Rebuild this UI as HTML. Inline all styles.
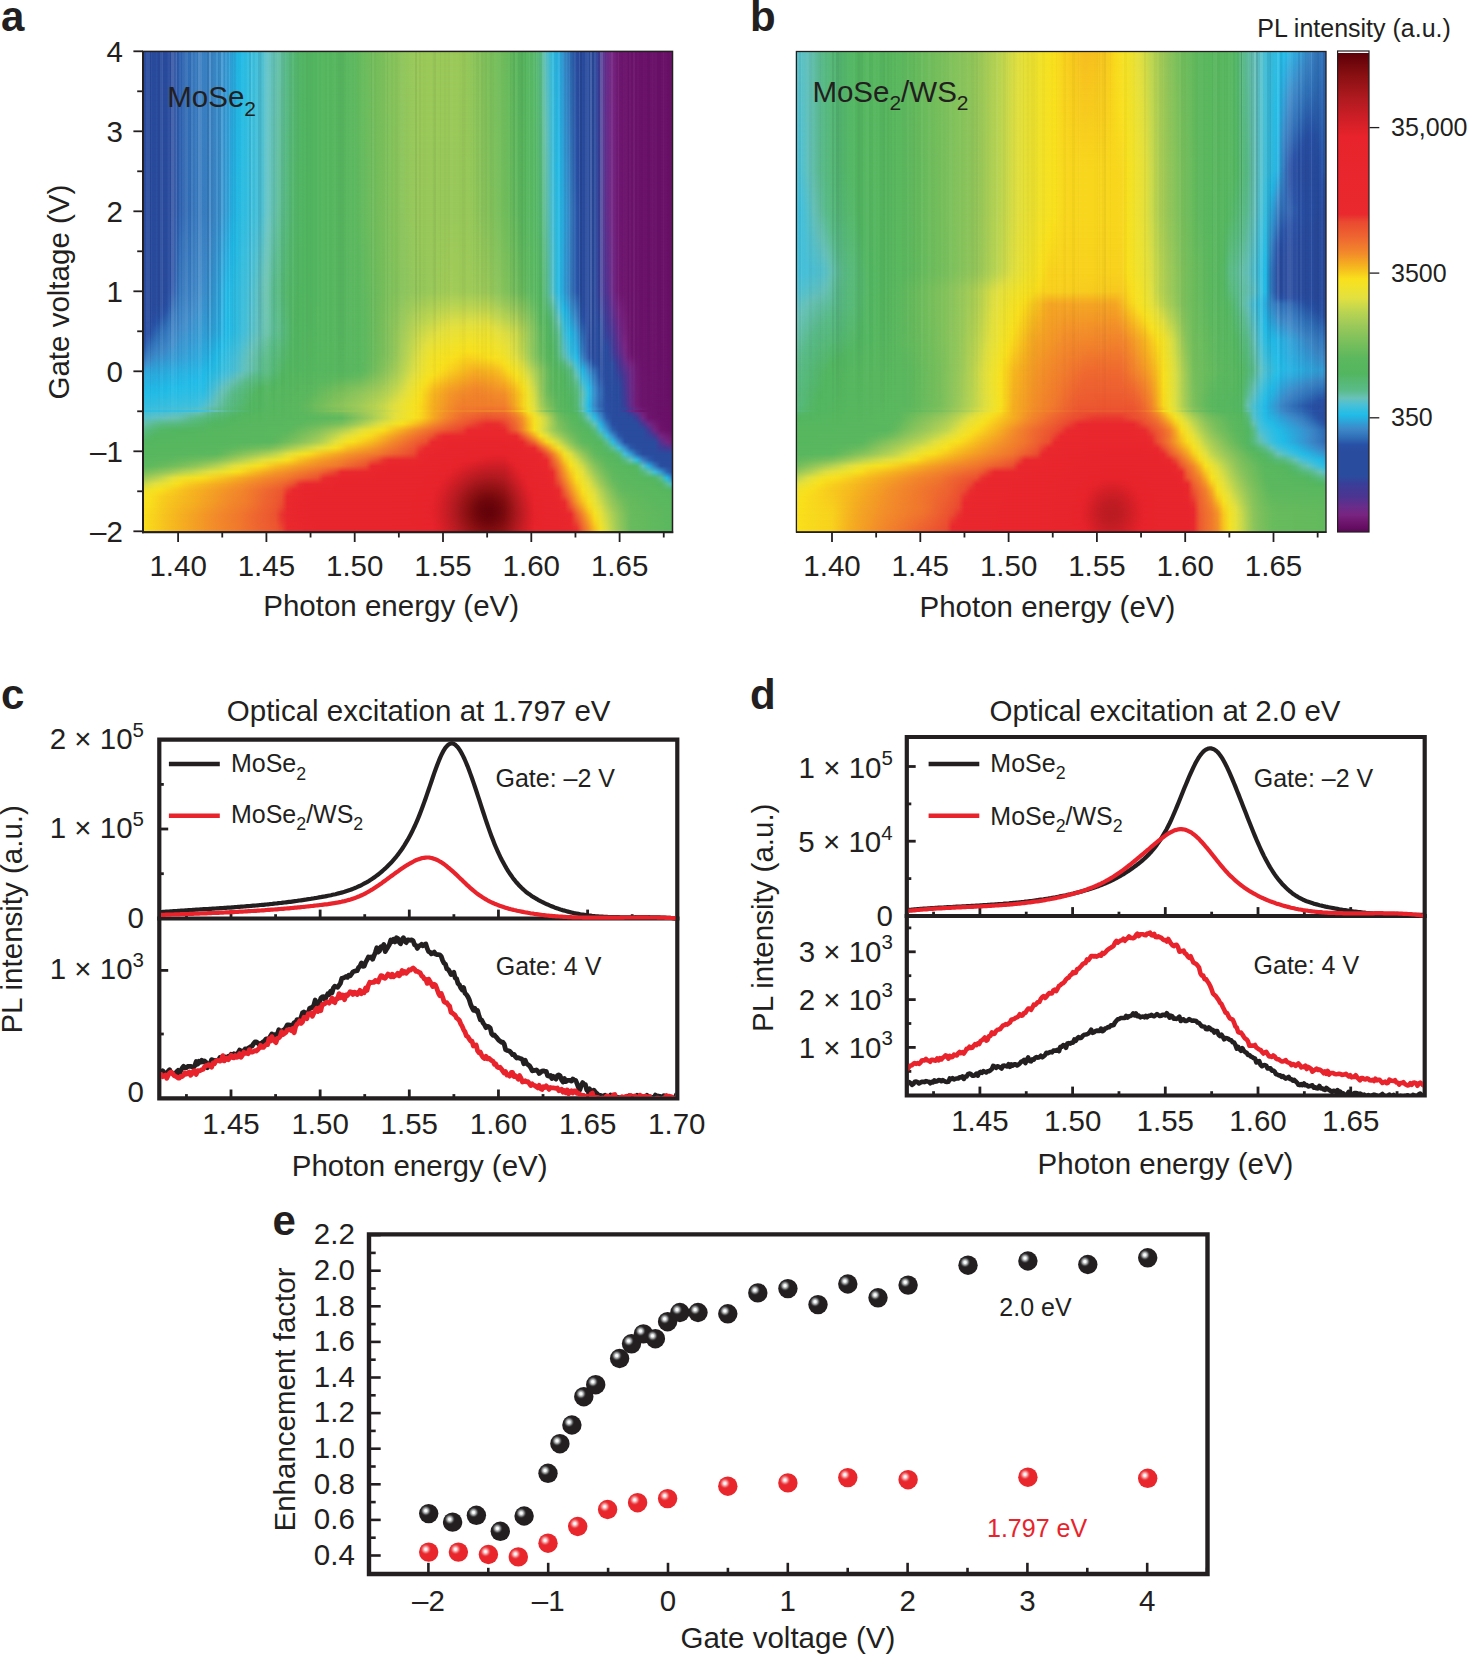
<!DOCTYPE html>
<html><head><meta charset="utf-8"><title>Figure</title>
<style>
html,body{margin:0;padding:0;background:#fff;width:1467px;height:1658px;overflow:hidden}
body{position:relative;font-family:"Liberation Sans",sans-serif}
.hm{position:absolute;overflow:hidden}
.hm>div{position:absolute;left:0;width:100%}
.hm i{position:absolute;left:0;top:0;right:0;bottom:0;-webkit-mask-image:linear-gradient(180deg,rgba(0,0,0,0),#000);mask-image:linear-gradient(180deg,rgba(0,0,0,0),#000)}
svg{position:absolute;left:0;top:0}
</style></head><body>
<div class="hm" style="left:143px;top:51.5px;width:529.5px;height:480px;--g0:linear-gradient(90deg,#2a4c9e,#2a4c9e,#2a4c9e,#2a4c9e,#2a4c9e,#2a4c9e,#2c5ead,#2e68b3,#3171b9,#3578be,#3880c2,#3b85c6,#3b8bca,#3891ce,#3498d2,#2ba8db,#21bce8,#2dbde3,#39bede,#44c0da,#51c1cf,#60c1c0,#66c1b0,#60be9c,#59ba84,#56b975,#54b768,#53b663,#53b660,#54b660,#55b75f,#56b75f,#57b75f,#58b75f,#5ab85e,#5db85e,#64ba5d,#6cbc5d,#72bd5c,#78bf5c,#7ec15c,#84c25b,#8ac45b,#8ec55b,#93c75a,#98c85a,#9bc959,#9bc959,#9bc959,#9bc959,#9bc959,#9bc959,#9bc959,#9ac959,#93c75a,#8dc55b,#86c35b,#80c15c,#7abf5c,#73be5c,#6dbc5d,#64ba5d,#5cb85e,#59b75f,#54b660,#54b769,#59bb85,#59c1c7,#33bee0,#28aedf,#398fcd,#2f6db6,#2a4c9e,#2a4c9e,#2a4c9e,#2a4c9e,#473793,#6a2c8a,#772581,#6f1871,#6d146d,#6c136c,#6c126b,#6b126a,#6b1169,#6a1069,#6a1068,#691067,#680f66);--g1:linear-gradient(90deg,#2a4c9e,#2a4c9e,#2a4c9e,#2a4c9e,#2a4c9e,#2a4c9e,#2c5ead,#2e68b3,#3171b9,#3578be,#3880c2,#3b85c6,#3b8bca,#3891ce,#3498d2,#2ba8dc,#21bce8,#2ebde3,#39bede,#44c0da,#51c1cf,#60c1c0,#66c1af,#60be9c,#59ba84,#56b975,#54b768,#53b663,#53b660,#54b660,#55b75f,#56b75f,#57b75f,#58b75f,#5ab85e,#5db85e,#64ba5d,#6cbc5d,#72bd5c,#77bf5c,#7dc15c,#83c25b,#89c45b,#8ec55b,#93c75a,#98c85a,#9bc959,#9bc959,#9bc959,#9bc959,#9bc959,#9bc959,#9bc959,#9ac959,#93c75a,#8dc55b,#87c35b,#80c15b,#7ac05c,#74be5c,#6dbc5d,#65ba5d,#5cb85e,#59b75f,#54b660,#54b769,#59bb85,#5ac1c6,#34bee0,#27afe0,#3990cd,#2f6eb7,#2a4c9f,#2a4c9e,#2a4c9e,#2a4c9e,#463793,#6a2c8a,#762581,#6f1871,#6d146d,#6c136c,#6c126b,#6b126a,#6b1169,#6a1069,#6a1068,#691067,#680f66);--g2:linear-gradient(90deg,#2a4c9e,#2a4c9e,#2a4c9e,#2a4c9e,#2a4c9e,#2a4c9e,#2c5ead,#2e68b3,#3171b9,#3478bd,#387fc2,#3b85c6,#3b8bca,#3891ce,#3498d2,#2ba9dc,#21bce8,#2ebde2,#39bede,#44c0da,#51c1cf,#60c1c0,#65c1af,#60be9b,#59ba83,#56b974,#54b768,#53b663,#53b660,#54b660,#55b75f,#56b75f,#57b75f,#58b75f,#5ab85e,#5db85e,#64ba5d,#6cbc5d,#72bd5c,#77bf5c,#7dc15c,#83c25b,#89c45b,#8ec55b,#93c75a,#98c85a,#9bc959,#9bc959,#9bc959,#9bc959,#9bc959,#9bc959,#9bc959,#9ac95a,#94c75a,#8dc55b,#87c35b,#80c15b,#7ac05c,#74be5c,#6ebc5d,#65ba5d,#5cb85e,#59b75f,#54b660,#54b768,#59ba84,#5bc1c5,#35bee0,#27b0e0,#3891cd,#306fb7,#2a4d9f,#2a4c9e,#2a4c9e,#2a4c9e,#463794,#6a2c8a,#762581,#6f1871,#6d146d,#6c136c,#6c126b,#6b126a,#6b1169,#6a1069,#6a1068,#691067,#680f66);--g3:linear-gradient(90deg,#2a4c9e,#2a4c9e,#2a4c9e,#2a4c9e,#2a4c9e,#2a4c9e,#2c5ead,#2e68b3,#3171b9,#3478bd,#387fc2,#3b85c6,#3b8bca,#3891ce,#3499d2,#2ba9dc,#21bce7,#2ebde2,#39bfde,#44c0da,#51c1cf,#60c1c0,#65c1af,#5fbe9b,#59ba83,#56b874,#54b768,#53b663,#53b660,#54b660,#55b75f,#56b75f,#57b75f,#58b75f,#5ab85e,#5cb85e,#64ba5d,#6cbc5d,#72bd5c,#77bf5c,#7dc05c,#83c25b,#89c45b,#8ec55b,#93c75a,#98c85a,#9bc959,#9bc959,#9bc959,#9bc959,#9bc959,#9bc959,#9bc959,#9ac95a,#94c75a,#8dc55b,#87c35b,#81c15b,#7ac05c,#74be5c,#6ebc5d,#65ba5d,#5cb85e,#59b75f,#55b75f,#54b768,#59ba83,#5cc1c4,#36bedf,#27b0e1,#3891ce,#3070b8,#2a4d9f,#2a4c9e,#2a4c9e,#2a4c9e,#463794,#6a2c8a,#762581,#6f1871,#6d146d,#6c136c,#6c126b,#6b126a,#6b1169,#6a1069,#6a1068,#691067,#680f66);--g4:linear-gradient(90deg,#2a4c9e,#2a4c9e,#2a4c9e,#2a4c9e,#2a4c9e,#2a4c9e,#2c5ead,#2e68b3,#3071b9,#3478bd,#387fc2,#3b85c6,#3b8bca,#3892ce,#3499d2,#2aaadd,#22bce7,#2ebde2,#39bfde,#44c0da,#51c1cf,#60c2c0,#65c1af,#5fbe9a,#59ba83,#56b873,#54b768,#53b663,#53b660,#54b660,#55b75f,#56b75f,#57b75f,#58b75f,#5ab85e,#5cb85e,#64ba5d,#6bbc5d,#72bd5c,#77bf5c,#7dc05c,#83c25b,#89c45b,#8ec55b,#93c75a,#98c85a,#9bc959,#9bc959,#9bc959,#9bc959,#9bc959,#9bc959,#9bc959,#9ac95a,#94c75a,#8ec55b,#87c35b,#81c25b,#7bc05c,#74be5c,#6ebc5d,#65ba5d,#5cb85e,#59b75f,#55b75f,#53b767,#59ba82,#5dc1c3,#36bedf,#26b1e1,#3792ce,#3071b9,#2a4da0,#2a4c9e,#2a4c9e,#2a4c9e,#453894,#6a2c8a,#762581,#6f1871,#6d146d,#6c136c,#6c126b,#6b126a,#6b1169,#6a1069,#6a1068,#691067,#680f66);--g5:linear-gradient(90deg,#2a4c9e,#2a4c9e,#2a4c9e,#2a4c9e,#2a4c9e,#2a4c9e,#2c5ead,#2e68b3,#3071b9,#3478bd,#387fc2,#3b85c6,#3b8bca,#3892ce,#3399d3,#2aaadd,#22bce7,#2ebde2,#39bfde,#44c0da,#51c1cf,#60c2c0,#65c1ae,#5fbe9a,#59ba82,#56b873,#54b768,#53b663,#53b660,#54b660,#55b75f,#56b75f,#57b75f,#58b75f,#5ab85e,#5cb85e,#64ba5d,#6bbc5d,#72bd5c,#77bf5c,#7dc05c,#83c25b,#89c45b,#8ec55b,#93c75a,#98c85a,#9bc959,#9bc959,#9bc959,#9bc959,#9bc959,#9bc959,#9bc959,#9ac95a,#94c75a,#8ec55b,#88c35b,#81c25b,#7bc05c,#74be5c,#6ebd5d,#65ba5d,#5cb85e,#59b75f,#55b75f,#53b767,#59ba81,#5ec1c2,#37bedf,#26b2e2,#3793cf,#3172b9,#294da0,#2a4c9e,#2a4c9e,#2a4c9e,#453894,#692c8a,#762581,#6f1871,#6d146d,#6c136c,#6c126b,#6b126a,#6b1169,#6a1069,#6a1068,#691067,#680f66);--g6:linear-gradient(90deg,#2a4c9e,#2a4c9e,#2a4c9e,#2a4c9e,#2a4c9e,#2a4c9e,#2c5ead,#2e68b3,#3071b9,#3478bd,#387fc2,#3b85c6,#3b8bca,#3892ce,#3399d3,#2aaadd,#22bce7,#2ebde2,#39bfde,#44c0d9,#51c1cf,#60c2c0,#65c1ae,#5fbd99,#59ba82,#56b873,#54b768,#53b663,#53b660,#54b660,#55b75f,#56b75f,#57b75f,#58b75f,#5ab85e,#5cb85e,#64ba5d,#6bbc5d,#71bd5c,#77bf5c,#7dc05c,#83c25b,#89c45b,#8ec55b,#93c65a,#97c85a,#9bc959,#9bc959,#9bc959,#9bc959,#9bc959,#9bc959,#9bc959,#99c95a,#94c75a,#8ec55b,#88c35b,#82c25b,#7bc05c,#75be5c,#6ebd5d,#66ba5d,#5db85e,#59b75f,#55b75f,#53b766,#59ba81,#5fc1c1,#38bede,#25b2e2,#3794cf,#3173ba,#294da0,#2a4c9e,#2a4c9e,#2a4c9e,#453894,#692c8a,#762581,#6f1871,#6d146d,#6c136c,#6c126b,#6b126a,#6b1169,#6a1069,#6a1068,#691067,#680f66);--g7:linear-gradient(90deg,#2a4c9e,#2a4c9e,#2a4c9e,#2a4c9e,#2a4c9e,#2a4c9e,#2c5ead,#2e68b3,#3071b8,#3478bd,#387fc2,#3b84c6,#3c8bca,#3892ce,#339ad3,#29abde,#23bce7,#2fbde2,#39bfde,#44c0d9,#51c1cf,#60c2c0,#65c0ae,#5fbd98,#59ba82,#56b872,#53b767,#52b662,#53b660,#54b660,#55b75f,#56b75f,#57b75f,#58b75f,#5ab85e,#5cb85e,#63ba5d,#6bbc5d,#71bd5c,#77bf5c,#7dc05c,#83c25b,#89c45b,#8ec55b,#92c65a,#97c85a,#9ac959,#9ac959,#9ac959,#9ac959,#9ac959,#9ac959,#9ac959,#99c95a,#94c75a,#8ec55b,#88c45b,#82c25b,#7bc05c,#75be5c,#6ebd5d,#66ba5d,#5db85e,#59b75f,#55b75f,#53b766,#58ba80,#61c2bf,#39bede,#25b3e2,#3694d0,#3273ba,#294da1,#2a4c9e,#2a4c9e,#2a4c9e,#443894,#692c8a,#762581,#6f1871,#6d146d,#6c136c,#6c126b,#6b126a,#6b1169,#6a1069,#6a1068,#691067,#680f66);--g8:linear-gradient(90deg,#2a4c9e,#2a4c9e,#2a4c9e,#2a4c9e,#2a4c9e,#2a4c9e,#2c5ead,#2e68b3,#3071b8,#3478bd,#387fc2,#3b84c6,#3c8bca,#3892ce,#339ad3,#29abde,#23bce7,#2fbde2,#3abfde,#44c0d9,#51c1cf,#61c2bf,#65c0ad,#5fbd98,#59ba81,#56b872,#53b767,#52b662,#53b660,#54b660,#55b75f,#56b75f,#57b75f,#58b75f,#5ab85e,#5cb85e,#63ba5d,#6bbc5d,#71bd5c,#77bf5c,#7dc05c,#83c25b,#89c45b,#8ec55b,#92c65a,#97c85a,#9ac959,#9ac959,#9ac959,#9ac959,#9ac959,#9ac959,#9ac959,#99c85a,#95c75a,#8fc55b,#88c45b,#82c25b,#7cc05c,#75be5c,#6fbd5d,#66bb5d,#5db85e,#59b75f,#55b75f,#53b766,#58ba7f,#62c2be,#3abfde,#25b4e3,#3695d0,#3274bb,#294ea1,#2a4c9e,#2a4c9e,#2a4c9e,#443894,#692c8a,#762581,#701871,#6d146d,#6c136c,#6c126b,#6b126a,#6b1169,#6a1069,#6a1068,#691067,#680f66);--g9:linear-gradient(90deg,#2a4c9e,#2a4c9e,#2a4c9e,#2a4c9e,#2a4c9e,#2a4c9e,#2c5ead,#2e67b3,#3071b8,#3477bd,#387ec2,#3b84c5,#3c8bca,#3792ce,#339ad3,#29acde,#23bce7,#2fbde2,#3abfde,#44c0d9,#51c1cf,#61c2bf,#65c0ad,#5ebd97,#59ba81,#56b872,#53b767,#52b662,#53b660,#54b660,#55b75f,#56b75f,#57b75f,#58b75f,#5ab85e,#5cb85e,#63ba5d,#6bbc5d,#71bd5c,#77bf5c,#7dc05c,#83c25b,#88c45b,#8dc55b,#92c65a,#97c85a,#9ac959,#9ac959,#9ac959,#9ac959,#9ac959,#9ac959,#9ac959,#99c85a,#95c75a,#8fc55b,#89c45b,#82c25b,#7cc05c,#75be5c,#6fbd5d,#66bb5d,#5db85e,#59b75f,#55b75f,#53b765,#58ba7e,#63c2bd,#3abfdd,#24b4e3,#3596d0,#3375bb,#294ea1,#2a4c9e,#2a4c9e,#2a4c9e,#443994,#692c8a,#762582,#701871,#6d146d,#6c136c,#6c126b,#6b126a,#6b1169,#6a1069,#6a1068,#691067,#680f66);--g10:linear-gradient(90deg,#2a4c9e,#2a4c9e,#2a4c9e,#2a4c9e,#2a4c9e,#2a4c9e,#2c5ead,#2e67b3,#3070b8,#3477bd,#387ec2,#3b84c5,#3c8bca,#3792ce,#339bd3,#29acde,#23bce7,#2fbee2,#3abfde,#44c0d9,#51c1cf,#61c2bf,#65c0ad,#5ebd97,#59ba81,#55b871,#53b767,#52b662,#53b660,#54b660,#55b75f,#56b75f,#57b75f,#58b75f,#5ab85e,#5cb85e,#63ba5d,#6bbc5d,#71bd5c,#77bf5c,#7dc05c,#83c25b,#88c45b,#8dc55b,#92c65a,#97c85a,#9ac959,#9ac959,#9ac959,#9ac959,#9ac959,#9ac959,#9ac959,#99c85a,#95c75a,#8fc55b,#89c45b,#83c25b,#7cc05c,#75be5c,#6fbd5d,#66bb5d,#5db85e,#59b75f,#55b75f,#53b765,#58ba7e,#64c2bc,#3bbfdd,#24b5e4,#3596d1,#3376bc,#294ea1,#2a4c9e,#2a4c9e,#2a4c9e,#433995,#682c8a,#762582,#701871,#6d146d,#6c136c,#6c126b,#6b126a,#6b1169,#6a1069,#6a1068,#691067,#680f66);--g11:linear-gradient(90deg,#2a4c9e,#2a4c9e,#2a4c9e,#2a4c9e,#2a4c9e,#2a4c9e,#2c5ead,#2e67b3,#3070b8,#3477bd,#387ec1,#3b84c5,#3c8bca,#3792ce,#339bd4,#28addf,#24bce6,#2fbee2,#3abfde,#45c0d9,#51c1cf,#61c2bf,#65c0ac,#5ebd96,#58ba80,#55b871,#53b767,#52b662,#53b660,#54b660,#55b75f,#56b75f,#57b75f,#58b75f,#5ab85e,#5cb85e,#63ba5e,#6abc5d,#71bd5c,#77bf5c,#7dc05c,#82c25b,#88c45b,#8dc55b,#92c65a,#97c85a,#9ac959,#9ac959,#9ac959,#9ac959,#9ac959,#9ac959,#9ac959,#99c85a,#95c75a,#8fc65b,#89c45b,#83c25b,#7cc05c,#76be5c,#6fbd5d,#67bb5d,#5eb85e,#5ab85e,#55b75f,#53b764,#58ba7d,#65c2bb,#3cbfdd,#23b6e4,#3597d1,#3477bd,#294ea2,#2a4c9e,#2a4c9e,#2a4c9e,#433995,#682d8a,#762582,#701871,#6d146d,#6c136c,#6c126b,#6b126a,#6b1169,#6a1069,#6a1068,#691067,#680f66);--g12:linear-gradient(90deg,#2a4c9e,#2a4c9e,#2a4c9e,#2a4c9e,#2a4c9e,#2a4c9e,#2c5ead,#2e67b3,#3070b8,#3477bd,#387ec1,#3b84c5,#3c8bca,#3792ce,#329bd4,#28addf,#24bce6,#2fbee2,#3abfde,#45c0d9,#51c1cf,#61c2bf,#64c0ac,#5ebd95,#58ba80,#55b871,#53b767,#52b662,#53b660,#54b660,#55b75f,#56b75f,#57b75f,#58b75f,#5ab85e,#5cb85e,#63ba5e,#6abc5d,#71bd5d,#77bf5c,#7cc05c,#82c25b,#88c45b,#8dc55b,#92c65a,#97c85a,#9ac959,#9ac959,#9ac959,#9ac959,#9ac959,#9ac959,#9ac959,#99c85a,#95c75a,#8fc65b,#89c45b,#83c25b,#7dc05c,#76be5c,#6fbd5d,#67bb5d,#5eb85e,#5ab85e,#56b75f,#53b764,#58b97c,#66c2ba,#3dbfdd,#23b6e5,#3498d2,#3478bd,#294ea2,#2a4c9e,#2a4c9e,#2a4c9e,#433995,#682d8b,#762582,#701872,#6d146d,#6c136c,#6c126b,#6b126a,#6b1169,#6a1069,#6a1068,#691067,#680f66);--g13:linear-gradient(90deg,#2a4c9e,#2a4c9e,#2a4c9e,#2a4c9e,#2a4c9e,#2a4c9e,#2c5ead,#2e67b3,#3070b8,#3477bd,#387ec1,#3b84c5,#3c8bca,#3792ce,#329bd4,#28aedf,#24bce6,#30bee2,#3abfde,#45c0d9,#51c1cf,#61c2bf,#64c0ac,#5ebd95,#58ba80,#55b870,#53b767,#52b662,#53b660,#54b660,#55b75f,#56b75f,#57b75f,#58b75f,#5ab85e,#5cb85e,#63ba5e,#6abc5d,#71bd5d,#77bf5c,#7cc05c,#82c25b,#88c35b,#8dc55b,#92c65a,#97c85a,#9ac95a,#9ac95a,#9ac95a,#9ac95a,#9ac95a,#9ac95a,#9ac95a,#99c85a,#95c75a,#90c65b,#8ac45b,#83c25b,#7dc05c,#76bf5c,#6fbd5d,#67bb5d,#5eb95e,#5ab85e,#56b75f,#53b664,#57b97b,#67c2b9,#3ebfdc,#23b7e5,#3498d2,#3578be,#294fa2,#2a4c9e,#2a4c9e,#2a4c9e,#423995,#682d8b,#762582,#701872,#6d146d,#6c136c,#6c126b,#6b126a,#6b1169,#6a1069,#6a1068,#691067,#680f66);--g14:linear-gradient(90deg,#2a4c9e,#2a4c9e,#2a4c9e,#2a4c9e,#2a4c9e,#2a4c9e,#2c5ead,#2e67b3,#3070b8,#3477bd,#377ec1,#3b84c5,#3c8bca,#3792ce,#329cd4,#28aee0,#25bce6,#30bee2,#3abfde,#45c0d9,#51c1cf,#61c2bf,#64c0ab,#5ebd94,#58ba7f,#55b870,#53b767,#52b662,#53b660,#54b660,#55b75f,#56b75f,#57b75f,#58b75f,#5ab85e,#5cb85e,#63ba5e,#6abc5d,#71bd5d,#77bf5c,#7cc05c,#82c25b,#88c35b,#8dc55b,#92c65a,#97c85a,#9ac95a,#9ac95a,#9ac95a,#9ac95a,#9ac95a,#9ac95a,#9ac95a,#99c85a,#96c75a,#90c65b,#8ac45b,#84c25b,#7dc05c,#76bf5c,#70bd5d,#67bb5d,#5eb95e,#5ab85e,#56b75f,#53b663,#57b97a,#68c2b7,#3ebfdc,#22b8e5,#3399d3,#3579be,#294fa3,#2a4c9e,#2a4c9e,#2a4c9e,#423a95,#682d8b,#762582,#701872,#6d146d,#6c136c,#6c126b,#6b126a,#6b1169,#6a1069,#6a1068,#691067,#680f66);--g15:linear-gradient(90deg,#2a4c9e,#2a4c9e,#2a4c9e,#2a4c9e,#2a4c9e,#2a4c9e,#2c5ead,#2e67b3,#3070b8,#3477bd,#377ec1,#3b84c5,#3c8aca,#3792ce,#329cd4,#27afe0,#25bce6,#30bee2,#3abfdd,#45c0d9,#51c1cf,#62c2be,#64c0ab,#5dbd94,#58ba7f,#55b870,#53b767,#52b662,#53b660,#54b660,#55b75f,#56b75f,#57b75f,#58b75f,#5ab85e,#5cb85e,#62ba5e,#6abb5d,#71bd5d,#77bf5c,#7cc05c,#82c25b,#88c35b,#8dc55b,#92c65a,#96c85a,#99c95a,#99c95a,#99c95a,#99c95a,#99c95a,#99c95a,#99c95a,#99c85a,#96c75a,#90c65b,#8ac45b,#84c25b,#7ec15c,#77bf5c,#70bd5d,#67bb5d,#5eb95e,#5ab85e,#56b75f,#53b663,#57b97a,#67c2b6,#3fbfdc,#22b9e6,#339ad3,#367abf,#294fa3,#2a4c9e,#2a4c9e,#2a4c9e,#423a95,#672d8b,#752582,#701872,#6d146d,#6c136c,#6c126b,#6b126a,#6b1169,#6a1069,#6a1068,#691067,#680f66);--g16:linear-gradient(90deg,#2a4c9e,#2a4c9e,#2a4c9e,#2a4c9e,#2a4c9e,#2a4c9e,#2c5ead,#2e67b3,#3070b8,#3477bc,#377dc1,#3b84c5,#3c8aca,#3792ce,#329cd4,#27afe0,#25bde6,#30bee2,#3abfdd,#45c0d9,#51c1cf,#62c2be,#64c0ab,#5dbd93,#58ba7f,#55b86f,#53b767,#52b662,#53b660,#54b660,#55b75f,#56b75f,#57b75f,#58b75f,#5ab85e,#5cb85e,#62ba5e,#6abb5d,#71bd5d,#77bf5c,#7cc05c,#82c25b,#88c35b,#8dc55b,#91c65a,#96c85a,#99c85a,#99c85a,#99c85a,#99c85a,#99c85a,#99c85a,#99c85a,#99c85a,#96c75a,#90c65a,#8ac45b,#84c25b,#7ec15c,#77bf5c,#70bd5d,#68bb5d,#5fb95e,#5ab85e,#56b75f,#52b662,#57b979,#67c1b4,#40bfdb,#22b9e6,#339ad3,#367bbf,#284fa3,#2a4c9e,#2a4c9e,#2a4c9e,#413a95,#672d8b,#752582,#701872,#6d146d,#6c136c,#6c126b,#6b126a,#6b1169,#6a1069,#6a1068,#691067,#680f66);--g17:linear-gradient(90deg,#2a4c9e,#2a4c9e,#2a4c9e,#2a4c9e,#2a4c9e,#2a4c9e,#2c5ead,#2e67b3,#3070b8,#3477bc,#377dc1,#3b83c5,#3c8aca,#3792ce,#329dd5,#27b0e0,#25bde6,#30bee1,#3bbfdd,#45c0d9,#51c1cf,#62c2be,#64c0aa,#5dbd92,#58ba7e,#55b86f,#53b767,#52b662,#53b660,#54b660,#55b75f,#56b75f,#57b75f,#58b75f,#5ab85e,#5cb85e,#62ba5e,#6abb5d,#71bd5d,#76bf5c,#7cc05c,#82c25b,#87c35b,#8dc55b,#91c65a,#96c75a,#99c85a,#99c85a,#99c85a,#99c85a,#99c85a,#99c85a,#99c85a,#99c85a,#96c75a,#90c65a,#8ac45b,#85c35b,#7ec15c,#77bf5c,#70bd5d,#68bb5d,#5fb95e,#5ab85e,#56b75f,#52b662,#57b978,#67c1b3,#41bfdb,#21bae7,#329bd4,#367cc0,#284fa4,#2a4c9e,#2a4c9e,#2a4c9e,#413a95,#672d8b,#752682,#701872,#6d146d,#6c136c,#6c126b,#6b126a,#6b1169,#6a1069,#6a1068,#691067,#680f66);--g18:linear-gradient(90deg,#2a4c9e,#2a4c9e,#2a4c9e,#2a4c9e,#2a4c9e,#2a4c9e,#2c5ead,#2e67b3,#3070b8,#3477bc,#377dc1,#3a83c5,#3c8ac9,#3793cf,#319dd5,#27b0e1,#26bde6,#30bee1,#3bbfdd,#45c0d9,#51c1cf,#62c2be,#64c0aa,#5dbc92,#58ba7e,#55b86f,#53b766,#52b662,#53b660,#54b660,#55b75f,#56b75f,#57b75f,#58b75f,#5ab85e,#5bb85e,#62b95e,#69bb5d,#70bd5d,#76bf5c,#7cc05c,#82c25b,#87c35b,#8cc55b,#91c65a,#96c75a,#99c85a,#99c85a,#99c85a,#99c85a,#99c85a,#99c85a,#99c85a,#99c85a,#96c85a,#91c65a,#8bc45b,#85c35b,#7ec15c,#77bf5c,#70bd5d,#68bb5d,#5fb95e,#5ab85e,#56b75f,#52b662,#57b977,#66c1b1,#42bfdb,#21bbe7,#329cd4,#377dc0,#284fa4,#2a4c9e,#2a4c9e,#2a4c9e,#403a96,#672d8b,#752682,#701872,#6d146d,#6c136c,#6c126b,#6b126a,#6b1169,#6a1069,#6a1068,#691067,#680f66);--g19:linear-gradient(90deg,#2a4c9e,#2a4c9e,#2a4c9e,#2a4c9e,#2a4c9e,#2a4c9e,#2c5ead,#2e67b3,#3070b8,#3376bc,#377dc1,#3a83c5,#3c8ac9,#3793cf,#319dd5,#26b1e1,#26bde6,#31bee1,#3bbfdd,#45c0d9,#51c1cf,#62c2be,#64c0aa,#5dbc91,#58ba7d,#55b86e,#53b766,#52b662,#53b660,#54b660,#55b75f,#56b75f,#57b75f,#58b75f,#5ab85e,#5bb85e,#62b95e,#69bb5d,#70bd5d,#76bf5c,#7cc05c,#82c25b,#87c35b,#8cc55b,#91c65a,#96c75a,#99c85a,#99c85a,#99c85a,#99c85a,#99c85a,#99c85a,#99c85a,#99c85a,#97c85a,#91c65a,#8bc45b,#85c35b,#7fc15c,#77bf5c,#70bd5d,#68bb5d,#5fb95e,#5ab85e,#56b75f,#52b661,#56b976,#66c1b0,#42bfda,#20bbe8,#329dd5,#377ec1,#2850a4,#2a4c9e,#2a4c9e,#2a4c9e,#403b96,#662d8b,#752682,#701872,#6d146d,#6c136c,#6c126b,#6b126a,#6b1169,#6a1069,#6a1068,#691067,#680f66);--g20:linear-gradient(90deg,#2a4c9e,#2a4c9e,#2a4c9e,#2a4c9e,#2a4c9e,#2a4c9e,#2c5ead,#2e67b3,#3070b8,#3376bc,#377dc1,#3a83c5,#3c8ac9,#3793cf,#319dd5,#26b1e1,#26bde5,#31bee1,#3bbfdd,#45c0d9,#51c1cf,#62c2be,#64c0a9,#5dbc91,#58ba7d,#55b86e,#53b766,#52b662,#53b660,#54b660,#55b75f,#56b75f,#57b75f,#58b75f,#5ab85e,#5bb85e,#62b95e,#69bb5d,#70bd5d,#76bf5c,#7cc05c,#81c25b,#87c35b,#8cc55b,#91c65a,#96c75a,#99c85a,#99c85a,#99c85a,#99c85a,#99c85a,#99c85a,#99c85a,#98c85a,#97c85a,#91c65a,#8bc45b,#85c35b,#7fc15c,#78bf5c,#71bd5d,#68bb5d,#5fb95e,#5ab85e,#56b75f,#52b661,#56b976,#65c1ae,#43c0da,#20bce8,#319dd5,#387ec2,#2850a5,#2a4c9e,#2a4c9e,#2a4c9e,#403b96,#662d8b,#752682,#701872,#6d146d,#6c136c,#6c126b,#6b126a,#6b1169,#6a1069,#6a1068,#691067,#680f66);--g21:linear-gradient(90deg,#2a4c9e,#2a4c9e,#2a4c9e,#2a4c9e,#2a4c9e,#2a4c9e,#2c5ead,#2e67b3,#3070b8,#3376bc,#377dc1,#3a83c5,#3c8ac9,#3793cf,#319ed5,#26b2e2,#27bde5,#31bee1,#3bbfdd,#45c0d9,#51c1cf,#62c2be,#64c0a9,#5cbc90,#58ba7d,#55b86e,#53b766,#52b661,#53b660,#54b660,#55b75f,#56b75f,#57b75f,#58b75f,#5ab85e,#5bb85e,#62b95e,#69bb5d,#70bd5d,#76bf5c,#7cc05c,#81c25b,#87c35b,#8cc55b,#91c65a,#96c75a,#99c85a,#99c85a,#99c85a,#99c85a,#99c85a,#99c85a,#99c85a,#98c85a,#97c85a,#91c65a,#8bc45b,#86c35b,#7fc15c,#78bf5c,#71bd5d,#69bb5d,#60b95e,#5ab85e,#56b75f,#52b660,#56b975,#65c0ad,#44c0da,#21bce8,#319ed5,#387fc2,#2850a5,#2a4c9e,#2a4c9e,#2a4c9e,#3f3b96,#662d8b,#752682,#701872,#6d146d,#6c136c,#6c126b,#6b126a,#6b1169,#6a1069,#6a1068,#691067,#680f66);--g22:linear-gradient(90deg,#2a4c9e,#2a4c9e,#2a4c9e,#2a4c9e,#2a4c9e,#2a4c9e,#2c5ead,#2e67b3,#3070b8,#3376bc,#377dc0,#3a83c5,#3c8ac9,#3793cf,#319ed6,#26b2e2,#27bde5,#31bee1,#3bbfdd,#45c0d9,#51c1cf,#63c2bd,#64c0a9,#5cbc8f,#58ba7c,#55b86d,#53b766,#52b661,#53b660,#54b660,#55b75f,#56b75f,#57b75f,#58b75f,#5ab85e,#5bb85e,#61b95e,#69bb5d,#70bd5d,#76bf5c,#7cc05c,#81c25b,#87c35b,#8cc55b,#91c65a,#96c75a,#99c85a,#99c85a,#99c85a,#99c85a,#99c85a,#99c85a,#99c85a,#98c85a,#97c85a,#91c65a,#8cc55b,#86c35b,#7fc15c,#78bf5c,#71bd5d,#69bb5d,#60b95e,#5ab85e,#57b75f,#52b660,#56b974,#64c0ab,#45c0d9,#22bce7,#309fd6,#3980c3,#2851a5,#2a4c9e,#2a4c9e,#2a4c9e,#3f3b96,#662d8b,#752682,#701872,#6d146d,#6c136c,#6c126b,#6b126a,#6b1169,#6a1069,#6a1068,#691067,#680f66);--g23:linear-gradient(90deg,#2a4c9e,#2a4c9e,#2a4c9e,#2a4c9e,#2a4c9e,#2a4c9e,#2c5ead,#2e67b3,#306fb8,#3376bc,#377cc0,#3a83c5,#3c8ac9,#3793cf,#319ed6,#25b3e2,#27bde5,#31bee1,#3bbfdd,#45c0d9,#51c1cf,#63c2bd,#63c0a8,#5cbc8f,#58ba7c,#55b86d,#53b766,#52b661,#53b660,#54b660,#55b75f,#56b75f,#57b75f,#58b75f,#5ab85e,#5bb85e,#61b95e,#69bb5d,#70bd5d,#76bf5c,#7cc05c,#81c25b,#87c35b,#8cc55b,#91c65a,#96c75a,#98c85a,#98c85a,#98c85a,#98c85a,#98c85a,#98c85a,#98c85a,#98c85a,#97c85a,#92c65a,#8cc55b,#86c35b,#80c15c,#78bf5c,#71bd5c,#69bb5d,#60b95e,#5ab85e,#57b75f,#52b660,#56b873,#64c0aa,#45c0d9,#22bce7,#309fd6,#3981c3,#2852a6,#2a4c9e,#2a4c9e,#2a4c9e,#3f3b96,#662d8b,#752682,#701872,#6d146d,#6c136c,#6c126b,#6b126a,#6b1169,#6a1069,#6a1068,#691067,#680f66);--g24:linear-gradient(90deg,#2a4c9e,#2a4c9e,#2a4c9e,#2a4c9e,#2a4c9e,#2a4c9e,#2c5ead,#2e67b3,#306fb8,#3376bc,#377cc0,#3a83c5,#3c8ac9,#3793cf,#309fd6,#25b3e2,#28bde5,#31bee1,#3bbfdd,#45c0d9,#51c1cf,#63c2bd,#63c0a8,#5cbc8e,#58b97c,#55b86d,#53b766,#52b661,#53b660,#54b660,#55b75f,#56b75f,#57b75f,#58b75f,#5ab85e,#5bb85e,#61b95e,#69bb5d,#70bd5d,#76bf5c,#7bc05c,#81c25b,#87c35b,#8cc55b,#91c65a,#95c75a,#98c85a,#98c85a,#98c85a,#98c85a,#98c85a,#98c85a,#98c85a,#98c85a,#97c85a,#92c65a,#8cc55b,#86c35b,#80c15b,#78bf5c,#71bd5c,#69bb5d,#60b95e,#5ab85e,#57b75f,#52b660,#56b872,#63c0a8,#46c0d9,#23bce7,#30a0d7,#3a82c4,#2953a7,#2a4c9e,#2a4c9e,#2a4c9e,#3e3b96,#652d8b,#752682,#701872,#6d146d,#6c136c,#6c126b,#6b126a,#6b1169,#6a1069,#6a1068,#691067,#680f66);--g25:linear-gradient(90deg,#2a4c9e,#2a4c9e,#2a4c9e,#2a4c9e,#2a4c9e,#2a4c9e,#2c5ead,#2e67b2,#306fb8,#3376bc,#377cc0,#3a83c4,#3c8ac9,#3793cf,#309fd6,#25b3e3,#28bde5,#32bee1,#3bbfdd,#45c0d9,#51c1cf,#63c2bd,#63c0a8,#5cbc8e,#57b97b,#54b86c,#53b766,#52b661,#53b660,#54b660,#55b75f,#56b75f,#57b75f,#58b75f,#5ab85e,#5bb85e,#61b95e,#69bb5d,#70bd5d,#76be5c,#7bc05c,#81c25b,#86c35b,#8cc55b,#91c65a,#95c75a,#98c85a,#98c85a,#98c85a,#98c85a,#98c85a,#98c85a,#98c85a,#98c85a,#98c85a,#92c65a,#8cc55b,#87c35b,#80c15b,#79bf5c,#71bd5c,#6abb5d,#60b95e,#5ab85e,#57b75f,#52b660,#56b872,#63c0a7,#47c0d8,#24bce6,#2fa1d7,#3a83c4,#2954a8,#2a4c9e,#2a4c9e,#2a4c9e,#3e3c96,#652d8b,#752682,#701872,#6d146d,#6c136c,#6c126b,#6b126a,#6b1169,#6a1069,#6a1068,#691067,#680f66);--g26:linear-gradient(90deg,#2a4c9e,#2a4c9e,#2a4c9e,#2a4c9e,#2a4c9e,#2a4c9f,#2c5ead,#2e67b2,#306fb7,#3376bc,#377cc0,#3a83c4,#3c8ac9,#3793cf,#309fd6,#25b4e3,#28bde5,#32bee1,#3cbfdd,#45c0d9,#52c1ce,#63c2bd,#63c0a7,#5bbc8d,#57b97b,#54b86c,#53b766,#52b661,#53b660,#54b660,#55b75f,#56b75f,#57b75f,#59b75f,#5ab85e,#5bb85e,#61b95e,#68bb5d,#70bd5d,#76be5c,#7bc05c,#81c15b,#86c35b,#8cc55b,#90c65a,#95c75a,#98c85a,#98c85a,#98c85a,#98c85a,#98c85a,#98c85a,#98c85a,#98c85a,#98c85a,#92c65a,#8dc55b,#87c35b,#81c15b,#79bf5c,#72bd5c,#6abb5d,#61b95e,#5bb85e,#57b75f,#52b660,#55b871,#63bfa5,#48c0d8,#25bce6,#2fa1d8,#3b83c5,#2956a8,#2a4c9e,#2a4c9e,#2a4c9e,#3e3c97,#652d8b,#752682,#701872,#6d146d,#6c136c,#6c126b,#6b126a,#6b1169,#6a1069,#6a1068,#691067,#680f66);--g27:linear-gradient(90deg,#2a4c9e,#2a4c9e,#2a4c9e,#2a4c9e,#2a4c9e,#2a4d9f,#2c5fae,#2e67b3,#3070b8,#3376bc,#377cc0,#3a83c5,#3b8bca,#3694cf,#30a0d7,#24b5e4,#29bde5,#32bee1,#3cbfdd,#46c0d9,#52c1ce,#64c2bc,#63bfa6,#5bbb8b,#57b97a,#54b76c,#53b765,#52b661,#53b660,#54b660,#55b75f,#56b75f,#57b75f,#59b75f,#5ab85e,#5bb85e,#61b95e,#68bb5d,#70bd5d,#76be5c,#7bc05c,#81c15b,#86c35b,#8bc45b,#90c65a,#95c75a,#98c85a,#98c85a,#98c85a,#98c85a,#98c85a,#98c85a,#98c85a,#98c85a,#98c85a,#93c75a,#8dc55b,#88c35b,#81c25b,#7abf5c,#72be5c,#6abc5d,#61b95e,#5bb85e,#57b75f,#53b660,#55b870,#62bfa4,#49c0d7,#25bce6,#2fa2d8,#3b84c5,#2a56a9,#2a4c9e,#2a4c9e,#2a4c9e,#3e3c97,#642e8b,#742683,#701872,#6d146d,#6c136c,#6c126b,#6b126a,#6b1169,#6a1069,#6a1068,#691067,#680f66);--g28:linear-gradient(90deg,#2a4c9e,#2a4c9e,#2a4c9e,#2a4c9e,#2a4c9e,#2a4da0,#2c61af,#2e69b4,#3171b9,#3477bd,#377ec1,#3b84c5,#3b8cca,#3596d0,#2ea2d8,#23b6e4,#2abde4,#34bee0,#3dbfdc,#47c0d8,#54c1cc,#66c2ba,#62bfa4,#5abb88,#57b979,#54b76b,#53b765,#52b661,#53b660,#54b660,#55b75f,#56b75f,#57b75f,#58b75f,#5ab85e,#5bb85e,#60b95e,#68bb5d,#6fbd5d,#75be5c,#7bc05c,#81c15b,#86c35b,#8bc45b,#90c65a,#95c75a,#98c85a,#98c85a,#98c85a,#99c85a,#99c85a,#99c85a,#99c85a,#99c85a,#99c85a,#94c75a,#8ec55b,#89c45b,#83c25b,#7bc05c,#74be5c,#6cbc5d,#63ba5e,#5bb85e,#58b75f,#53b660,#55b86f,#61bfa1,#4ac0d6,#25bde6,#2fa1d8,#3b84c5,#2a56a9,#2a4c9e,#2a4c9e,#2a4c9e,#3e3c97,#632e8c,#742683,#701872,#6d146d,#6c136c,#6c126b,#6b126a,#6b1169,#6a1069,#6a1068,#691067,#680f66);--g29:linear-gradient(90deg,#2a4c9e,#2a4c9e,#2a4c9e,#2a4c9e,#2a4c9e,#294da0,#2d62b0,#2f6bb5,#3172ba,#3578be,#387fc2,#3b85c6,#3a8dcb,#3497d1,#2da4d9,#23b8e5,#2bbde4,#35bee0,#3fbfdc,#49c0d7,#56c1ca,#67c2b9,#61bfa1,#5abb87,#57b978,#54b76b,#53b765,#52b661,#53b660,#54b660,#55b75f,#56b75f,#57b75f,#58b75f,#5ab85e,#5bb85e,#60b95e,#67bb5d,#6fbd5d,#75be5c,#7bc05c,#80c15b,#86c35b,#8bc45b,#90c65b,#95c75a,#97c85a,#98c85a,#98c85a,#99c85a,#99c85a,#9ac95a,#9ac95a,#99c95a,#99c85a,#94c75a,#90c65b,#8bc45b,#84c25b,#7cc05c,#75be5c,#6dbc5d,#64ba5d,#5cb85e,#58b75f,#54b660,#55b86e,#61be9e,#4bc0d5,#25bde6,#2fa1d8,#3a83c5,#2a56a9,#2a4c9e,#2a4c9e,#2a4c9e,#3e3c97,#612e8c,#742783,#701872,#6d146d,#6c136c,#6c126b,#6b126a,#6b1169,#6a1069,#6a1068,#691067,#680f66);--g30:linear-gradient(90deg,#2a4c9e,#2a4c9e,#2a4c9e,#2a4c9e,#2a4c9e,#294ea1,#2d64b1,#2f6cb6,#3273ba,#357abe,#3980c3,#3c86c7,#398ecc,#3399d3,#2ca6db,#22b9e6,#2cbde3,#36bedf,#40bfdb,#4bc0d5,#58c1c8,#68c2b7,#61be9f,#59bb85,#56b976,#54b76a,#53b765,#52b660,#53b660,#54b660,#55b75f,#56b75f,#57b75f,#58b75f,#5ab85e,#5bb85e,#5fb95e,#67bb5d,#6ebd5d,#74be5c,#7ac05c,#80c15b,#86c35b,#8bc45b,#90c65b,#94c75a,#97c85a,#98c85a,#98c85a,#99c85a,#9ac959,#9bc959,#9ac959,#9ac959,#9ac95a,#95c75a,#91c65a,#8cc55b,#85c35b,#7ec15c,#76bf5c,#6ebc5d,#65ba5d,#5cb85e,#58b75f,#54b660,#55b86d,#60be9c,#4cc0d4,#25bde6,#2fa1d7,#3a83c5,#2a56a9,#2a4c9e,#2a4c9e,#2a4c9e,#3e3c97,#602f8d,#732783,#701872,#6d146d,#6c136c,#6c126b,#6b126a,#6b1169,#6a1069,#6a1068,#691067,#680f66);--g31:linear-gradient(90deg,#2a4c9e,#2a4c9e,#2a4c9e,#2a4c9e,#2a4c9e,#294ea1,#2d66b2,#306eb7,#3375bb,#367bbf,#3981c3,#3d87c8,#3990cd,#329bd4,#2ba8dc,#21bae7,#2dbde3,#37bedf,#41bfdb,#4dc0d3,#5ac1c6,#67c1b4,#60be9c,#59ba84,#56b975,#54b76a,#53b764,#52b660,#53b660,#54b660,#55b75f,#56b75f,#57b75f,#58b75f,#5ab85e,#5bb85e,#5fb95e,#66bb5d,#6ebc5d,#74be5c,#7ac05c,#80c15b,#85c35b,#8bc45b,#8fc65b,#94c75a,#97c85a,#98c85a,#99c85a,#99c95a,#9ac959,#9bc959,#9bc959,#9bc959,#9ac959,#96c75a,#92c65a,#8ec55b,#87c35b,#7fc15c,#77bf5c,#6fbd5d,#66bb5d,#5db85e,#59b75f,#54b660,#54b76b,#5fbd99,#4dc0d3,#25bde6,#2fa1d7,#3a82c4,#2a56a9,#2a4c9e,#2a4c9e,#2a4c9e,#3e3c97,#5e2f8d,#732784,#701972,#6d146d,#6c136c,#6c126b,#6b126a,#6b1169,#6a1069,#6a1068,#691067,#680f66);--g32:linear-gradient(90deg,#2a4c9e,#2a4c9e,#2a4c9e,#2a4c9e,#2a4c9e,#294ea2,#2e68b3,#3070b8,#3376bc,#377cc0,#3a82c4,#3d89c8,#3891ce,#319dd5,#2aaadd,#20bce8,#2ebde2,#38bede,#43bfda,#4ec0d2,#5cc1c4,#66c1b2,#5fbe99,#59ba83,#56b874,#54b769,#53b764,#52b660,#53b660,#54b660,#55b75f,#56b75f,#57b75f,#58b75f,#5ab85e,#5bb85e,#5eb95e,#66ba5d,#6dbc5d,#74be5c,#7ac05c,#80c15b,#85c35b,#8ac45b,#8fc65b,#94c75a,#97c85a,#98c85a,#99c85a,#9ac959,#9bc959,#9cc959,#9cc959,#9bc959,#9bc959,#97c85a,#93c75a,#8fc65b,#88c45b,#81c15b,#79bf5c,#70bd5d,#67bb5d,#5eb95e,#59b75f,#55b75f,#54b76a,#5ebd96,#4fc0d1,#25bde6,#2fa1d7,#3a82c4,#2a56a9,#2a4c9e,#2a4c9e,#2a4c9e,#3d3c97,#5d308d,#722784,#701972,#6d146d,#6c136c,#6c126b,#6b126a,#6b1169,#6a1069,#6a1068,#691067,#680f66);--g33:linear-gradient(90deg,#2a4c9e,#2a4c9e,#2a4c9e,#2a4c9e,#2a4c9e,#294fa2,#2e69b4,#3171b9,#3477bd,#377dc1,#3a83c5,#3c8ac9,#3792ce,#309ed6,#29acde,#21bce8,#2fbee2,#3abfde,#44c0da,#50c1d0,#5ec1c2,#66c1b0,#5ebd97,#59ba81,#56b872,#54b769,#53b664,#52b660,#53b660,#54b660,#55b75f,#56b75f,#57b75f,#58b75f,#5ab85e,#5bb85e,#5eb85e,#65ba5d,#6dbc5d,#73be5c,#7abf5c,#80c15c,#85c35b,#8ac45b,#8fc55b,#94c75a,#96c85a,#98c85a,#99c85a,#9ac959,#9bc959,#9dca59,#9cca59,#9cc959,#9bc959,#97c85a,#94c75a,#91c65a,#8ac45b,#82c25b,#7ac05c,#72bd5c,#69bb5d,#60b95e,#5ab85e,#55b75f,#54b769,#5dbd94,#50c0d0,#25bde6,#2fa0d7,#3a82c4,#2a56a9,#2a4c9e,#2a4c9e,#2a4c9e,#3d3c97,#5c308e,#722884,#701973,#6d146d,#6c136c,#6c126b,#6b126a,#6b1169,#6a1069,#6a1068,#691067,#680f66);--g34:linear-gradient(90deg,#2a4c9e,#2a4c9e,#2a4c9e,#2a4c9e,#2a4c9e,#294fa3,#2f6bb5,#3172ba,#3578be,#387ec2,#3b84c6,#3b8bca,#3793cf,#30a0d7,#28aee0,#23bce7,#30bee2,#3bbfdd,#45c0d9,#52c1ce,#60c1c0,#65c0ae,#5ebd94,#58ba80,#55b871,#54b768,#53b664,#52b660,#53b660,#54b660,#55b75f,#56b75f,#57b75f,#58b75f,#59b75f,#5bb85e,#5db85e,#65ba5d,#6cbc5d,#73be5c,#79bf5c,#80c15c,#85c35b,#8ac45b,#8fc55b,#93c75a,#96c75a,#98c85a,#99c85a,#9ac959,#9cc959,#9dca58,#9dca59,#9cca59,#9cc959,#98c85a,#95c75a,#92c65a,#8bc45b,#83c25b,#7cc05c,#73be5c,#6abb5d,#61b95e,#5ab85e,#56b75f,#54b768,#5dbc91,#51c1cf,#25bde6,#2fa0d7,#3981c4,#2a56a9,#2a4c9e,#2a4c9e,#2a4c9e,#3d3c97,#5a308e,#712885,#701973,#6d146d,#6c136c,#6c126b,#6b126a,#6b1169,#6a1069,#6a1068,#691067,#680f66);--g35:linear-gradient(90deg,#2a4c9e,#2a4c9e,#2a4c9e,#2a4c9e,#2a4c9e,#284fa4,#2f6db6,#3274ba,#357abe,#3880c2,#3c86c6,#3a8dcb,#3695d0,#2fa2d8,#27b0e1,#24bce6,#31bee1,#3cbfdd,#47c0d9,#54c1cc,#62c2be,#64c0ab,#5dbc92,#58ba7f,#55b870,#54b768,#53b663,#52b660,#53b660,#54b660,#55b75f,#56b75f,#57b75f,#58b75f,#59b75f,#5bb85e,#5db85e,#64ba5d,#6cbc5d,#72be5c,#79bf5c,#80c15c,#85c35b,#8ac45b,#8fc55b,#93c75a,#96c75a,#97c85a,#99c85a,#9bc959,#9dca59,#9eca58,#9eca58,#9dca59,#9cc959,#99c85a,#96c85a,#94c75a,#8cc55b,#85c35b,#7dc05c,#74be5c,#6bbc5d,#62ba5e,#5ab85e,#56b75f,#53b767,#5cbc8f,#52c1ce,#25bde6,#30a0d7,#3981c3,#2a56a9,#2a4c9e,#2a4c9e,#2a4c9e,#3d3c97,#59318e,#712885,#701973,#6d146d,#6c136c,#6c126b,#6b126a,#6b1169,#6a1069,#6a1068,#691067,#680f66);--g36:linear-gradient(90deg,#2a4c9e,#2a4c9e,#2a4c9e,#2a4c9e,#2a4c9e,#284fa4,#306fb7,#3375bb,#367bbf,#3981c3,#3c87c7,#3a8ecc,#3596d1,#2ea4d9,#25b2e2,#25bde6,#32bee1,#3dbfdc,#48c0d8,#56c1ca,#64c2bc,#64c0a9,#5cbc8f,#58ba7d,#55b86e,#53b767,#53b663,#52b660,#53b660,#54b660,#55b75f,#56b75f,#57b75f,#58b75f,#59b75f,#5bb85e,#5cb85e,#64ba5d,#6bbc5d,#72be5c,#79bf5c,#7fc15c,#85c35b,#89c45b,#8ec55b,#93c75a,#96c75a,#97c85a,#99c85a,#9bc959,#9dca59,#9fca58,#9eca58,#9dca58,#9dca59,#9ac959,#97c85a,#95c75a,#8ec55b,#86c35b,#7ec15c,#75be5c,#6cbc5d,#63ba5d,#5bb85e,#57b75f,#53b766,#5bbc8c,#53c1cd,#25bde6,#30a0d7,#3981c3,#2a56a9,#2a4c9e,#2a4c9e,#2a4c9e,#3d3c97,#57318f,#712885,#701973,#6d146d,#6c136c,#6c126b,#6b126a,#6b1169,#6a1069,#6a1068,#691067,#680f66);--g37:linear-gradient(90deg,#2a4c9e,#2a4c9e,#2a4c9e,#2a4c9e,#2a4c9e,#2850a5,#3070b8,#3376bc,#377cc0,#3a82c4,#3d88c8,#398fcc,#3597d1,#2da5da,#24b4e3,#27bde5,#33bee0,#3ebfdc,#49c0d7,#57c1c9,#66c2ba,#63c0a7,#5bbc8d,#58b97c,#55b86d,#53b767,#53b663,#52b660,#53b660,#54b660,#55b75f,#56b75f,#57b75f,#58b75f,#59b75f,#5bb85e,#5cb85e,#63ba5d,#6bbc5d,#72bd5c,#79bf5c,#7fc15c,#84c25b,#89c45b,#8ec55b,#93c75a,#95c75a,#97c85a,#99c85a,#9bc959,#9eca58,#a0cb58,#9fca58,#9eca58,#9dca59,#9bc959,#99c85a,#96c85a,#8fc65b,#88c35b,#80c15c,#77bf5c,#6ebc5d,#64ba5d,#5bb85e,#57b75f,#53b765,#5abb89,#54c1cc,#25bde6,#30a0d7,#3980c3,#2a56a9,#2a4c9e,#2a4c9e,#2a4c9e,#3d3c97,#56328f,#702886,#701973,#6d146d,#6c136c,#6c126b,#6b126a,#6b1169,#6a1069,#6a1068,#691067,#680f66);--g38:linear-gradient(90deg,#2a4c9e,#2a4c9e,#2a4c9e,#2a4c9e,#2a4c9e,#2851a6,#3172b9,#3477bd,#377dc1,#3a83c5,#3c89c9,#3891cd,#3498d2,#2ca7db,#23b6e5,#28bde5,#34bee0,#40bfdb,#4bc0d5,#59c1c7,#68c2b8,#62bfa5,#5bbb8a,#57b97a,#54b76c,#53b767,#53b663,#52b660,#53b660,#54b660,#55b75f,#56b75f,#57b75f,#58b75f,#59b75f,#5bb85e,#5cb85e,#63ba5e,#6abc5d,#71bd5c,#78bf5c,#7fc15c,#84c25b,#89c45b,#8ec55b,#93c65a,#95c75a,#97c85a,#99c95a,#9cc959,#9eca58,#a0cb58,#9fcb58,#9fca58,#9eca58,#9cc959,#9ac959,#98c85a,#91c65a,#89c45b,#81c25b,#78bf5c,#6fbd5d,#66ba5d,#5cb85e,#58b75f,#53b663,#5abb88,#55c1cb,#25bde6,#309fd6,#3980c3,#2956a9,#2a4c9e,#2a4c9e,#2a4c9e,#3d3c97,#54328f,#702986,#701973,#6d146d,#6c136c,#6c126b,#6b126a,#6b1169,#6a1069,#6a1068,#691067,#680f66);--g39:linear-gradient(90deg,#2a4c9e,#2a4c9e,#2a4c9e,#2a4c9e,#2a4c9e,#2953a7,#3273ba,#3579be,#387ec2,#3b84c6,#3c8bca,#3792ce,#339ad3,#2ba9dc,#22b8e6,#2abde4,#36bedf,#41bfdb,#4cc0d4,#5bc1c5,#67c2b6,#62bfa2,#5abb88,#57b979,#54b76a,#53b766,#52b662,#52b660,#53b660,#54b660,#55b75f,#56b75f,#57b75f,#58b75f,#59b75f,#5ab85e,#5cb85e,#62ba5e,#6abb5d,#71bd5d,#78bf5c,#7fc15c,#84c25b,#89c45b,#8ec55b,#92c65a,#95c75a,#97c85a,#9ac95a,#9cc959,#9fca58,#a1cb57,#a0cb58,#9fcb58,#9eca58,#9dca59,#9bc959,#9ac95a,#92c65a,#8ac45b,#83c25b,#79bf5c,#70bd5d,#67bb5d,#5cb85e,#58b75f,#52b662,#5abb86,#57c1c9,#25bde6,#309fd6,#3980c2,#2956a9,#2a4c9e,#2a4c9e,#2b4c9e,#3d3c97,#533290,#6f2986,#711973,#6d146d,#6c136c,#6c126b,#6b126a,#6b1169,#6a1069,#6a1068,#691067,#680f66);--g40:linear-gradient(90deg,#2a4c9e,#2a4c9e,#2a4c9e,#2a4c9e,#2a4c9e,#2a56a9,#3274bb,#357abf,#3980c3,#3c86c6,#3b8ccb,#3793cf,#329bd4,#2aabdd,#21bae7,#2bbde3,#37bedf,#42bfda,#4ec0d2,#5dc1c3,#67c1b4,#61bfa0,#5abb87,#57b978,#54b769,#53b766,#52b662,#52b660,#53b660,#54b660,#55b75f,#56b75f,#57b75f,#58b75f,#59b75f,#5ab85e,#5cb85e,#62b95e,#69bb5d,#70bd5d,#78bf5c,#7fc15c,#84c25b,#89c45b,#8ec55b,#93c65a,#95c75a,#98c85a,#9ac959,#9dca59,#a0cb58,#a2cc57,#a2cb57,#a1cb58,#9fcb58,#9eca58,#9dca59,#9cc959,#94c75a,#8cc55b,#85c35b,#7bc05c,#72bd5c,#69bb5d,#5eb85e,#59b75f,#52b661,#59bb85,#59c1c7,#26bde5,#30a0d7,#3980c3,#2a57a9,#2a4c9e,#2a4c9e,#2b4c9e,#3d3c97,#513390,#6f2987,#711a74,#6d146d,#6c136c,#6c126b,#6b126a,#6b1169,#6a1069,#6a1068,#691067,#680f66);--g41:linear-gradient(90deg,#2a4c9e,#2a4c9e,#2a4c9e,#2a4c9e,#294ea1,#2b5ead,#3478bd,#377dc1,#3a82c4,#3d88c8,#398fcc,#3695d0,#329dd5,#29abde,#21bae7,#2bbde3,#37bedf,#42bfda,#4fc0d1,#5dc1c3,#67c1b3,#61bfa0,#5abb88,#57b97a,#54b76b,#53b765,#52b661,#53b660,#53b660,#54b660,#55b75f,#56b75f,#57b75f,#58b75f,#59b75f,#5ab85e,#5bb85e,#61b95e,#69bb5d,#71bd5d,#78bf5c,#80c15b,#86c35b,#8cc55b,#92c65a,#98c85a,#9cca59,#9fcb58,#a3cc57,#a6cd56,#a9ce55,#accf54,#accf55,#abcf55,#aacf55,#aace55,#a9ce55,#a8ce56,#a0cb58,#97c85a,#90c65b,#87c35b,#7ec15c,#73be5c,#66bb5d,#5bb85e,#54b660,#58ba7d,#68c2b8,#34bee0,#2ba9dc,#3d87c7,#2d63b0,#2a4c9e,#2a4c9e,#2a4c9e,#3b3e98,#4b3592,#6b2b89,#731e78,#6e156e,#6c136c,#6c136b,#6b126a,#6b1169,#6a1169,#6a1068,#691067,#680f66);--g42:linear-gradient(90deg,#2a4c9e,#2a4c9e,#2a4c9e,#2a4d9f,#284fa4,#2d65b1,#367bbf,#3980c3,#3b85c6,#3c8bca,#3891cd,#3497d1,#319ed6,#29acde,#21bbe7,#2cbde3,#37bedf,#43c0da,#50c0d0,#5ec1c2,#67c1b3,#61bfa0,#5abb89,#57b97b,#54b76c,#53b764,#52b660,#53b660,#54b660,#54b660,#55b75f,#56b75f,#57b75f,#58b75f,#59b75f,#5ab85e,#5bb85e,#61b95e,#69bb5d,#71bd5d,#79bf5c,#81c25b,#88c45b,#8fc65b,#97c85a,#9eca58,#a3cc57,#a7cd56,#abcf55,#afd054,#b2d253,#b6d352,#b6d352,#b5d352,#b5d252,#b5d252,#b4d252,#b4d252,#accf55,#a3cc57,#9bc959,#92c65a,#8ac45b,#7ec15c,#6fbd5d,#60b95e,#56b75f,#56b975,#62bfa5,#41bfdb,#25b2e2,#3990cd,#306eb7,#2a4c9e,#2a4c9e,#2a4c9e,#374099,#473693,#662d8b,#76217d,#6f1770,#6c136c,#6c136b,#6b126a,#6b116a,#6a1169,#6a1068,#691067,#680f66);--g43:linear-gradient(90deg,#2a4c9e,#2a4c9e,#294da0,#294fa2,#2955a8,#2f6db6,#387ec1,#3a83c5,#3d88c8,#3a8dcb,#3793cf,#3399d3,#30a0d7,#28addf,#21bbe7,#2cbde3,#38bede,#44c0da,#51c1cf,#5fc1c1,#66c1b2,#61bfa1,#5bbb8b,#58ba7d,#55b86d,#53b664,#52b660,#53b660,#54b660,#55b75f,#55b75f,#56b75f,#57b75f,#58b75f,#59b75f,#5ab85e,#5bb85e,#60b95e,#69bb5d,#71bd5c,#7abf5c,#82c25b,#8bc45b,#93c75a,#9bc959,#a4cc57,#abcf55,#afd054,#b3d252,#b8d351,#bcd550,#c1d64e,#c1d64e,#c1d64e,#c1d64e,#c1d64e,#c1d64e,#c0d64e,#b8d351,#b0d153,#a8ce56,#9eca58,#96c75a,#89c45b,#77bf5c,#66bb5d,#58b75f,#55b86d,#5dbc91,#4ec0d2,#20bbe8,#3499d2,#3478bd,#294ea1,#2a4c9e,#2a4c9e,#34449a,#453894,#602f8d,#772581,#701872,#6c136c,#6c136b,#6b126a,#6b116a,#6a1169,#6a1068,#691067,#680f66);--g44:linear-gradient(90deg,#2a4c9e,#2a4c9e,#294fa3,#2852a6,#2c60af,#3273ba,#3981c3,#3c86c6,#3c8bca,#3890cd,#3596d0,#329bd4,#2fa1d8,#28aee0,#20bbe7,#2cbde3,#38bede,#44c0d9,#52c1ce,#5fc1c1,#66c1b2,#61bfa1,#5bbc8c,#58ba7e,#55b86e,#53b663,#52b660,#53b660,#54b660,#55b75f,#55b75f,#56b75f,#57b75f,#58b75f,#59b75f,#5ab85e,#5ab85e,#60b95e,#69bb5d,#71bd5c,#7ac05c,#83c25b,#8dc55b,#96c75a,#a0cb58,#abcf55,#b2d153,#b7d351,#bcd550,#c2d74e,#c8d84b,#ceda49,#ceda48,#cfda48,#cfda48,#cfdb48,#d0db48,#d0db48,#c6d84c,#bcd550,#b4d252,#abcf55,#a3cc57,#94c75a,#80c15b,#6dbc5d,#59b75f,#53b765,#59ba84,#5dc1c3,#29bde4,#2fa2d8,#3980c3,#284fa4,#2a4c9e,#2a4c9e,#30479c,#423a95,#5a318e,#742683,#711a74,#6c146c,#6c136b,#6b126b,#6b116a,#6a1169,#6a1068,#691067,#680f66);--g45:linear-gradient(90deg,#2a4c9e,#294da0,#2851a6,#2b5ead,#2f6bb5,#3579be,#3b84c6,#3d89c8,#3a8ecc,#3793cf,#3498d2,#319dd5,#2ea3d9,#27afe0,#20bbe8,#2cbde3,#39bede,#45c0d9,#53c1cd,#60c1c0,#66c1b2,#61bfa1,#5cbc8e,#58ba80,#55b870,#52b662,#53b660,#53b660,#54b660,#55b75f,#55b75f,#56b75f,#57b75f,#58b75f,#59b75f,#59b75f,#5ab85e,#5fb95e,#68bb5d,#72bd5c,#7bc05c,#85c35b,#8fc55b,#99c95a,#a5cd56,#b1d153,#b9d451,#bfd64f,#c6d84c,#cdda49,#d4dc46,#dade43,#dbde43,#dcde42,#dddf42,#dedf42,#dedf42,#dfdf41,#d5dc45,#ccd949,#c2d74e,#b8d451,#b0d153,#9fcb58,#89c45b,#74be5c,#5bb85e,#53b660,#57b97b,#66c1b2,#33bee0,#2aabdd,#3c8ac9,#2955a8,#2a4c9e,#2a4c9e,#2c4a9d,#3f3b96,#543290,#702885,#721b76,#6d146c,#6c136c,#6c126b,#6b116a,#6b1169,#6a1068,#691067,#680f66);--g46:linear-gradient(90deg,#2a4c9e,#294ea2,#2b5bac,#2e6ab4,#3274bb,#387ec1,#3d88c8,#3b8ccb,#3891ce,#3596d0,#339bd3,#309fd6,#2da4d9,#27b0e1,#20bce8,#2cbde3,#39bede,#46c0d9,#54c1cc,#60c2c0,#66c1b1,#61bfa1,#5cbc90,#59ba81,#55b871,#52b662,#53b660,#53b660,#54b660,#55b75f,#56b75f,#56b75f,#57b75f,#58b75f,#58b75f,#59b75f,#5ab85e,#5fb95e,#68bb5d,#72bd5c,#7bc05c,#86c35b,#91c65a,#9dca59,#aace55,#b7d351,#c2d74d,#cad94a,#d1db47,#d8dd44,#e0df41,#e4e03c,#e5e03c,#e5e03b,#e6e13a,#e6e139,#e7e138,#e7e138,#e3e03e,#dbde43,#d2db47,#c8d84b,#bed64f,#accf55,#92c65a,#7ac05c,#60b95e,#55b75f,#56b873,#61be9f,#3dbfdc,#25b4e3,#3695d0,#2c5fae,#2a4c9e,#2a4c9e,#2a4c9e,#3c3d97,#4e3491,#6d2a88,#731d77,#6d146d,#6c136c,#6c126b,#6b126a,#6b1169,#6a1068,#691067,#680f66);--g47:linear-gradient(90deg,#2a4c9f,#2850a5,#2e67b2,#3274ba,#367bc0,#3b83c5,#3b8cca,#3890cd,#3695d0,#3499d2,#319dd5,#2ea2d8,#2ba8db,#25b3e2,#22bce7,#2fbde2,#3bbfdd,#48c0d8,#57c1c9,#63c2bd,#65c0ad,#60be9d,#5bbc8c,#58ba80,#55b871,#52b661,#53b660,#54b660,#54b660,#55b75f,#56b75f,#56b75f,#57b75f,#58b75f,#58b75f,#59b75f,#5ab85e,#5fb95e,#68bb5d,#72bd5c,#7cc05c,#86c35b,#93c75a,#a0cb58,#aed054,#bcd550,#cad94a,#d3dc46,#dcde43,#e3e03f,#e6e13a,#e9e135,#eae133,#ebe132,#ece131,#ece130,#ece130,#ede22f,#e9e135,#e5e03b,#dfdf41,#d5dc46,#cad94a,#b4d252,#99c85a,#7fc15c,#64ba5d,#56b75f,#54b86c,#5cbc8f,#46c0d9,#20bce8,#319ed5,#2e68b3,#2a4c9e,#2a4c9e,#2a4c9e,#384099,#493693,#6a2c8a,#751f7a,#6d146d,#6c136c,#6c126b,#6b126a,#6b1169,#6a1068,#691067,#680f66);--g48:linear-gradient(90deg,#294fa2,#2b5dad,#3172b9,#367bbf,#3981c4,#3d88c8,#3990cd,#3694cf,#3498d2,#329cd5,#2fa1d7,#2ca7db,#28addf,#22b8e5,#28bde5,#34bee0,#41bfdb,#4ec0d2,#5dc1c3,#67c2b6,#62bfa4,#5dbd93,#59bb85,#58b97c,#55b86e,#52b660,#53b660,#54b660,#55b75f,#55b75f,#56b75f,#56b75f,#57b75f,#58b75f,#58b75f,#59b75f,#5ab85e,#5fb95e,#68bb5d,#72bd5c,#7cc05c,#87c35b,#94c75a,#a3cc57,#b2d153,#c1d74e,#d1db47,#dcde43,#e4e03d,#e7e138,#eae133,#ede22f,#eee22d,#efe22b,#f1e229,#f0e229,#f0e22a,#f0e22a,#ede22f,#eae134,#e5e03c,#dbde43,#ceda48,#b8d451,#9bc959,#80c15c,#66ba5d,#57b75f,#53b767,#5abb87,#4ec0d2,#27bde5,#2da4da,#306fb8,#2a4c9e,#2a4c9e,#2a4c9e,#31469b,#443894,#642e8b,#77227e,#6d146d,#6c136c,#6c126b,#6b126a,#6b1169,#6a1068,#691067,#680f66);--g49:linear-gradient(90deg,#2954a7,#2f6bb5,#367cc0,#3a82c4,#3d87c7,#3a8dcb,#3694cf,#3498d2,#329cd4,#30a0d7,#2da4d9,#2aabdd,#25b2e2,#21bce8,#2dbde3,#3abfde,#46c0d9,#54c1cc,#63c2bd,#65c0ad,#60be9b,#5abb8a,#58ba80,#57b977,#54b76b,#52b660,#53b660,#54b660,#55b75f,#55b75f,#56b75f,#57b75f,#57b75f,#58b75f,#58b75f,#59b75f,#5ab85e,#5fb95e,#68bb5d,#72bd5c,#7cc05c,#87c35b,#95c75a,#a5cd56,#b6d352,#c7d84b,#d7dd45,#e3e03e,#e9e135,#ece131,#eee22c,#f1e229,#f2e126,#f4e124,#f5e122,#f4e123,#f4e124,#f3e125,#f1e229,#eee22d,#e9e135,#e2e040,#d2db47,#bcd550,#9dca58,#81c15b,#68bb5d,#59b75f,#52b662,#59ba83,#56c1ca,#2ebde2,#29abde,#3375bb,#294da0,#2a4c9e,#2a4c9e,#2b4b9e,#403a96,#5f2f8d,#772581,#6d156e,#6c136c,#6c136b,#6b126a,#6b1169,#6a1068,#691067,#680f66);--g50:linear-gradient(90deg,#2d63b0,#3477bd,#3b85c6,#3c89c9,#3a8ecc,#3793cf,#3498d2,#329cd4,#30a0d7,#2ea4d9,#2ba8db,#27afe0,#22b8e5,#26bde5,#33bee1,#3fbfdc,#4cc0d4,#5ac1c6,#68c2b7,#62bfa5,#5dbd93,#59bb85,#58b97c,#56b872,#54b768,#53b660,#54b660,#54b660,#55b75f,#55b75f,#56b75f,#57b75f,#57b75f,#58b75f,#58b75f,#59b75f,#5ab85e,#5fb95e,#68bb5d,#72bd5c,#7cc05c,#87c35b,#97c85a,#a8ce56,#b9d451,#ccda49,#dddf42,#e7e138,#eee22d,#f0e22a,#f2e126,#f4e123,#f6e120,#f8e01e,#f9df1c,#f8e01d,#f7e01f,#f6e121,#f4e124,#f2e126,#ede22f,#e5e03b,#d6dd45,#c1d74e,#a0cb58,#82c25b,#69bb5d,#5ab85e,#53b660,#58ba7f,#5ec1c2,#35bedf,#26b2e2,#367abf,#294ea2,#2a4c9e,#2a4c9e,#2a4c9e,#3c3d97,#59318e,#742683,#6e156e,#6c136c,#6c136b,#6b126a,#6b1169,#6a1068,#691067,#680f66);--g51:linear-gradient(90deg,#3274bb,#3a83c4,#398fcd,#3793cf,#3596d1,#339ad3,#319dd5,#2fa1d7,#2da4d9,#2ba8dc,#29acde,#25b4e3,#20bce8,#2bbde3,#38bedf,#44c0da,#51c1cf,#5fc1c1,#66c1b1,#61be9f,#5bbc8c,#59ba82,#57b978,#55b86e,#53b764,#53b660,#54b660,#54b660,#55b75f,#56b75f,#56b75f,#57b75f,#57b75f,#58b75f,#58b75f,#59b75f,#5ab85e,#5fb95e,#69bb5d,#73be5c,#7ec15c,#89c45b,#99c95a,#abcf55,#bdd54f,#d1db47,#e2e03f,#eae133,#f1e228,#f3e125,#f6e121,#f8e01e,#f9dd1c,#f8d71d,#f8d11d,#f8d41d,#f8d81d,#f9dc1c,#f9e01c,#f7e01f,#f2e227,#eae134,#e1e041,#cbd94a,#a7ce56,#88c45b,#70bd5d,#5cb85e,#55b75f,#56b976,#64c0aa,#48c0d8,#24bce7,#3c86c7,#2954a7,#2a4c9e,#2a4c9e,#2a4c9e,#35429a,#4e3491,#6f2987,#711973,#6d146d,#6c136b,#6b126a,#6b1169,#6a1068,#691067,#680f66);--g52:linear-gradient(90deg,#3d87c8,#3792ce,#339ad3,#319dd5,#30a0d7,#2ea2d8,#2da5da,#2ba8dc,#2aabdd,#28addf,#26b1e1,#22b9e6,#25bce6,#30bee2,#3bbfdd,#47c0d8,#54c1cc,#62c2be,#65c1ae,#60be9b,#5abb89,#58ba80,#56b975,#54b76b,#52b660,#53b660,#54b660,#55b75f,#55b75f,#56b75f,#56b75f,#57b75f,#57b75f,#58b75f,#59b75f,#59b75f,#5ab85e,#60b95e,#6bbc5d,#76bf5c,#82c25b,#8fc55b,#9fca58,#b0d153,#c2d74d,#d6dd45,#e5e03c,#ede22f,#f3e126,#f5e121,#f8e01d,#f9da1c,#f8d21d,#f7cb1e,#f7c41e,#f6c21f,#f7c51e,#f7c91e,#f7cd1e,#f8d31d,#f8e01e,#f1e228,#e9e134,#dbde43,#b6d352,#97c85a,#7cc05c,#65ba5d,#57b75f,#53b766,#59ba81,#66c1af,#3cbfdd,#309fd6,#3273ba,#2850a4,#2a4c9e,#2a4c9e,#2a4c9e,#443894,#632e8c,#77237f,#6f1770,#6c136c,#6c126b,#6b116a,#6a1068,#691067,#680f66);--g53:linear-gradient(90deg,#309fd6,#2ea2d8,#2da5da,#2ca7db,#2ba9dc,#29abde,#28addf,#27afe0,#26b1e1,#25b3e2,#23b7e5,#22bce7,#29bde4,#34bee0,#3fbfdc,#4ac0d6,#57c1c9,#64c2bc,#64c0ab,#5fbd98,#5abb87,#58ba7f,#56b873,#53b767,#53b660,#54b660,#54b660,#55b75f,#55b75f,#56b75f,#56b75f,#57b75f,#57b75f,#58b75f,#59b75f,#59b75f,#5ab85e,#61b95e,#6dbc5d,#7abf5c,#87c35b,#94c75a,#a4cc57,#b4d252,#c8d84b,#dbde43,#e7e138,#efe22c,#f4e124,#f7e01e,#f9da1c,#f8d01d,#f7c71e,#f6bf1f,#f6b71f,#f5b020,#f5b220,#f5b620,#f6ba1f,#f6c01f,#f8d21d,#f7e01e,#f1e228,#e6e139,#c8d84b,#a8ce55,#8ac45b,#6ebd5d,#5ab85e,#54b660,#54b86c,#59ba83,#56c1ca,#22b9e6,#3b8bca,#2e6ab4,#294ea2,#2a4c9e,#2a4c9e,#3c3d97,#55328f,#702986,#701973,#6c136c,#6c126b,#6b116a,#6a1169,#691067,#680f66);--g54:linear-gradient(90deg,#2aaadd,#29abde,#29addf,#28aee0,#27b0e0,#26b1e1,#25b3e2,#24b4e3,#23b6e4,#23b7e5,#21bbe7,#29bde5,#33bee0,#40bfdb,#4cc0d4,#59c1c7,#67c2b9,#63bfa6,#5dbc91,#59ba83,#58ba7c,#56b975,#54b76b,#52b661,#54b660,#55b75f,#56b75f,#56b75f,#57b75f,#58b75f,#59b75f,#5ab85e,#5ab85e,#5bb85e,#5cb85e,#5fb95e,#62b95e,#6cbc5d,#78bf5c,#83c25b,#90c65b,#9dca59,#accf54,#bcd550,#d1db47,#e3e03e,#ebe131,#f3e125,#f8e01d,#f8d71d,#f7cc1e,#f6c11f,#f6b81f,#f5b120,#f4a922,#f4a224,#f4a423,#f4a822,#f5ab21,#f5b120,#f6c01f,#f8d21d,#f7e01e,#ede22f,#d7dd45,#b3d252,#90c65a,#71bd5d,#5bb85e,#56b75f,#53b663,#57b979,#66c1b0,#33bee1,#309ed6,#3477bd,#2850a5,#2a4c9e,#2a4c9e,#34439a,#4c3491,#6d2a88,#711a74,#6c146c,#6c136b,#6b126a,#6a1169,#691067,#680f66);--g55:linear-gradient(90deg,#27b0e1,#26b1e1,#25b3e2,#24b4e3,#24b5e4,#23b7e5,#22b8e6,#21bae6,#21bbe7,#20bce8,#23bce7,#30bee1,#3fbfdb,#4fc0d1,#5ec1c2,#66c1b3,#61be9f,#5abb89,#58ba7e,#56b974,#55b86e,#54b769,#52b662,#53b660,#55b75f,#56b75f,#57b75f,#58b75f,#59b75f,#5ab85e,#5cb85e,#5fb95e,#63ba5d,#67bb5d,#6abc5d,#6ebc5d,#72bd5c,#7bc05c,#85c35b,#8fc65b,#9bc959,#a8ce56,#b6d352,#c6d84c,#dbde43,#e8e137,#f0e22a,#f8e01e,#f8d21d,#f7c71e,#f6bc1f,#f5b120,#f4a922,#f4a323,#f39c25,#f39627,#f39726,#f39b25,#f49f24,#f4a423,#f5ae21,#f6c11f,#f8d41d,#f3e125,#e3e03e,#bcd550,#94c75a,#71bd5d,#5cb85e,#57b75f,#52b660,#56b872,#5dbc91,#46c0d9,#28aedf,#3981c3,#2a59aa,#2a4c9e,#2a4c9e,#2d499d,#483693,#6c2b89,#711a74,#6c146c,#6c136b,#6b126a,#6a1169,#691067,#680f66);--g56:linear-gradient(90deg,#23b6e5,#22b8e5,#22b9e6,#21bae7,#20bbe7,#20bce8,#22bce7,#23bce7,#24bce6,#25bde6,#27bde5,#38bede,#4cc0d4,#5fc1c1,#65c1af,#5fbe9a,#5abb87,#58ba7c,#55b871,#53b765,#52b660,#53b660,#54b660,#55b75f,#56b75f,#57b75f,#59b75f,#5ab85e,#5bb85e,#5fb95e,#64ba5d,#69bb5d,#6fbd5d,#74be5c,#78bf5c,#7dc15c,#83c25b,#8bc45b,#93c75a,#9cc959,#a6cd56,#b3d253,#c0d64e,#d1db47,#e3e03e,#ece130,#f5e123,#f8d71d,#f7c21e,#f6b61f,#f5ab21,#f4a124,#f39b26,#f39527,#f28f29,#f2892a,#f28b2a,#f28f29,#f39328,#f39727,#f49d25,#f5af20,#f7c31e,#f9df1c,#e9e135,#c8d84b,#98c85a,#71bd5d,#5db85e,#58b75f,#54b660,#54b76b,#58ba7f,#5dc1c3,#22bce7,#3c8bca,#2c62b0,#294da0,#2a4c9e,#2a4c9e,#453894,#6a2c8a,#711b75,#6c146c,#6c136b,#6b126a,#6a1169,#691067,#680f66);--g57:linear-gradient(90deg,#22bce7,#23bce7,#24bce6,#25bde6,#26bde5,#28bde5,#29bde5,#2abde4,#2bbde4,#2cbde3,#2fbee2,#42bfdb,#58c1c8,#66c1b2,#60be9c,#5abb87,#58ba7e,#56b873,#53b767,#53b660,#54b660,#55b75f,#56b75f,#56b75f,#57b75f,#59b75f,#5ab85e,#5bb85e,#5fb95e,#65ba5d,#6cbc5d,#72be5c,#79bf5c,#7ec15c,#84c25b,#8ac45b,#90c65b,#97c85a,#9fcb58,#a8ce56,#b1d153,#bdd54f,#cdda49,#dcde43,#e8e137,#f0e22a,#f8e01e,#f7cd1e,#f6b71f,#f5ac21,#f4a124,#f39627,#f28f29,#f28a2a,#f2862b,#f1832b,#f1842b,#f2862b,#f2892a,#f28b2a,#f28f29,#f4a224,#f6b71f,#f8d41d,#ede22e,#d1db47,#9eca58,#75be5c,#61b95e,#59b75f,#55b75f,#53b765,#56b976,#68c2b7,#29bde4,#398fcd,#2d66b2,#294ea1,#2a4c9e,#2a4c9e,#423a95,#682c8a,#721b75,#6c146c,#6c136b,#6b126a,#6a1169,#691067,#680f66);--g58:linear-gradient(90deg,#2abde4,#2cbde3,#2dbde3,#2ebde2,#2fbee2,#31bee1,#32bee1,#33bee0,#34bee0,#36bedf,#3ebfdc,#4fc0d1,#63c2bd,#63c0a7,#5cbc90,#59ba82,#57b979,#55b86e,#53b663,#53b660,#54b660,#55b75f,#56b75f,#57b75f,#58b75f,#5ab85e,#5bb85e,#5eb85e,#64ba5d,#6bbc5d,#72bd5c,#79bf5c,#80c15b,#86c35b,#8cc55b,#92c65a,#97c85a,#a0cb58,#a9ce55,#b1d153,#bbd550,#cad94a,#d9de44,#e5e03b,#ece130,#f3e125,#f9df1c,#f7c91e,#f5b420,#f4a822,#f39d25,#f39228,#f2892a,#f1842b,#f1822b,#f1802c,#f1802c,#f1822b,#f1832b,#f1842b,#f2862b,#f39b26,#f5b220,#f8d21d,#efe22c,#d6dd45,#a4cc57,#7ec15c,#69bb5d,#5ab85e,#56b75f,#52b662,#56b873,#66c2ba,#23bce7,#3c8bca,#2d64b1,#294ea2,#2a4c9e,#2a4c9e,#3e3c97,#662d8b,#721b75,#6c146c,#6c136b,#6b126a,#6a1169,#691067,#680f66);--g59:linear-gradient(90deg,#33bee0,#34bee0,#36bedf,#37bedf,#38bede,#3abfde,#3bbfdd,#3cbfdd,#3dbfdc,#3fbfdb,#4dc0d3,#5dc1c3,#66c1b1,#60be9b,#5abb86,#58ba7d,#56b873,#54b769,#52b660,#53b660,#54b660,#55b75f,#56b75f,#57b75f,#59b75f,#5bb85e,#5db85e,#62b95e,#69bb5d,#71bd5d,#78bf5c,#80c15b,#88c35b,#8ec55b,#93c75a,#99c85a,#a0cb58,#a9ce55,#b2d153,#bbd550,#c8d84b,#d7dd45,#e4e03d,#eae133,#f0e229,#f6e121,#f9da1c,#f7c51e,#f5b020,#f4a423,#f39826,#f28d29,#f1842b,#f17e2c,#f17d2c,#f17d2c,#f17d2c,#f17d2c,#f17d2c,#f17e2c,#f17e2c,#f39328,#f5ad21,#f8d11d,#f0e22a,#dcde43,#aacf55,#87c35b,#70bd5d,#5bb85e,#57b75f,#52b660,#55b871,#63c2bd,#21bae6,#3c86c7,#2c61af,#294fa3,#2a4c9e,#2a4c9e,#3a3e98,#642e8c,#721c76,#6c146c,#6c136b,#6b126a,#6a1169,#691067,#680f66);--g60:linear-gradient(90deg,#42bfda,#45c0d9,#47c0d8,#49c0d7,#4cc0d4,#4fc0d1,#51c1cf,#57c1c9,#5dc1c3,#64c2bc,#64c0aa,#5ebd97,#5abb86,#58ba7f,#57b977,#55b86f,#53b767,#52b660,#54b660,#55b75f,#56b75f,#56b75f,#57b75f,#58b75f,#59b75f,#5ab85e,#5bb85e,#5eb85e,#63ba5e,#68bb5d,#6dbc5d,#72bd5c,#77bf5c,#7bc05c,#84c25b,#8dc55b,#96c75a,#a2cb57,#add054,#b9d451,#c7d84b,#d8dd44,#e5e03c,#ebe132,#f1e228,#f6e121,#f8d91d,#f7c41e,#f5af20,#f4a024,#f39228,#f2862b,#f17c2c,#f0742e,#ef712e,#ef6e2f,#ef6a2f,#ee6830,#ee692f,#ef6a2f,#ef6c2f,#f17e2c,#f39427,#f6b71f,#f8e01d,#e9e135,#c2d74d,#a0cb58,#82c25b,#65ba5d,#5ab85e,#56b75f,#52b662,#5ebd96,#3abfde,#2fa1d8,#3375bb,#2850a5,#2a4c9e,#2a4c9e,#2a4c9e,#423995,#652e8b,#741e78,#6d146c,#6b126a,#6b1169,#6a1068,#680f66);--g61:linear-gradient(90deg,#56c1ca,#5ac1c6,#5ec1c2,#62c2be,#66c2ba,#67c2b5,#65c1af,#61bea0,#5cbc90,#59bb85,#58ba7e,#56b976,#55b86f,#54b76a,#53b764,#52b660,#54b660,#55b75f,#56b75f,#57b75f,#57b75f,#58b75f,#58b75f,#58b75f,#59b75f,#59b75f,#5ab85e,#5ab85e,#5bb85e,#5bb85e,#5cb85e,#5eb85e,#5fb95e,#61b95e,#6ebc5d,#7ac05c,#88c35b,#95c75a,#a4cc57,#b4d252,#c3d74d,#d5dc45,#e4e03d,#eae133,#f0e229,#f6e121,#f8d81d,#f7c31e,#f5ae20,#f39c25,#f28b2a,#f17f2c,#f0732e,#ee682f,#ee6230,#ed5c30,#ec5730,#eb5230,#eb5430,#ec5630,#ec5930,#ee6730,#f07a2d,#f39627,#f6c21f,#f4e124,#e4e03d,#c2d74d,#99c85a,#73be5c,#65ba5d,#5ab85e,#56b75f,#57b977,#66c2ba,#2cbde3,#3b8ccb,#2a5aab,#2a4c9e,#2a4c9e,#2a4c9e,#2a4c9e,#3d3c97,#722885,#6e156e,#6c136b,#6b116a,#6a1068,#680f66);--g62:linear-gradient(90deg,#64c0ab,#60be9d,#5cbc8e,#59bb85,#59ba83,#59ba81,#58ba7e,#57b979,#56b874,#55b86f,#54b76a,#53b764,#52b660,#53b660,#54b660,#55b75f,#56b75f,#57b75f,#58b75f,#58b75f,#58b75f,#59b75f,#59b75f,#59b75f,#5ab85e,#5bb85e,#5db85e,#61b95e,#64ba5d,#68bb5d,#6dbc5d,#72bd5c,#77bf5c,#7cc05c,#8ac45b,#97c85a,#a6cd56,#b6d352,#c6d84c,#d8dd44,#e5e03b,#ece130,#f3e126,#f8e01d,#f8d21d,#f7c21e,#f5b120,#f49f24,#f28d29,#f1802c,#f0742e,#ee6830,#ed5f30,#ec5830,#eb4f30,#ea4330,#e9372f,#e92c2e,#e92d2e,#e92f2e,#ea412f,#ec5830,#ef6c2f,#f28a2a,#f6b81f,#f7e01f,#e7e138,#c8d84b,#a0cb58,#7dc05c,#6ebc5d,#5fb95e,#59b75f,#52b660,#58b97c,#62c2be,#26b1e1,#3477bd,#294da1,#2a4c9e,#2a4c9e,#2a4c9e,#2a4c9e,#473793,#6f2986,#721c76,#6c126b,#6a1069,#680f66);--g63:linear-gradient(90deg,#5abb86,#57b97b,#55b870,#53b766,#53b764,#52b662,#52b661,#52b660,#53b660,#54b660,#54b660,#55b75f,#55b75f,#56b75f,#57b75f,#57b75f,#58b75f,#58b75f,#59b75f,#59b75f,#59b75f,#5ab85e,#5ab85e,#5bb85e,#5bb85e,#61b95e,#69bb5d,#70bd5d,#78bf5c,#80c15b,#8bc45b,#96c75a,#a1cb57,#add054,#bbd550,#cdda49,#dfdf41,#e9e135,#efe22b,#f5e123,#f9dd1c,#f7cc1e,#f6bc1f,#f5ad21,#f49e25,#f28f29,#f1832b,#f0782d,#ef6d2f,#ee6230,#ec5930,#eb5130,#ea4b30,#ea4230,#e9292e,#e9282e,#e9282e,#e9282e,#e9282e,#e9282d,#e9292e,#ea4b30,#ee6230,#f2862b,#f5b520,#f7e01f,#e5e03b,#c1d74e,#9fcb58,#86c35b,#74be5c,#65ba5d,#5cb85e,#58b75f,#54b660,#58ba7e,#40bfdb,#3498d2,#2c5fae,#2a4c9e,#2a4c9e,#2a4c9e,#2a4c9e,#2a4c9e,#473793,#752582,#6d146c,#6b1169,#680f66);--g64:linear-gradient(90deg,#55b870,#54b769,#52b661,#54b660,#54b660,#54b660,#55b75f,#55b75f,#55b75f,#56b75f,#56b75f,#56b75f,#57b75f,#57b75f,#57b75f,#58b75f,#58b75f,#58b75f,#59b75f,#59b75f,#59b75f,#5ab85e,#5bb85e,#5fb95e,#65ba5d,#6ebc5d,#77bf5c,#81c15b,#8ac45b,#94c75a,#a2cc57,#b2d153,#c2d74d,#d6dd45,#e5e03b,#ece131,#f2e227,#f7e01f,#f8d71d,#f7c81e,#f6b81f,#f4a922,#f39b26,#f28d29,#f1812b,#f0762d,#ef6a2f,#ed6030,#eb5230,#e9372f,#e9292e,#e9282e,#e9282e,#e9282d,#e9272d,#e9272d,#e9272d,#e9272d,#e9272d,#e9272d,#e9272d,#e9282d,#e9292e,#ec5630,#f17e2c,#f5ab21,#f7e01f,#e6e13a,#c1d64e,#a4cc57,#8bc45b,#75be5c,#65ba5d,#5bb85e,#58b75f,#53b764,#5bbc8d,#37bedf,#3a8ecb,#2a59ab,#2a4c9e,#2a4c9e,#2a4c9e,#2a4c9e,#32459b,#493692,#752682,#721c76,#6d156d);--g65:linear-gradient(90deg,#54b660,#54b660,#55b75f,#55b75f,#55b75f,#56b75f,#56b75f,#56b75f,#56b75f,#56b75f,#57b75f,#57b75f,#57b75f,#57b75f,#57b75f,#58b75f,#58b75f,#58b75f,#58b75f,#58b75f,#59b75f,#59b75f,#5eb85e,#68bb5d,#72be5c,#7dc05c,#87c35b,#92c65a,#9dca59,#a9ce55,#b8d451,#ceda48,#e3e03e,#ede22f,#f6e121,#f9de1c,#f8d21d,#f7c61e,#f6ba1f,#f5ac21,#f49e25,#f28f29,#f1832b,#f0792d,#ef6d2f,#ee6230,#ec5830,#eb4f30,#e9292e,#e9282d,#e9272d,#e9262d,#e9262d,#e8262c,#e8262c,#e8262c,#e8252c,#e8252c,#e8252c,#e8252c,#e8252c,#e8262c,#e9262d,#e9282d,#ea4c30,#ef6c2f,#f4a124,#f8d41d,#ece130,#cfdb48,#a8ce55,#89c45b,#70bd5d,#5eb95e,#5ab85e,#57b75f,#53b660,#5dbc92,#2dbde3,#3d87c8,#2850a5,#2a4c9e,#2a4c9e,#2a4c9e,#2a4c9e,#2a4c9e,#58318f,#732784,#731c77);--g66:linear-gradient(90deg,#56b75f,#56b75f,#56b75f,#57b75f,#57b75f,#57b75f,#57b75f,#58b75f,#58b75f,#58b75f,#58b75f,#59b75f,#59b75f,#5ab85e,#5cb85e,#60b95e,#64ba5d,#68bb5d,#6cbc5d,#70bd5d,#74be5c,#78bf5c,#84c25b,#90c65b,#9eca58,#abcf55,#b8d451,#c5d84c,#d3dc46,#e2e040,#e9e135,#f0e22a,#f7e01f,#f8d21d,#f6bf1f,#f5b620,#f5ac21,#f4a323,#f39a26,#f28f29,#f1842b,#f07a2d,#ef712e,#ee6730,#ed5e30,#ec5530,#ea3c2f,#e9292e,#e9282d,#e9272d,#e8262c,#e8252c,#e8252c,#e8252c,#e8252c,#e8252c,#e8242c,#e8242c,#e8242c,#e8242c,#e8242b,#e8242c,#e8252c,#e9262d,#e9282d,#e9292e,#ed5b30,#f2862b,#f6bd1f,#f2e227,#d5dc45,#adcf54,#8dc55b,#75be5c,#66bb5d,#5bb85e,#58b75f,#54b76a,#5ebd96,#3dbfdc,#3a8ecc,#2b5aab,#2a4d9f,#2a4c9e,#2a4c9e,#2a4c9e,#3b3e98,#473793,#533390);--g67:linear-gradient(90deg,#57b75f,#57b75f,#57b75f,#58b75f,#58b75f,#58b75f,#59b75f,#59b75f,#5ab85e,#5ab85e,#5ab85e,#5bb85e,#5bb85e,#63ba5d,#6dbc5d,#77bf5c,#81c15b,#8ac45b,#93c65a,#9cc959,#a6cd56,#b0d153,#bcd550,#ccda49,#e1e040,#eae133,#f2e227,#f7e01f,#f8d81d,#f7ca1e,#f6be1f,#f5b420,#f5aa22,#f4a024,#f39727,#f29029,#f2892a,#f1832b,#f17e2c,#f0782d,#ef6f2e,#ee6630,#ed5f30,#ec5830,#eb5130,#ea4730,#e9282e,#e9272d,#e9262d,#e8252c,#e8252c,#e8252c,#e8252c,#e8242c,#e8242b,#e8242b,#e8242b,#e8232b,#e8232b,#e8232b,#e8232b,#e8242b,#e8242c,#e8252c,#e8262c,#e9262d,#e9282d,#eb5130,#f07b2c,#f5b420,#f3e125,#dfdf41,#b5d252,#93c65a,#79bf5c,#61b95e,#5bb85e,#57b75f,#53b660,#57b978,#44c0da,#319dd5,#2e66b2,#2a4c9e,#2a4c9e,#2a4c9e,#2a4c9e,#2a4c9e,#2a4c9e);--g68:linear-gradient(90deg,#59b75f,#5ab85e,#5bb85e,#5cb85e,#5db85e,#60b95e,#64ba5d,#67bb5d,#6bbc5d,#6fbd5d,#74be5c,#78bf5c,#7ec15c,#89c45b,#95c75a,#a2cb57,#add054,#b9d451,#c6d84c,#d3dc46,#e1e041,#e7e138,#ede22f,#f2e227,#f8e01e,#f8d11d,#f6c11f,#f5b520,#f5aa21,#f4a024,#f39826,#f39128,#f28a2a,#f1842b,#f17c2c,#f0752d,#ef6e2f,#ee6730,#ec5a30,#ea4d30,#e9352f,#e9292e,#e9292e,#e9282e,#e9282e,#e9282d,#e9272d,#e9262d,#e8252c,#e8252c,#e8242c,#e8242c,#e8242b,#e8232b,#e8232b,#e6232b,#e2222a,#df2129,#dd2129,#dc2129,#dd2129,#e7232b,#e8242b,#e8242c,#e8252c,#e8252c,#e9272d,#e9292e,#ed5f30,#f28e29,#f7cb1e,#efe22b,#d6dd45,#afd054,#8ec55b,#72be5c,#65ba5d,#5bb85e,#59b75f,#54b660,#58ba7f,#65c2bb,#30bee2,#3a82c4,#2c5fae,#294da1,#2a4c9e,#2a4c9e,#2a4c9e);--g69:linear-gradient(90deg,#5bb85e,#5eb95e,#63ba5d,#68bb5d,#6dbc5d,#73be5c,#7abf5c,#81c15b,#88c45b,#91c65a,#9bc959,#a6cd56,#b1d153,#bed64f,#ceda48,#dedf41,#e7e139,#ede22f,#f3e126,#f7e01f,#f8d91d,#f7cb1e,#f6bf1f,#f6b61f,#f5ad21,#f4a523,#f39c25,#f39527,#f28e29,#f2872a,#f1822b,#f17d2c,#f0792d,#ef712e,#ee6730,#ed5f30,#ec5730,#eb4f30,#e9292e,#e9282d,#e9272d,#e9262d,#e9262d,#e8262c,#e8262c,#e8262c,#e8252c,#e8252c,#e8242c,#e8242c,#e8242b,#e8232b,#e8232b,#e2222a,#dc2129,#d72028,#d21f27,#ce1e26,#cd1e26,#cd1e26,#ce1e26,#da2028,#e6232b,#e8242b,#e8242c,#e8252c,#e8262c,#e9272d,#ea4d30,#f0772d,#f5ac21,#f9df1c,#eae134,#ceda48,#a6cd56,#87c35b,#72bd5c,#60b95e,#5cb85e,#59b75f,#56b75f,#53b660,#53b767,#5cc1c4,#28aee0,#3477bc,#294da0,#2a4c9e,#2a4c9e);--g70:linear-gradient(90deg,#74be5c,#7cc05c,#85c35b,#8dc55b,#96c75a,#a0cb58,#accf54,#b6d352,#bdd54f,#c9d94b,#d5dc46,#e1e040,#e7e138,#ece130,#f1e228,#f6e120,#f9dc1c,#f8cf1d,#f6c21f,#f6b71f,#f5ac21,#f4a324,#f39926,#f39328,#f28c2a,#f1852b,#f17e2c,#f0782d,#ef712e,#ef6b2f,#ed5f30,#eb5230,#ea4430,#e9292e,#e9292e,#e9282e,#e9282e,#e9282d,#e9272d,#e9262d,#e8262c,#e8252c,#e8252c,#e8252c,#e8252c,#e8252c,#e8252c,#e8242c,#e8242c,#e8242b,#e8232b,#e6232b,#de2129,#d61f27,#ce1e26,#c71d24,#c11c23,#be1c23,#bd1c22,#be1c23,#c11c23,#cf1e26,#dd2129,#e8232b,#e8242b,#e8252c,#e8252c,#e9262d,#e92b2e,#ee6630,#f39826,#f7c91e,#f2e227,#e3e03e,#bad450,#99c85a,#7fc15c,#6bbc5d,#5fb95e,#5bb85e,#5ab85e,#58b75f,#57b75f,#56b975,#63c0a9,#3ebfdc,#339bd4,#2d65b1,#2a4c9f);--g71:linear-gradient(90deg,#99c85a,#a5cd56,#b2d153,#c0d64e,#d2db47,#e4e03e,#ece130,#f2e227,#f4e123,#f7e01f,#f9dd1c,#f8d51d,#f7cc1e,#f7c41e,#f6bc1f,#f5b320,#f5ab21,#f4a323,#f39b25,#f39427,#f28c29,#f2862b,#f1812b,#f17c2c,#f0772d,#ef6e2e,#ee6630,#ed5f30,#ec5830,#eb5130,#e92f2e,#e9282d,#e9272d,#e9262d,#e9262d,#e9262d,#e8262c,#e8262c,#e8262c,#e8252c,#e8252c,#e8252c,#e8252c,#e8252c,#e8252c,#e8242c,#e8242c,#e8242b,#e8242b,#e8232b,#e6232b,#dd2129,#d41f27,#c91e25,#bf1c23,#b71b21,#b11a20,#ad191f,#ad191f,#af1a20,#b41b21,#c41d24,#d41f27,#e3222a,#e8242b,#e8242c,#e8252c,#e8262c,#e9282e,#ec5a30,#f2882a,#f6b71f,#f8e01d,#ebe132,#d2db47,#accf54,#8ec55b,#76bf5c,#63ba5e,#5eb95e,#5bb85e,#5ab85e,#59b75f,#56b75f,#53b660,#53b765,#5cbc90,#24bce6,#357abe);--g72:linear-gradient(90deg,#c3d74d,#d3dc46,#e2e040,#e8e136,#eee22d,#f4e123,#f9dc1c,#f8d01d,#f7c91e,#f7c21e,#f6bc1f,#f5b520,#f5ae20,#f4a822,#f4a224,#f39b25,#f39527,#f28e29,#f2872b,#f1812c,#f07b2c,#f0752d,#ef6f2e,#ee692f,#ed5d30,#eb4f30,#e9322f,#e9292e,#e9282e,#e9282e,#e9272d,#e9272d,#e9262d,#e8252c,#e8252c,#e8252c,#e8252c,#e8252c,#e8252c,#e8252c,#e8252c,#e8252c,#e8252c,#e8252c,#e8242c,#e8242c,#e8242c,#e8242b,#e8232b,#e8232b,#df2129,#d51f27,#c91d25,#bc1c22,#b11a20,#a6171c,#9f161a,#9b1518,#9b1518,#9f151a,#a6171c,#b71b21,#ca1e25,#db2028,#e8232b,#e8242b,#e8252c,#e8252c,#e9272d,#ea4730,#f0742e,#f4a323,#f8cf1d,#f1e228,#e3e03e,#bfd64f,#9eca58,#84c25b,#6dbc5d,#62ba5e,#5eb85e,#5cb85e,#5bb85e,#5ab85e,#59b75f,#57b75f,#53b664,#5cbc90,#45c0d9);--g73:linear-gradient(90deg,#ece131,#f1e228,#f6e121,#f9df1c,#f8d61d,#f7ce1e,#f7c51e,#f6be1f,#f6b71f,#f5b120,#f5ab21,#f4a523,#f49f25,#f39926,#f39328,#f28d29,#f2882a,#f1822b,#f07a2d,#f0732e,#ef6c2f,#ee6530,#ed5f30,#ec5930,#ea3c2f,#e9282e,#e9272d,#e9262d,#e9262d,#e8262c,#e8262c,#e8262c,#e8252c,#e8252c,#e8252c,#e8252c,#e8252c,#e8252c,#e8252c,#e8252c,#e8252c,#e8252c,#e8252c,#e8242c,#e8242c,#e8242c,#e8242b,#e8242b,#e8232b,#e3222a,#d92028,#cc1e25,#be1c23,#b01a20,#a2161b,#971317,#8e1114,#8a1012,#8b1012,#8f1114,#981417,#ab191e,#bf1c23,#d31f27,#e3222a,#e8242b,#e8242c,#e8252c,#e8262c,#e9292e,#ed6030,#f28f29,#f6bc1f,#f7e01f,#ebe133,#d5dc45,#b1d153,#93c75a,#7bc05c,#67bb5d,#60b95e,#5fb95e,#5db85e,#5cb85e,#5bb85e,#5ab85e,#58b75f,#55b75f,#52b660);--g74:linear-gradient(90deg,#f3e125,#f7e01f,#f8d91d,#f8d01d,#f7c91e,#f7c41e,#f6be1f,#f6b81f,#f5b220,#f5ac21,#f4a623,#f4a024,#f39a26,#f39427,#f28e29,#f2882a,#f1842b,#f17e2c,#f0772d,#ef6f2e,#ee6730,#ed6130,#ed5b30,#eb5330,#e9292e,#e9282d,#e9272d,#e8262c,#e8262c,#e8252c,#e8252c,#e8252c,#e8252c,#e8252c,#e8252c,#e8252c,#e8252c,#e8252c,#e8252c,#e8252c,#e8252c,#e8252c,#e8242c,#e8242c,#e8242c,#e8242c,#e8242b,#e8232b,#e8232b,#df2129,#d41f27,#c51d24,#b61b21,#a5171c,#961316,#891012,#7e0c0f,#790a0e,#7a0a0e,#800d10,#8c1013,#a0161a,#b61b21,#cb1e25,#de2129,#e8232b,#e8242c,#e8252c,#e8252c,#e9282d,#eb4e30,#f07a2d,#f4a922,#f8d31d,#f1e229,#e3e03e,#bed64f,#a0cb58,#86c35b,#71bd5c,#67bb5d,#62ba5e,#60b95e,#5eb95e,#5cb85e,#5bb85e,#5ab85e,#59b75f,#58b75f);--g75:linear-gradient(90deg,#f5e122,#f9e01d,#f8d71d,#f7cd1e,#f7c61e,#f6c11f,#f6bb1f,#f5b620,#f5b120,#f5ab21,#f4a423,#f49e25,#f39826,#f39228,#f28b2a,#f2862b,#f1822b,#f17d2c,#f0762d,#ef6e2f,#ee6630,#ed6030,#ec5a30,#eb4f30,#e9292e,#e9272d,#e9262d,#e8262c,#e8252c,#e8252c,#e8252c,#e8252c,#e8252c,#e8252c,#e8252c,#e8252c,#e8252c,#e8252c,#e8252c,#e8252c,#e8252c,#e8252c,#e8242c,#e8242c,#e8242c,#e8242b,#e8242b,#e8232b,#e6232b,#dd2129,#d01e26,#c01c23,#b01a20,#9e1519,#8d1113,#7d0c0f,#71070d,#6c060b,#6d060c,#74080d,#810d10,#981417,#af1a20,#c51d24,#d92028,#e8232b,#e8242b,#e8252c,#e8252c,#e9262d,#e92b2e,#ee6430,#f39727,#f6c01f,#f6e121,#e8e136,#cdda49,#accf54,#91c65a,#7ec15c,#6ebc5d,#66ba5d,#63ba5d,#61b95e,#5eb95e,#5cb85e,#5bb85e,#5ab85e,#59b75f);--g76:linear-gradient(90deg,#f7e01f,#f9dd1c,#f8d41d,#f7ca1e,#f7c31e,#f6bd1f,#f6b71f,#f5b120,#f5ac21,#f4a623,#f49f24,#f39926,#f39228,#f28c29,#f2872b,#f1822b,#f17d2c,#f0782d,#ef712e,#ef6a2f,#ee6330,#ed5d30,#ec5730,#ea4730,#e9282e,#e9272d,#e9262d,#e8262c,#e8252c,#e8252c,#e8252c,#e8252c,#e8252c,#e8252c,#e8252c,#e8252c,#e8252c,#e8252c,#e8252c,#e8252c,#e8252c,#e8252c,#e8242c,#e8242c,#e8242c,#e8242b,#e8242b,#e8232b,#e5222a,#db2028,#ce1e26,#be1c23,#ac191f,#991418,#880f12,#76090e,#6a050b,#65030a,#66030a,#6e060c,#7b0b0f,#931215,#ab191e,#c11c23,#d61f27,#e7232b,#e8242b,#e8242c,#e8252c,#e8262c,#e9282d,#eb4d30,#f07b2c,#f4a523,#f8d31d,#efe22b,#dcde42,#b8d451,#9cc959,#87c35b,#74be5c,#67bb5d,#65ba5d,#62ba5e,#60b95e,#5eb85e,#5cb85e,#5bb85e,#5ab85e);--g77:linear-gradient(90deg,#f9e01c,#f8d81d,#f8d01d,#f7c81e,#f6c01f,#f6b91f,#f5b220,#f5ac21,#f4a523,#f49f24,#f39826,#f39228,#f28c2a,#f2862b,#f1822b,#f17d2c,#f0782d,#ef712e,#ef6b2f,#ee6530,#ed5f30,#ec5a30,#eb5330,#e9362f,#e9282e,#e9272d,#e9262d,#e8262c,#e8252c,#e8252c,#e8252c,#e8252c,#e8252c,#e8252c,#e8252c,#e8252c,#e8252c,#e8252c,#e8252c,#e8252c,#e8252c,#e8252c,#e8242c,#e8242c,#e8242c,#e8242b,#e8242b,#e8232b,#e5222a,#db2028,#ce1e26,#be1c23,#ac191e,#991418,#870f11,#76090e,#6a050b,#64030a,#65030a,#6d060c,#7b0b0f,#931215,#aa181e,#c01c23,#d51f27,#e5222a,#e8242b,#e8242c,#e8252c,#e8252c,#e9262d,#e9292e,#ed6030,#f2892a,#f6ba1f,#f6e120,#e6e13a,#c6d84c,#a8ce55,#8fc65b,#7bc05c,#69bb5d,#66ba5d,#64ba5d,#62b95e,#60b95e,#5eb85e,#5cb85e,#5bb85e);--g78:linear-gradient(90deg,#f9e01c,#f8d71d,#f8cf1d,#f7c71e,#f6bf1f,#f6b81f,#f5b120,#f5aa22,#f4a423,#f49d25,#f39727,#f39128,#f28a2a,#f2852b,#f1812b,#f07c2c,#f0772d,#ef712e,#ef6a2f,#ee6430,#ed5f30,#ec5a30,#eb5430,#e9392f,#e9282e,#e9272d,#e9262d,#e8262c,#e8252c,#e8252c,#e8252c,#e8252c,#e8252c,#e8252c,#e8252c,#e8252c,#e8252c,#e8252c,#e8252c,#e8252c,#e8252c,#e8252c,#e8242c,#e8242c,#e8242c,#e8242b,#e8242b,#e8232b,#e6232b,#dc2129,#d01e26,#c01c23,#af1a20,#9d1519,#8c1113,#7c0b0f,#70070c,#6a050b,#6b050b,#73080d,#800c10,#961316,#ac191f,#c21c23,#d61f27,#e5222a,#e8242b,#e8242c,#e8252c,#e8252c,#e8262c,#e9282d,#eb5030,#f0782d,#f4a623,#f8d71d,#ebe131,#ceda48,#aed054,#93c75a,#7dc15c,#69bb5d,#66bb5d,#64ba5d,#62ba5e,#60b95e,#5eb95e,#5cb85e,#5bb85e);--g79:linear-gradient(90deg,#f9e01c,#f8d71d,#f8cf1d,#f7c71e,#f6bf1f,#f6b81f,#f5b120,#f5aa22,#f4a423,#f49d25,#f39727,#f39128,#f28b2a,#f2862b,#f1812b,#f17d2c,#f0782d,#ef712e,#ef6b2f,#ee6530,#ed6030,#ed5b30,#ec5630,#ea4330,#e9292e,#e9282d,#e9272d,#e8262c,#e8262c,#e8252c,#e8252c,#e8252c,#e8252c,#e8252c,#e8252c,#e8252c,#e8252c,#e8252c,#e8252c,#e8252c,#e8252c,#e8252c,#e8242c,#e8242c,#e8242c,#e8242c,#e8242b,#e8232b,#e8232b,#df2129,#d31f27,#c41d24,#b51b21,#a4171c,#941316,#870f11,#7c0b0f,#76090e,#770a0e,#7e0c0f,#8a1012,#9d1519,#b21a20,#c61d24,#d82028,#e7232b,#e8242b,#e8242c,#e8252c,#e8252c,#e8262c,#e9272d,#ea3a2f,#ef6a2f,#f39527,#f7c71e,#f0e229,#d5dc45,#b2d253,#96c75a,#7fc15c,#69bb5d,#66bb5d,#64ba5d,#62ba5e,#60b95e,#5eb95e,#5cb85e,#5bb85e);--g80:linear-gradient(90deg,#f9e01c,#f8d71d,#f8cf1d,#f7c71e,#f6bf1f,#f6b81f,#f5b120,#f5aa22,#f4a423,#f49e25,#f39726,#f39128,#f28b2a,#f2862b,#f1822b,#f17d2c,#f0782d,#ef722e,#ef6c2f,#ee6630,#ed6130,#ed5c30,#ec5730,#ea4a30,#e9292e,#e9282d,#e9272d,#e8262c,#e8262c,#e8252c,#e8252c,#e8252c,#e8252c,#e8252c,#e8252c,#e8252c,#e8252c,#e8252c,#e8252c,#e8252c,#e8252c,#e8252c,#e8252c,#e8242c,#e8242c,#e8242c,#e8242b,#e8242b,#e8232b,#e1222a,#d72028,#ca1e25,#bb1c22,#ac191f,#9e1519,#921215,#891012,#840e11,#850e11,#8b1012,#931215,#a5171c,#b81b22,#cb1e25,#db2028,#e8232b,#e8242b,#e8242c,#e8252c,#e8252c,#e8262c,#e9262d,#e9292e,#ed5f30,#f2872a,#f6ba1f,#f4e124,#dade43,#b6d352,#99c85a,#80c15c,#69bb5d,#66bb5d,#64ba5d,#62ba5e,#60b95e,#5eb95e,#5cb85e,#5bb85e)">
<div style="top:0px;height:6px;background:var(--g0)"><i style="background:var(--g1)"></i></div>
<div style="top:6px;height:6px;background:var(--g1)"><i style="background:var(--g2)"></i></div>
<div style="top:12px;height:6px;background:var(--g2)"><i style="background:var(--g3)"></i></div>
<div style="top:18px;height:6px;background:var(--g3)"><i style="background:var(--g4)"></i></div>
<div style="top:24px;height:6px;background:var(--g4)"><i style="background:var(--g5)"></i></div>
<div style="top:30px;height:6px;background:var(--g5)"><i style="background:var(--g6)"></i></div>
<div style="top:36px;height:6px;background:var(--g6)"><i style="background:var(--g7)"></i></div>
<div style="top:42px;height:6px;background:var(--g7)"><i style="background:var(--g8)"></i></div>
<div style="top:48px;height:6px;background:var(--g8)"><i style="background:var(--g9)"></i></div>
<div style="top:54px;height:6px;background:var(--g9)"><i style="background:var(--g10)"></i></div>
<div style="top:60px;height:6px;background:var(--g10)"><i style="background:var(--g11)"></i></div>
<div style="top:66px;height:6px;background:var(--g11)"><i style="background:var(--g12)"></i></div>
<div style="top:72px;height:6px;background:var(--g12)"><i style="background:var(--g13)"></i></div>
<div style="top:78px;height:6px;background:var(--g13)"><i style="background:var(--g14)"></i></div>
<div style="top:84px;height:6px;background:var(--g14)"><i style="background:var(--g15)"></i></div>
<div style="top:90px;height:6px;background:var(--g15)"><i style="background:var(--g16)"></i></div>
<div style="top:96px;height:6px;background:var(--g16)"><i style="background:var(--g17)"></i></div>
<div style="top:102px;height:6px;background:var(--g17)"><i style="background:var(--g18)"></i></div>
<div style="top:108px;height:6px;background:var(--g18)"><i style="background:var(--g19)"></i></div>
<div style="top:114px;height:6px;background:var(--g19)"><i style="background:var(--g20)"></i></div>
<div style="top:120px;height:6px;background:var(--g20)"><i style="background:var(--g21)"></i></div>
<div style="top:126px;height:6px;background:var(--g21)"><i style="background:var(--g22)"></i></div>
<div style="top:132px;height:6px;background:var(--g22)"><i style="background:var(--g23)"></i></div>
<div style="top:138px;height:6px;background:var(--g23)"><i style="background:var(--g24)"></i></div>
<div style="top:144px;height:6px;background:var(--g24)"><i style="background:var(--g25)"></i></div>
<div style="top:150px;height:6px;background:var(--g25)"><i style="background:var(--g26)"></i></div>
<div style="top:156px;height:6px;background:var(--g26)"><i style="background:var(--g27)"></i></div>
<div style="top:162px;height:6px;background:var(--g27)"><i style="background:var(--g28)"></i></div>
<div style="top:168px;height:6px;background:var(--g28)"><i style="background:var(--g29)"></i></div>
<div style="top:174px;height:6px;background:var(--g29)"><i style="background:var(--g30)"></i></div>
<div style="top:180px;height:6px;background:var(--g30)"><i style="background:var(--g31)"></i></div>
<div style="top:186px;height:6px;background:var(--g31)"><i style="background:var(--g32)"></i></div>
<div style="top:192px;height:6px;background:var(--g32)"><i style="background:var(--g33)"></i></div>
<div style="top:198px;height:6px;background:var(--g33)"><i style="background:var(--g34)"></i></div>
<div style="top:204px;height:6px;background:var(--g34)"><i style="background:var(--g35)"></i></div>
<div style="top:210px;height:6px;background:var(--g35)"><i style="background:var(--g36)"></i></div>
<div style="top:216px;height:6px;background:var(--g36)"><i style="background:var(--g37)"></i></div>
<div style="top:222px;height:6px;background:var(--g37)"><i style="background:var(--g38)"></i></div>
<div style="top:228px;height:6px;background:var(--g38)"><i style="background:var(--g39)"></i></div>
<div style="top:234px;height:6px;background:var(--g39)"><i style="background:var(--g40)"></i></div>
<div style="top:240px;height:6px;background:var(--g40)"><i style="background:var(--g41)"></i></div>
<div style="top:246px;height:6px;background:var(--g41)"><i style="background:var(--g42)"></i></div>
<div style="top:252px;height:6px;background:var(--g42)"><i style="background:var(--g43)"></i></div>
<div style="top:258px;height:6px;background:var(--g43)"><i style="background:var(--g44)"></i></div>
<div style="top:264px;height:6px;background:var(--g44)"><i style="background:var(--g45)"></i></div>
<div style="top:270px;height:6px;background:var(--g45)"><i style="background:var(--g46)"></i></div>
<div style="top:276px;height:6px;background:var(--g46)"><i style="background:var(--g47)"></i></div>
<div style="top:282px;height:6px;background:var(--g47)"><i style="background:var(--g48)"></i></div>
<div style="top:288px;height:6px;background:var(--g48)"><i style="background:var(--g49)"></i></div>
<div style="top:294px;height:6px;background:var(--g49)"><i style="background:var(--g50)"></i></div>
<div style="top:300px;height:6px;background:var(--g50)"><i style="background:var(--g51)"></i></div>
<div style="top:306px;height:6px;background:var(--g51)"><i style="background:var(--g52)"></i></div>
<div style="top:312px;height:6px;background:var(--g52)"><i style="background:var(--g53)"></i></div>
<div style="top:318px;height:6px;background:var(--g53)"><i style="background:var(--g54)"></i></div>
<div style="top:324px;height:6px;background:var(--g54)"><i style="background:var(--g55)"></i></div>
<div style="top:330px;height:6px;background:var(--g55)"><i style="background:var(--g56)"></i></div>
<div style="top:336px;height:6px;background:var(--g56)"><i style="background:var(--g57)"></i></div>
<div style="top:342px;height:6px;background:var(--g57)"><i style="background:var(--g58)"></i></div>
<div style="top:348px;height:6px;background:var(--g58)"><i style="background:var(--g59)"></i></div>
<div style="top:354px;height:6px;background:var(--g59)"><i style="background:var(--g60)"></i></div>
<div style="top:360px;height:6px;background:var(--g60)"><i style="background:var(--g61)"></i></div>
<div style="top:366px;height:6px;background:var(--g61)"><i style="background:var(--g62)"></i></div>
<div style="top:372px;height:6px;background:var(--g62)"><i style="background:var(--g63)"></i></div>
<div style="top:378px;height:6px;background:var(--g63)"><i style="background:var(--g64)"></i></div>
<div style="top:384px;height:6px;background:var(--g64)"><i style="background:var(--g65)"></i></div>
<div style="top:390px;height:6px;background:var(--g65)"><i style="background:var(--g66)"></i></div>
<div style="top:396px;height:6px;background:var(--g66)"><i style="background:var(--g67)"></i></div>
<div style="top:402px;height:6px;background:var(--g67)"><i style="background:var(--g68)"></i></div>
<div style="top:408px;height:6px;background:var(--g68)"><i style="background:var(--g69)"></i></div>
<div style="top:414px;height:6px;background:var(--g69)"><i style="background:var(--g70)"></i></div>
<div style="top:420px;height:6px;background:var(--g70)"><i style="background:var(--g71)"></i></div>
<div style="top:426px;height:6px;background:var(--g71)"><i style="background:var(--g72)"></i></div>
<div style="top:432px;height:6px;background:var(--g72)"><i style="background:var(--g73)"></i></div>
<div style="top:438px;height:6px;background:var(--g73)"><i style="background:var(--g74)"></i></div>
<div style="top:444px;height:6px;background:var(--g74)"><i style="background:var(--g75)"></i></div>
<div style="top:450px;height:6px;background:var(--g75)"><i style="background:var(--g76)"></i></div>
<div style="top:456px;height:6px;background:var(--g76)"><i style="background:var(--g77)"></i></div>
<div style="top:462px;height:6px;background:var(--g77)"><i style="background:var(--g78)"></i></div>
<div style="top:468px;height:6px;background:var(--g78)"><i style="background:var(--g79)"></i></div>
<div style="top:474px;height:6px;background:var(--g79)"><i style="background:var(--g80)"></i></div>
<div style="top:358.8px;height:2px;background:linear-gradient(90deg,#2ebde2,#2fbee2,#30bee1,#32bee1,#33bee0,#34bee0,#35bedf,#37bedf,#38bede,#3abfde,#43c0da,#54c1cc,#67c2b9,#62bfa2,#5bbc8c,#58ba80,#56b976,#54b76c,#52b662,#53b660,#54b660,#55b75f,#56b75f,#57b75f,#58b75f,#5ab85e,#5cb85e,#5fb95e,#66bb5d,#6dbc5d,#74be5c,#7cc05c,#83c25b,#89c45b,#8fc55b,#95c75a,#9bc959,#a4cc57,#accf54,#b5d252,#c0d64e,#cfdb48,#dfdf41,#e7e138,#eee22d,#f4e124,#f9dd1c,#f7c81e,#f5b220,#f4a623,#f39b26,#f29028,#f2872a,#f1812b,#f1802c,#f17f2c,#f17f2c,#f1802c,#f1812b,#f1822b,#f1832b,#f39826,#f5b020,#f8d21d,#efe22b,#d8dd44,#a6cd56,#81c25b,#6bbc5d,#5bb85e,#56b75f,#52b661,#56b872,#65c2bb,#21bce8,#3d89c9,#2d63b0,#294fa2,#2a4c9e,#2a4c9e,#3c3d97,#652d8b,#721b76,#6c146c,#6c136b,#6b126a,#6a1169,#691067,#680f66)"></div>
</div><div style="position:absolute;left:143px;top:51.5px;width:529.5px;height:480px;background:linear-gradient(90deg,rgba(0,0,30,0.002) 0.0px 3.0px,rgba(255,255,255,0.057) 3.0px 6.0px,rgba(255,255,255,0.056) 6.0px 7.0px,rgba(0,0,30,0.088) 7.0px 8.5px,rgba(255,255,255,0.024) 8.5px 9.5px,rgba(0,0,30,0.017) 9.5px 11.5px,rgba(0,0,30,0.020) 11.5px 13.0px,rgba(255,255,255,0.019) 13.0px 14.5px,rgba(0,0,30,0.007) 14.5px 15.5px,rgba(0,0,30,0.061) 15.5px 17.0px,rgba(255,255,255,0.058) 17.0px 19.0px,rgba(255,255,255,0.090) 19.0px 20.5px,rgba(0,0,30,0.023) 20.5px 23.5px,rgba(0,0,30,0.021) 23.5px 24.5px,rgba(255,255,255,0.011) 24.5px 25.5px,rgba(255,255,255,0.040) 25.5px 27.0px,rgba(0,0,30,0.037) 27.0px 28.5px,rgba(255,255,255,0.148) 28.5px 31.5px,rgba(255,255,255,0.066) 31.5px 33.0px,rgba(255,255,255,0.144) 33.0px 34.5px,rgba(0,0,30,0.017) 34.5px 36.5px,rgba(255,255,255,0.054) 36.5px 38.0px,rgba(0,0,30,0.005) 38.0px 39.5px,rgba(255,255,255,0.054) 39.5px 42.5px,rgba(255,255,255,0.090) 42.5px 45.5px,rgba(255,255,255,0.002) 45.5px 47.5px,rgba(0,0,30,0.041) 47.5px 48.5px,rgba(255,255,255,0.103) 48.5px 50.5px,rgba(255,255,255,0.027) 50.5px 52.5px,rgba(255,255,255,0.062) 52.5px 54.0px,rgba(0,0,30,0.006) 54.0px 55.0px,rgba(255,255,255,0.142) 55.0px 57.0px,rgba(255,255,255,0.105) 57.0px 59.0px,rgba(255,255,255,0.012) 59.0px 61.0px,rgba(0,0,30,0.007) 61.0px 63.0px,rgba(0,0,30,0.004) 63.0px 64.0px,rgba(0,0,30,0.106) 64.0px 65.5px,rgba(0,0,30,0.105) 65.5px 66.5px,rgba(255,255,255,0.129) 66.5px 68.0px,rgba(0,0,30,0.061) 68.0px 70.0px,rgba(0,0,30,0.045) 70.0px 73.0px,rgba(255,255,255,0.058) 73.0px 75.0px,rgba(0,0,30,0.088) 75.0px 76.0px,rgba(0,0,30,0.056) 76.0px 78.0px,rgba(255,255,255,0.141) 78.0px 80.0px,rgba(255,255,255,0.033) 80.0px 81.0px,rgba(0,0,30,0.044) 81.0px 82.5px,rgba(255,255,255,0.069) 82.5px 84.0px,rgba(0,0,30,0.015) 84.0px 86.0px,rgba(255,255,255,0.092) 86.0px 87.0px,rgba(0,0,30,0.020) 87.0px 89.0px,rgba(0,0,30,0.047) 89.0px 90.0px,rgba(0,0,30,0.009) 90.0px 91.5px,rgba(0,0,30,0.051) 91.5px 93.5px,rgba(0,0,30,0.005) 93.5px 95.0px,rgba(0,0,30,0.024) 95.0px 98.0px,rgba(255,255,255,0.014) 98.0px 101.0px,rgba(0,0,30,0.007) 101.0px 104.0px,rgba(255,255,255,0.031) 104.0px 106.0px,rgba(0,0,30,0.059) 106.0px 108.0px,rgba(255,255,255,0.125) 108.0px 109.5px,rgba(255,255,255,0.046) 109.5px 110.5px,rgba(0,0,30,0.021) 110.5px 112.5px,rgba(255,255,255,0.035) 112.5px 115.5px,rgba(0,0,30,0.072) 115.5px 117.0px,rgba(0,0,30,0.077) 117.0px 118.0px,rgba(0,0,30,0.031) 118.0px 119.5px,rgba(255,255,255,0.013) 119.5px 121.5px,rgba(255,255,255,0.080) 121.5px 123.5px,rgba(255,255,255,0.093) 123.5px 126.5px,rgba(255,255,255,0.055) 126.5px 128.0px,rgba(0,0,30,0.008) 128.0px 130.0px,rgba(0,0,30,0.038) 130.0px 132.0px,rgba(255,255,255,0.005) 132.0px 134.0px,rgba(255,255,255,0.058) 134.0px 135.5px,rgba(255,255,255,0.047) 135.5px 138.5px,rgba(0,0,30,0.029) 138.5px 140.0px,rgba(0,0,30,0.028) 140.0px 142.0px,rgba(255,255,255,0.021) 142.0px 143.5px,rgba(255,255,255,0.012) 143.5px 146.5px,rgba(0,0,30,0.029) 146.5px 149.5px,rgba(255,255,255,0.030) 149.5px 151.5px,rgba(0,0,30,0.018) 151.5px 154.5px,rgba(0,0,30,0.030) 154.5px 156.5px,rgba(0,0,30,0.005) 156.5px 159.5px,rgba(0,0,30,0.016) 159.5px 161.5px,rgba(255,255,255,0.004) 161.5px 163.5px,rgba(0,0,30,0.032) 163.5px 165.5px,rgba(0,0,30,0.016) 165.5px 167.5px,rgba(0,0,30,0.022) 167.5px 168.5px,rgba(0,0,30,0.015) 168.5px 170.5px,rgba(0,0,30,0.005) 170.5px 172.5px,rgba(0,0,30,0.006) 172.5px 174.5px,rgba(255,255,255,0.024) 174.5px 176.5px,rgba(0,0,30,0.003) 176.5px 178.5px,rgba(255,255,255,0.019) 178.5px 180.5px,rgba(255,255,255,0.011) 180.5px 182.5px,rgba(0,0,30,0.006) 182.5px 184.5px,rgba(255,255,255,0.024) 184.5px 186.5px,rgba(0,0,30,0.007) 186.5px 189.5px,rgba(255,255,255,0.006) 189.5px 191.0px,rgba(255,255,255,0.019) 191.0px 193.0px,rgba(0,0,30,0.012) 193.0px 195.0px,rgba(0,0,30,0.031) 195.0px 197.0px,rgba(0,0,30,0.037) 197.0px 198.5px,rgba(0,0,30,0.033) 198.5px 201.5px,rgba(0,0,30,0.009) 201.5px 203.5px,rgba(255,255,255,0.025) 203.5px 205.5px,rgba(255,255,255,0.009) 205.5px 206.5px,rgba(255,255,255,0.026) 206.5px 209.5px,rgba(255,255,255,0.006) 209.5px 211.0px,rgba(255,255,255,0.031) 211.0px 212.0px,rgba(255,255,255,0.013) 212.0px 214.0px,rgba(0,0,30,0.002) 214.0px 215.5px,rgba(0,0,30,0.005) 215.5px 216.5px,rgba(255,255,255,0.012) 216.5px 218.0px,rgba(255,255,255,0.023) 218.0px 221.0px,rgba(255,255,255,0.005) 221.0px 223.0px,rgba(255,255,255,0.013) 223.0px 226.0px,rgba(255,255,255,0.006) 226.0px 228.0px,rgba(0,0,30,0.031) 228.0px 229.0px,rgba(255,255,255,0.042) 229.0px 231.0px,rgba(0,0,30,0.010) 231.0px 232.0px,rgba(0,0,30,0.025) 232.0px 233.0px,rgba(0,0,30,0.007) 233.0px 236.0px,rgba(0,0,30,0.006) 236.0px 239.0px,rgba(0,0,30,0.015) 239.0px 242.0px,rgba(255,255,255,0.023) 242.0px 244.0px,rgba(0,0,30,0.034) 244.0px 245.5px,rgba(255,255,255,0.019) 245.5px 248.5px,rgba(0,0,30,0.012) 248.5px 250.5px,rgba(255,255,255,0.002) 250.5px 252.5px,rgba(0,0,30,0.014) 252.5px 255.5px,rgba(255,255,255,0.002) 255.5px 257.0px,rgba(255,255,255,0.033) 257.0px 260.0px,rgba(255,255,255,0.021) 260.0px 261.0px,rgba(255,255,255,0.021) 261.0px 263.0px,rgba(255,255,255,0.017) 263.0px 266.0px,rgba(255,255,255,0.019) 266.0px 269.0px,rgba(255,255,255,0.023) 269.0px 272.0px,rgba(0,0,30,0.052) 272.0px 274.0px,rgba(255,255,255,0.025) 274.0px 276.0px,rgba(0,0,30,0.033) 276.0px 278.0px,rgba(255,255,255,0.004) 278.0px 280.0px,rgba(0,0,30,0.013) 280.0px 281.5px,rgba(0,0,30,0.009) 281.5px 283.5px,rgba(0,0,30,0.000) 283.5px 285.5px,rgba(255,255,255,0.004) 285.5px 287.5px,rgba(255,255,255,0.011) 287.5px 289.5px,rgba(0,0,30,0.005) 289.5px 290.5px,rgba(0,0,30,0.029) 290.5px 291.5px,rgba(0,0,30,0.045) 291.5px 293.0px,rgba(255,255,255,0.011) 293.0px 295.0px,rgba(255,255,255,0.003) 295.0px 297.0px,rgba(0,0,30,0.027) 297.0px 298.0px,rgba(255,255,255,0.003) 298.0px 299.5px,rgba(255,255,255,0.003) 299.5px 301.5px,rgba(0,0,30,0.015) 301.5px 303.5px,rgba(0,0,30,0.003) 303.5px 305.0px,rgba(0,0,30,0.017) 305.0px 307.0px,rgba(255,255,255,0.025) 307.0px 310.0px,rgba(0,0,30,0.001) 310.0px 313.0px,rgba(255,255,255,0.011) 313.0px 314.0px,rgba(255,255,255,0.001) 314.0px 316.0px,rgba(0,0,30,0.008) 316.0px 319.0px,rgba(0,0,30,0.028) 319.0px 322.0px,rgba(0,0,30,0.019) 322.0px 323.0px,rgba(255,255,255,0.004) 323.0px 326.0px,rgba(255,255,255,0.016) 326.0px 327.5px,rgba(255,255,255,0.004) 327.5px 329.5px,rgba(255,255,255,0.020) 329.5px 330.5px,rgba(0,0,30,0.017) 330.5px 331.5px,rgba(255,255,255,0.004) 331.5px 333.5px,rgba(0,0,30,0.022) 333.5px 336.5px,rgba(255,255,255,0.025) 336.5px 338.5px,rgba(0,0,30,0.031) 338.5px 340.5px,rgba(0,0,30,0.014) 340.5px 342.5px,rgba(0,0,30,0.031) 342.5px 344.5px,rgba(255,255,255,0.004) 344.5px 346.5px,rgba(0,0,30,0.007) 346.5px 347.5px,rgba(0,0,30,0.026) 347.5px 349.5px,rgba(0,0,30,0.015) 349.5px 351.5px,rgba(255,255,255,0.015) 351.5px 353.5px,rgba(255,255,255,0.019) 353.5px 356.5px,rgba(255,255,255,0.026) 356.5px 358.5px,rgba(0,0,30,0.004) 358.5px 360.5px,rgba(0,0,30,0.006) 360.5px 363.5px,rgba(0,0,30,0.002) 363.5px 365.0px,rgba(255,255,255,0.016) 365.0px 367.0px,rgba(0,0,30,0.034) 367.0px 368.0px,rgba(0,0,30,0.010) 368.0px 370.0px,rgba(0,0,30,0.057) 370.0px 372.0px,rgba(255,255,255,0.038) 372.0px 374.0px,rgba(255,255,255,0.012) 374.0px 375.5px,rgba(0,0,30,0.036) 375.5px 378.5px,rgba(0,0,30,0.055) 378.5px 380.0px,rgba(0,0,30,0.009) 380.0px 382.0px,rgba(0,0,30,0.035) 382.0px 383.5px,rgba(255,255,255,0.027) 383.5px 386.5px,rgba(255,255,255,0.069) 386.5px 387.5px,rgba(255,255,255,0.013) 387.5px 390.5px,rgba(255,255,255,0.062) 390.5px 392.5px,rgba(0,0,30,0.013) 392.5px 393.5px,rgba(255,255,255,0.070) 393.5px 394.5px,rgba(255,255,255,0.022) 394.5px 396.5px,rgba(0,0,30,0.022) 396.5px 398.5px,rgba(0,0,30,0.032) 398.5px 399.5px,rgba(255,255,255,0.075) 399.5px 401.5px,rgba(255,255,255,0.054) 401.5px 403.5px,rgba(0,0,30,0.022) 403.5px 404.5px,rgba(0,0,30,0.011) 404.5px 406.0px,rgba(0,0,30,0.032) 406.0px 409.0px,rgba(255,255,255,0.065) 409.0px 411.0px,rgba(0,0,30,0.041) 411.0px 414.0px,rgba(0,0,30,0.006) 414.0px 415.5px,rgba(255,255,255,0.076) 415.5px 417.5px,rgba(0,0,30,0.032) 417.5px 419.5px,rgba(0,0,30,0.003) 419.5px 421.0px,rgba(0,0,30,0.057) 421.0px 423.0px,rgba(255,255,255,0.017) 423.0px 424.5px,rgba(0,0,30,0.014) 424.5px 425.5px,rgba(0,0,30,0.021) 425.5px 426.5px,rgba(255,255,255,0.047) 426.5px 427.5px,rgba(0,0,30,0.054) 427.5px 429.5px,rgba(0,0,30,0.051) 429.5px 431.0px,rgba(255,255,255,0.043) 431.0px 433.0px,rgba(255,255,255,0.004) 433.0px 434.0px,rgba(0,0,30,0.014) 434.0px 436.0px,rgba(255,255,255,0.084) 436.0px 437.0px,rgba(0,0,30,0.118) 437.0px 439.0px,rgba(0,0,30,0.000) 439.0px 440.5px,rgba(0,0,30,0.025) 440.5px 442.5px,rgba(255,255,255,0.054) 442.5px 444.0px,rgba(255,255,255,0.065) 444.0px 446.0px,rgba(0,0,30,0.034) 446.0px 447.5px,rgba(255,255,255,0.134) 447.5px 449.5px,rgba(0,0,30,0.069) 449.5px 451.5px,rgba(255,255,255,0.067) 451.5px 453.5px,rgba(255,255,255,0.021) 453.5px 455.5px,rgba(0,0,30,0.060) 455.5px 457.5px,rgba(255,255,255,0.160) 457.5px 460.5px,rgba(255,255,255,0.043) 460.5px 462.0px,rgba(0,0,30,0.021) 462.0px 463.5px,rgba(255,255,255,0.017) 463.5px 464.5px,rgba(255,255,255,0.005) 464.5px 466.0px,rgba(255,255,255,0.016) 466.0px 468.0px,rgba(255,255,255,0.068) 468.0px 470.0px,rgba(255,255,255,0.000) 470.0px 473.0px,rgba(0,0,30,0.025) 473.0px 475.0px,rgba(255,255,255,0.046) 475.0px 476.5px,rgba(0,0,30,0.009) 476.5px 478.0px,rgba(0,0,30,0.013) 478.0px 480.0px,rgba(255,255,255,0.016) 480.0px 482.0px,rgba(255,255,255,0.020) 482.0px 484.0px,rgba(255,255,255,0.000) 484.0px 485.5px,rgba(0,0,30,0.045) 485.5px 486.5px,rgba(255,255,255,0.022) 486.5px 488.5px,rgba(0,0,30,0.017) 488.5px 490.5px,rgba(255,255,255,0.042) 490.5px 492.5px,rgba(0,0,30,0.017) 492.5px 494.5px,rgba(255,255,255,0.010) 494.5px 496.5px,rgba(0,0,30,0.014) 496.5px 498.5px,rgba(0,0,30,0.021) 498.5px 500.5px,rgba(255,255,255,0.006) 500.5px 502.0px,rgba(255,255,255,0.002) 502.0px 503.0px,rgba(255,255,255,0.006) 503.0px 504.5px,rgba(0,0,30,0.049) 504.5px 505.5px,rgba(0,0,30,0.045) 505.5px 507.5px,rgba(255,255,255,0.011) 507.5px 509.5px,rgba(255,255,255,0.026) 509.5px 510.5px,rgba(255,255,255,0.012) 510.5px 512.5px,rgba(255,255,255,0.019) 512.5px 514.0px,rgba(0,0,30,0.019) 514.0px 515.0px,rgba(0,0,30,0.025) 515.0px 517.0px,rgba(0,0,30,0.032) 517.0px 518.0px,rgba(255,255,255,0.008) 518.0px 520.0px,rgba(255,255,255,0.036) 520.0px 521.5px,rgba(255,255,255,0.011) 521.5px 524.5px,rgba(0,0,30,0.008) 524.5px 527.5px,rgba(255,255,255,0.011) 527.5px 528.5px,rgba(255,255,255,0.028) 528.5px 529.5px);-webkit-mask-image:linear-gradient(180deg,#000 0,#000 55%,rgba(0,0,0,0) 78%);mask-image:linear-gradient(180deg,#000 0,#000 55%,rgba(0,0,0,0) 78%)"></div>
<div class="hm" style="left:796.4px;top:51.5px;width:529.6px;height:480px;--g0:linear-gradient(90deg,#54c1cc,#5dc1c3,#65c2bb,#63c0a8,#5cbc90,#59ba81,#57b977,#55b871,#54b76b,#53b765,#52b660,#54b660,#55b75f,#56b75f,#58b75f,#59b75f,#5ab85e,#5cb85e,#5fb95e,#63ba5d,#68bb5d,#6cbc5d,#70bd5d,#74be5c,#78bf5c,#7dc05c,#82c25b,#87c35b,#8cc55b,#90c65a,#97c85a,#a0cb58,#a9ce55,#b2d153,#bcd550,#cad94a,#d7dd45,#e3e03f,#e7e138,#ebe131,#efe22b,#f3e125,#f6e120,#f9df1c,#f8d51d,#f8ce1d,#f7c91e,#f7c31e,#f6be1f,#f6c01f,#f7c31e,#f7c61e,#f7cd1e,#f9db1c,#f6e120,#f2e227,#ebe132,#e3e03e,#d2db47,#bcd550,#accf54,#9cc959,#8dc55b,#7ec15c,#73be5c,#6bbc5d,#64ba5d,#5cb85e,#5bb85e,#5ab85e,#59b75f,#58b75f,#57b75f,#53b767,#59ba82,#61bfa2,#68c2b8,#58c1c8,#47c0d8,#39bede,#2cbde3,#20bce8,#26b0e1,#2da5da,#339ad3,#3a8dcb,#3981c3,#3376bc,#2f6ab5);--g1:linear-gradient(90deg,#53c1cd,#5cc1c4,#65c2bb,#63c0a8,#5cbc90,#59ba81,#57b977,#55b871,#54b76b,#53b765,#52b660,#54b660,#55b75f,#56b75f,#58b75f,#59b75f,#5ab85e,#5cb85e,#5fb95e,#63ba5d,#67bb5d,#6cbc5d,#70bd5d,#74be5c,#78bf5c,#7dc05c,#82c25b,#87c35b,#8bc45b,#90c65a,#97c85a,#a0cb58,#a9ce55,#b2d153,#bcd550,#cad94a,#d7dd45,#e3e03f,#e7e138,#ebe131,#efe22b,#f3e125,#f6e120,#f9df1c,#f8d51d,#f8cf1d,#f7c91e,#f7c41e,#f6bf1f,#f6c11f,#f7c41e,#f7c71e,#f7cd1e,#f9db1c,#f7e120,#f2e227,#ebe132,#e4e03e,#d2dc47,#bdd550,#accf54,#9cc959,#8dc55b,#7fc15c,#73be5c,#6bbc5d,#64ba5d,#5cb85e,#5bb85e,#5ab85e,#59b75f,#58b75f,#57b75f,#53b766,#59ba81,#61bfa0,#68c2b7,#58c1c8,#47c0d8,#38bede,#2bbde4,#22b8e6,#29abde,#30a0d7,#3695d0,#3d88c8,#387ec2,#3375bb,#2e6ab4);--g2:linear-gradient(90deg,#52c1ce,#5cc1c4,#65c2bb,#63c0a8,#5cbc90,#59ba81,#57b977,#55b871,#54b76b,#53b765,#52b660,#54b660,#55b75f,#56b75f,#58b75f,#59b75f,#5ab85e,#5cb85e,#5fb95e,#63ba5d,#67bb5d,#6bbc5d,#70bd5d,#74be5c,#78bf5c,#7dc05c,#82c25b,#87c35b,#8bc45b,#90c65a,#97c85a,#a0cb58,#a9ce55,#b2d153,#bcd550,#cad94a,#d7dd45,#e3e03f,#e7e138,#ebe131,#efe22b,#f3e125,#f6e120,#f9df1c,#f8d61d,#f8cf1d,#f7ca1e,#f7c51e,#f6c01f,#f7c31e,#f7c51e,#f7c81e,#f7ce1e,#f9da1c,#f7e01f,#f2e227,#ebe131,#e4e03d,#d3dc46,#bed64f,#add054,#9cca59,#8dc55b,#7fc15c,#73be5c,#6cbc5d,#64ba5d,#5cb85e,#5bb85e,#5ab85e,#59b75f,#58b75f,#57b75f,#53b766,#58ba80,#61be9f,#68c2b7,#58c1c8,#47c0d9,#38bede,#2abde4,#24b4e3,#2ca6da,#329bd4,#3890cd,#3b84c6,#367bc0,#3273ba,#2e69b4);--g3:linear-gradient(90deg,#51c1cf,#5bc1c5,#65c2bb,#63c0a8,#5cbc90,#59ba81,#57b977,#55b871,#54b76b,#53b765,#52b660,#54b660,#55b75f,#56b75f,#57b75f,#59b75f,#5ab85e,#5cb85e,#5fb95e,#63ba5e,#67bb5d,#6bbc5d,#70bd5d,#74be5c,#78bf5c,#7dc05c,#82c25b,#86c35b,#8bc45b,#90c65a,#97c85a,#a0cb58,#a9ce55,#b2d153,#bcd550,#cad94a,#d7dd45,#e3e03f,#e7e138,#ebe131,#efe22b,#f3e125,#f6e120,#f9df1c,#f8d61d,#f8cf1d,#f7cb1e,#f7c61e,#f6c21f,#f7c41e,#f7c61e,#f7c81e,#f8ce1d,#f9da1c,#f7e01f,#f2e126,#ece131,#e4e03c,#d4dc46,#bfd64f,#add054,#9dca59,#8ec55b,#7fc15c,#74be5c,#6cbc5d,#64ba5d,#5cb85e,#5bb85e,#5ab85e,#59b75f,#58b75f,#57b75f,#53b766,#58ba80,#60be9e,#68c2b7,#58c1c8,#46c0d9,#37bedf,#28bde5,#26b1e1,#2fa0d7,#3596d1,#3b8bca,#3981c3,#3579be,#3171b9,#2e68b3);--g4:linear-gradient(90deg,#50c1d0,#5ac1c6,#64c2bc,#63c0a8,#5cbc90,#59ba81,#57b977,#55b871,#54b76b,#53b765,#52b660,#54b660,#55b75f,#56b75f,#57b75f,#59b75f,#5ab85e,#5bb85e,#5fb95e,#63ba5e,#67bb5d,#6bbc5d,#6fbd5d,#74be5c,#78bf5c,#7dc05c,#81c25b,#86c35b,#8bc45b,#90c65b,#97c85a,#a0cb58,#a9ce55,#b2d153,#bcd550,#cad94a,#d7dd45,#e3e03f,#e7e138,#ebe131,#efe22b,#f3e125,#f6e121,#f9df1c,#f8d61d,#f8d01d,#f7cb1e,#f7c71e,#f7c31e,#f7c51e,#f7c71e,#f7c91e,#f8cf1d,#f8da1d,#f7e01f,#f3e126,#ece130,#e5e03c,#d5dc45,#bfd64f,#aed054,#9dca59,#8ec55b,#80c15c,#74be5c,#6cbc5d,#64ba5d,#5cb85e,#5bb85e,#5ab85e,#59b75f,#58b75f,#57b75f,#53b765,#58ba7f,#60be9d,#68c2b6,#58c1c8,#46c0d9,#37bedf,#27bde5,#28addf,#329bd4,#3891cd,#3c87c7,#377dc1,#3376bc,#3070b8,#2e67b3);--g5:linear-gradient(90deg,#50c0d0,#5ac1c6,#64c2bc,#63c0a8,#5cbc90,#59ba81,#57b977,#55b871,#54b76b,#53b765,#52b660,#54b660,#55b75f,#56b75f,#57b75f,#59b75f,#5ab85e,#5bb85e,#5eb95e,#63ba5e,#67bb5d,#6bbc5d,#6fbd5d,#73be5c,#78bf5c,#7cc05c,#81c25b,#86c35b,#8bc45b,#90c65b,#97c85a,#a0cb58,#a9ce55,#b2d153,#bcd550,#cad94a,#d7dd45,#e3e03f,#e7e138,#ebe131,#efe22b,#f3e125,#f6e121,#f9e01c,#f8d61d,#f8d01d,#f7cc1e,#f7c81e,#f7c41e,#f7c61e,#f7c81e,#f7ca1e,#f8cf1d,#f8da1d,#f8e01e,#f3e125,#ece130,#e5e03b,#d6dd45,#c0d64e,#aed054,#9dca59,#8fc55b,#80c15b,#74be5c,#6cbc5d,#64ba5d,#5cb85e,#5bb85e,#5ab85e,#59b75f,#58b75f,#57b75f,#53b765,#58ba7e,#60be9b,#67c2b6,#58c1c8,#46c0d9,#36bedf,#26bde6,#2aa9dc,#3596d1,#3b8cca,#3a83c4,#3579be,#3273ba,#2f6db6,#2e67b3);--g6:linear-gradient(90deg,#4fc0d1,#59c1c7,#64c2bc,#63c0a8,#5cbc90,#59ba81,#57b977,#55b871,#54b76b,#53b765,#52b660,#54b660,#55b75f,#56b75f,#57b75f,#59b75f,#5ab85e,#5bb85e,#5eb95e,#63ba5e,#67bb5d,#6bbc5d,#6fbd5d,#73be5c,#77bf5c,#7cc05c,#81c25b,#86c35b,#8bc45b,#90c65b,#97c85a,#a0cb58,#a9ce55,#b2d153,#bcd550,#cad94a,#d7dd45,#e3e03f,#e7e138,#ebe131,#efe22b,#f3e125,#f6e121,#f9e01c,#f8d71d,#f8d11d,#f7cd1e,#f7c91e,#f7c51e,#f7c71e,#f7c91e,#f7cb1e,#f8d01d,#f8d91d,#f8e01e,#f3e125,#ede22f,#e6e13a,#d7dd44,#c1d64e,#aed054,#9eca58,#8fc55b,#81c15b,#75be5c,#6dbc5d,#64ba5d,#5cb85e,#5bb85e,#5ab85e,#59b75f,#58b75f,#57b75f,#53b765,#58ba7e,#5fbe9a,#67c2b6,#58c1c8,#46c0d9,#36bedf,#25bce6,#2da6da,#3890cd,#3c87c7,#387fc2,#3375bc,#3070b8,#2f6bb5,#2e66b2);--g7:linear-gradient(90deg,#4ec0d2,#59c1c7,#64c2bc,#63c0a8,#5cbc90,#59ba81,#57b977,#55b871,#54b76b,#53b765,#52b660,#54b660,#55b75f,#56b75f,#57b75f,#59b75f,#5ab85e,#5bb85e,#5eb95e,#62ba5e,#67bb5d,#6bbc5d,#6fbd5d,#73be5c,#77bf5c,#7cc05c,#81c25b,#86c35b,#8bc45b,#8fc65b,#96c85a,#9fcb58,#a9ce55,#b2d153,#bcd550,#cad94a,#d7dd45,#e3e03f,#e7e138,#ebe131,#efe22b,#f3e125,#f6e121,#f9e01c,#f8d71d,#f8d11d,#f7cd1e,#f7ca1e,#f7c71e,#f7c81e,#f7ca1e,#f7cc1e,#f8d01d,#f8d91d,#f8e01d,#f3e125,#ede22f,#e6e13a,#d8dd44,#c2d74e,#afd054,#9eca58,#8fc65b,#81c25b,#75be5c,#6dbc5d,#65ba5d,#5cb85e,#5bb85e,#5ab85e,#59b75f,#58b75f,#57b75f,#53b764,#58ba7d,#5fbd99,#67c2b5,#57c1c9,#45c0d9,#35bee0,#24bce7,#2fa2d8,#3b8bca,#3a83c4,#367bbf,#3172b9,#2f6cb6,#2e69b4,#2d65b2);--g8:linear-gradient(90deg,#4dc0d3,#58c1c8,#64c2bc,#63c0a8,#5cbc90,#59ba81,#57b977,#55b871,#54b76b,#53b765,#52b660,#54b660,#55b75f,#56b75f,#57b75f,#59b75f,#5ab85e,#5bb85e,#5eb95e,#62ba5e,#66bb5d,#6bbc5d,#6fbd5d,#73be5c,#77bf5c,#7cc05c,#81c15b,#86c35b,#8ac45b,#8fc65b,#96c85a,#9fcb58,#a9ce55,#b2d153,#bcd550,#cad94a,#d7dd45,#e3e03f,#e7e138,#ebe131,#efe22b,#f3e125,#f6e121,#f9e01c,#f8d71d,#f8d11d,#f8ce1d,#f7cb1e,#f7c81e,#f7c91e,#f7cb1e,#f7cd1e,#f8d11d,#f8d91d,#f9e01d,#f4e124,#ede22e,#e6e139,#d9dd44,#c2d74d,#afd054,#9eca58,#90c65b,#82c25b,#76be5c,#6dbc5d,#65ba5d,#5cb85e,#5bb85e,#5ab85e,#59b75f,#58b75f,#57b75f,#53b664,#58ba7c,#5ebd97,#67c2b5,#57c1c9,#45c0d9,#35bee0,#22bce7,#319ed6,#3c86c7,#387ec2,#3477bc,#2f6db6,#2e69b4,#2e67b2,#2d65b1);--g9:linear-gradient(90deg,#4cc0d4,#58c1c8,#64c2bc,#63c0a8,#5cbc90,#59ba81,#57b977,#55b871,#54b76b,#53b765,#52b660,#54b660,#55b75f,#56b75f,#57b75f,#59b75f,#5ab85e,#5bb85e,#5eb85e,#62ba5e,#66bb5d,#6bbc5d,#6fbd5d,#73be5c,#77bf5c,#7cc05c,#81c15b,#85c35b,#8ac45b,#8fc65b,#96c75a,#9fcb58,#a9ce55,#b2d153,#bcd550,#cad94a,#d7dd45,#e3e03f,#e7e138,#ebe131,#efe22b,#f3e125,#f6e121,#f9e01c,#f8d71d,#f8d21d,#f8cf1d,#f7cc1e,#f7c91e,#f7ca1e,#f7cc1e,#f7cd1e,#f8d11d,#f8d91d,#f9e01c,#f4e124,#eee22d,#e7e138,#dade43,#c3d74d,#b0d153,#9fca58,#90c65b,#82c25b,#76be5c,#6dbc5d,#65ba5d,#5cb85e,#5bb85e,#5ab85e,#59b75f,#58b75f,#57b75f,#53b663,#57b97b,#5ebd96,#67c2b5,#57c1c9,#45c0d9,#34bee0,#21bce8,#339ad3,#3a82c4,#367abf,#3173ba,#2e68b3,#2d65b1,#2d64b1,#2d64b1);--g10:linear-gradient(90deg,#4bc0d5,#57c1c9,#64c2bc,#63c0a8,#5cbc90,#59ba81,#57b977,#55b871,#54b76b,#53b765,#52b660,#54b660,#55b75f,#56b75f,#57b75f,#58b75f,#5ab85e,#5bb85e,#5eb85e,#62b95e,#66bb5d,#6abc5d,#6fbd5d,#73be5c,#77bf5c,#7cc05c,#81c15b,#85c35b,#8ac45b,#8fc55b,#96c75a,#9fcb58,#a9ce55,#b2d153,#bcd550,#cad94a,#d7dd45,#e3e03f,#e7e138,#ebe131,#efe22b,#f3e125,#f6e121,#f9e01c,#f8d71d,#f8d21d,#f8d01d,#f7cd1e,#f7ca1e,#f7cb1e,#f7cd1e,#f8ce1d,#f8d21d,#f8d91d,#f9e01c,#f4e123,#eee22d,#e7e138,#dbde43,#c4d74d,#b0d153,#9fcb58,#90c65a,#82c25b,#76bf5c,#6ebc5d,#65ba5d,#5cb85e,#5bb85e,#5ab85e,#59b75f,#58b75f,#57b75f,#53b663,#57b97b,#5ebd95,#67c1b4,#57c1c9,#45c0d9,#34bee0,#20bce8,#3597d1,#377ec1,#3376bc,#306eb7,#2d63b0,#2c61af,#2d62b0,#2d63b0);--g11:linear-gradient(90deg,#4ac0d6,#57c1c9,#64c2bc,#63c0a8,#5cbc90,#59ba81,#57b977,#55b871,#54b76b,#53b765,#52b660,#54b660,#55b75f,#56b75f,#57b75f,#58b75f,#5ab85e,#5bb85e,#5eb85e,#62b95e,#66bb5d,#6abc5d,#6ebd5d,#73be5c,#77bf5c,#7cc05c,#80c15b,#85c35b,#8ac45b,#8fc55b,#96c75a,#9fcb58,#a9ce55,#b2d153,#bcd550,#cad94a,#d7dd45,#e3e03f,#e7e138,#ebe131,#efe22b,#f3e125,#f6e121,#f9e01c,#f8d81d,#f8d31d,#f8d01d,#f7ce1e,#f7cb1e,#f7cd1e,#f7ce1e,#f8cf1d,#f8d21d,#f8d81d,#f9df1c,#f4e123,#eee22c,#e8e137,#dcde42,#c5d84c,#b1d153,#9fcb58,#91c65a,#83c25b,#77bf5c,#6ebc5d,#65ba5d,#5cb85e,#5bb85e,#5ab85e,#59b75f,#58b75f,#57b75f,#53b663,#57b97a,#5dbd94,#67c1b4,#57c1c9,#44c0da,#33bee0,#21bbe7,#3793cf,#3579be,#3172b9,#2e69b4,#2b5ead,#2b5dad,#2c60ae,#2d63b0);--g12:linear-gradient(90deg,#49c0d7,#56c1ca,#63c2bd,#63c0a8,#5cbc90,#59ba81,#57b977,#55b871,#54b76b,#53b765,#52b660,#54b660,#55b75f,#56b75f,#57b75f,#58b75f,#5ab85e,#5bb85e,#5eb85e,#62b95e,#66ba5d,#6abc5d,#6ebd5d,#72be5c,#77bf5c,#7bc05c,#80c15b,#85c35b,#8ac45b,#8fc55b,#96c75a,#9fcb58,#a9ce55,#b2d153,#bcd550,#cad94a,#d7dd45,#e3e03f,#e7e138,#ebe131,#efe22b,#f3e125,#f6e121,#f9e01c,#f8d81d,#f8d31d,#f8d11d,#f8cf1d,#f7cd1e,#f7ce1e,#f8cf1d,#f8d01d,#f8d31d,#f8d81d,#f9de1c,#f5e123,#efe22c,#e8e136,#dddf42,#c6d84c,#b1d153,#a0cb58,#91c65a,#83c25b,#77bf5c,#6ebd5d,#65ba5d,#5cb85e,#5bb85e,#5ab85e,#59b75f,#58b75f,#57b75f,#52b662,#57b979,#5dbc92,#67c1b4,#57c1c9,#44c0da,#33bee1,#21bae7,#398fcc,#3375bb,#2f6db6,#2d63b1,#2a59aa,#2a59ab,#2b5ead,#2c62b0);--g13:linear-gradient(90deg,#48c0d8,#56c1ca,#63c2bd,#63c0a8,#5cbc90,#59ba81,#57b977,#55b871,#54b76b,#53b765,#52b660,#54b660,#55b75f,#56b75f,#57b75f,#58b75f,#5ab85e,#5bb85e,#5db85e,#62b95e,#66ba5d,#6abb5d,#6ebd5d,#72be5c,#77bf5c,#7bc05c,#80c15b,#85c35b,#8ac45b,#8fc55b,#96c75a,#9fcb58,#a8ce55,#b2d153,#bcd550,#cad94a,#d7dd45,#e3e03f,#e7e138,#ebe131,#efe22b,#f3e125,#f6e121,#f9e01c,#f8d81d,#f8d41d,#f8d21d,#f8d01d,#f7ce1e,#f8cf1d,#f8d01d,#f8d11d,#f8d31d,#f8d81d,#f9dd1c,#f5e122,#efe22b,#e8e136,#dedf42,#c6d84c,#b1d153,#a0cb58,#91c65a,#84c25b,#77bf5c,#6ebd5d,#65ba5d,#5cb85e,#5bb85e,#5ab85e,#59b75f,#58b75f,#57b75f,#52b662,#57b979,#5dbc91,#67c1b4,#57c1c9,#44c0da,#32bee1,#22b9e6,#3b8cca,#3071b9,#2e68b3,#2c5ead,#2954a7,#2956a8,#2b5bac,#2c61af);--g14:linear-gradient(90deg,#47c0d8,#55c1cb,#63c2bd,#63c0a8,#5cbc90,#59ba81,#57b977,#55b871,#54b76b,#53b765,#52b660,#54b660,#55b75f,#56b75f,#57b75f,#58b75f,#5ab85e,#5bb85e,#5db85e,#61b95e,#66ba5d,#6abb5d,#6ebd5d,#72be5c,#76bf5c,#7bc05c,#80c15c,#85c35b,#8ac45b,#8ec55b,#96c75a,#9fca58,#a8ce55,#b2d153,#bcd550,#cad94a,#d7dd45,#e3e03f,#e7e138,#ebe131,#efe22b,#f3e125,#f6e121,#f9e01d,#f8d81d,#f8d41d,#f8d21d,#f8d11d,#f8cf1d,#f8d01d,#f8d11d,#f8d11d,#f8d41d,#f8d81d,#f9dc1c,#f5e122,#f0e22b,#e9e135,#dfdf41,#c7d84b,#b2d153,#a0cb58,#92c65a,#84c25b,#78bf5c,#6fbd5d,#65ba5d,#5cb85e,#5bb85e,#5ab85e,#59b75f,#58b75f,#57b75f,#52b662,#57b978,#5cbc90,#67c1b3,#57c1c9,#43c0da,#32bee1,#23b7e5,#3d88c8,#2f6bb5,#2d62b0,#2a59aa,#2850a5,#2852a6,#2a59aa,#2c60af);--g15:linear-gradient(90deg,#46c0d9,#54c1cc,#63c2bd,#63c0a8,#5cbc90,#59ba81,#57b977,#55b871,#54b76b,#53b765,#52b660,#54b660,#55b75f,#56b75f,#57b75f,#58b75f,#5ab85e,#5bb85e,#5db85e,#61b95e,#66ba5d,#6abb5d,#6ebc5d,#72be5c,#76bf5c,#7bc05c,#80c15c,#85c35b,#89c45b,#8ec55b,#95c75a,#9fca58,#a8ce55,#b2d153,#bcd550,#cad94a,#d7dd45,#e3e03f,#e7e138,#ebe131,#efe22b,#f3e125,#f6e121,#f9e01d,#f8d91d,#f8d41d,#f8d31d,#f8d21d,#f8d01d,#f8d11d,#f8d21d,#f8d21d,#f8d41d,#f8d71d,#f9db1c,#f6e121,#f0e22a,#e9e135,#e0df41,#c8d84b,#b2d253,#a1cb58,#92c65a,#84c25b,#78bf5c,#6fbd5d,#66ba5d,#5cb85e,#5bb85e,#5ab85e,#59b75f,#58b75f,#57b75f,#52b661,#57b977,#5cbc8e,#67c1b3,#57c1c9,#43c0da,#31bee1,#23b6e4,#3b85c6,#2d66b2,#2b5dac,#2953a7,#284fa3,#2850a4,#2a57a9,#2c60ae);--g16:linear-gradient(90deg,#45c0d9,#54c1cc,#63c2bd,#63c0a8,#5cbc90,#59ba81,#57b977,#55b871,#54b76b,#53b765,#52b660,#54b660,#55b75f,#56b75f,#57b75f,#58b75f,#5ab85e,#5bb85e,#5db85e,#61b95e,#65ba5d,#6abb5d,#6ebc5d,#72bd5c,#76bf5c,#7bc05c,#80c15c,#84c35b,#89c45b,#8ec55b,#95c75a,#9fca58,#a8ce55,#b2d153,#bcd550,#cad94a,#d7dd45,#e3e03f,#e7e138,#ebe131,#efe22b,#f3e125,#f6e121,#f9e01d,#f8d91d,#f8d51d,#f8d41d,#f8d31d,#f8d21d,#f8d21d,#f8d31d,#f8d31d,#f8d51d,#f8d71d,#f9da1c,#f6e121,#f0e22a,#eae134,#e1e040,#c9d94b,#b3d253,#a1cb57,#92c65a,#85c35b,#78bf5c,#6fbd5d,#66ba5d,#5cb85e,#5bb85e,#5ab85e,#59b75f,#58b75f,#57b75f,#52b661,#57b977,#5bbc8d,#66c1b3,#57c1c9,#43bfda,#30bee1,#24b5e4,#3a82c4,#2c60ae,#2a57a9,#2850a5,#294ea2,#284fa4,#2955a8,#2c5fae);--g17:linear-gradient(90deg,#45c0d9,#53c1cd,#63c2bd,#63c0a8,#5cbc90,#59ba81,#57b977,#55b871,#54b76b,#53b765,#52b660,#54b660,#55b75f,#56b75f,#57b75f,#58b75f,#59b75f,#5bb85e,#5db85e,#61b95e,#65ba5d,#69bb5d,#6ebc5d,#72bd5c,#76be5c,#7bc05c,#80c15c,#84c25b,#89c45b,#8ec55b,#95c75a,#9fca58,#a8ce55,#b2d153,#bcd550,#cad94a,#d7dd45,#e3e03f,#e7e138,#ebe131,#efe22b,#f3e125,#f6e121,#f9e01d,#f8d91d,#f8d51d,#f8d41d,#f8d41d,#f8d31d,#f8d31d,#f8d41d,#f8d41d,#f8d51d,#f8d71d,#f8da1d,#f6e121,#f0e229,#eae133,#e2e040,#c9d94a,#b3d252,#a2cb57,#93c75a,#85c35b,#79bf5c,#6fbd5d,#66ba5d,#5cb85e,#5bb85e,#5ab85e,#59b75f,#58b75f,#57b75f,#52b661,#56b976,#5bbc8c,#66c1b2,#57c1c9,#43bfda,#30bee2,#24b4e3,#387fc2,#2b5aab,#2851a6,#294fa3,#294ea1,#294fa3,#2952a6,#2c5ead);--g18:linear-gradient(90deg,#44c0da,#53c1cd,#63c2bd,#63c0a8,#5cbc90,#59ba81,#57b977,#55b871,#54b76b,#53b765,#52b660,#54b660,#55b75f,#56b75f,#57b75f,#58b75f,#59b75f,#5bb85e,#5db85e,#61b95e,#65ba5d,#69bb5d,#6dbc5d,#72bd5c,#76be5c,#7bc05c,#7fc15c,#84c25b,#89c45b,#8ec55b,#95c75a,#9fca58,#a8ce55,#b2d153,#bcd550,#cad94a,#d7dd45,#e3e03f,#e7e138,#ebe131,#efe22b,#f3e125,#f6e121,#f8e01d,#f8d91d,#f8d61d,#f8d51d,#f8d51d,#f8d41d,#f8d41d,#f8d51d,#f8d51d,#f8d51d,#f8d71d,#f8d91d,#f6e120,#f1e229,#ebe133,#e2e03f,#cad94a,#b4d252,#a2cc57,#93c75a,#86c35b,#79bf5c,#70bd5d,#66bb5d,#5cb85e,#5bb85e,#5ab85e,#59b75f,#58b75f,#57b75f,#52b660,#56b975,#5bbb8b,#66c1b2,#57c1c9,#42bfda,#2fbee2,#25b3e2,#367cc0,#2954a8,#284fa4,#294ea2,#2a4da0,#294ea2,#2850a5,#2b5ead);--g19:linear-gradient(90deg,#43bfda,#52c1ce,#62c2be,#63c0a8,#5cbc90,#59ba81,#57b977,#55b871,#54b76b,#53b765,#52b660,#54b660,#55b75f,#56b75f,#57b75f,#58b75f,#59b75f,#5bb85e,#5db85e,#61b95e,#65ba5d,#69bb5d,#6dbc5d,#72bd5c,#76be5c,#7ac05c,#7fc15c,#84c25b,#89c45b,#8ec55b,#95c75a,#9eca58,#a8ce55,#b2d153,#bcd550,#cad94a,#d7dd45,#e3e03f,#e7e138,#ebe131,#efe22b,#f3e125,#f6e121,#f8e01d,#f8d91d,#f8d61d,#f8d61d,#f8d61d,#f8d51d,#f8d51d,#f8d61d,#f8d61d,#f8d61d,#f8d71d,#f8d81d,#f7e120,#f1e228,#ebe132,#e3e03f,#cbd94a,#b4d252,#a2cc57,#94c75a,#86c35b,#7abf5c,#70bd5d,#66bb5d,#5db85e,#5bb85e,#5ab85e,#59b75f,#58b75f,#57b75f,#52b660,#56b975,#5abb89,#66c1b2,#57c1c9,#42bfda,#2fbde2,#26b2e2,#3579be,#2850a5,#294fa3,#294da1,#2a4c9e,#294ea1,#2850a4,#2b5dad);--g20:linear-gradient(90deg,#42bfda,#52c1ce,#62c2be,#63c0a8,#5cbc90,#59ba81,#57b978,#56b872,#54b76b,#53b765,#52b660,#54b660,#55b75f,#56b75f,#57b75f,#58b75f,#59b75f,#5bb85e,#5cb85e,#61b95e,#65ba5d,#69bb5d,#6dbc5d,#71bd5c,#76be5c,#7ac05c,#7fc15c,#84c25b,#89c45b,#8ec55b,#95c75a,#9eca58,#a8ce55,#b2d153,#bcd550,#cad94a,#d7dd45,#e3e03f,#e7e138,#ebe131,#efe22b,#f3e125,#f6e121,#f8e01d,#f8da1d,#f8d61d,#f8d61d,#f8d61d,#f8d61d,#f8d61d,#f8d61d,#f8d61d,#f8d61d,#f8d61d,#f8d71d,#f7e01f,#f1e228,#ebe131,#e3e03e,#ccda49,#b4d252,#a3cc57,#94c75a,#86c35b,#7ac05c,#70bd5d,#66bb5d,#5db85e,#5bb85e,#5ab85e,#59b75f,#58b75f,#57b75f,#52b660,#56b974,#5abb88,#66c1b1,#57c1c9,#42bfdb,#2ebde2,#27b0e1,#3376bc,#284fa3,#294ea1,#2a4d9f,#2a4c9e,#294da0,#284fa4,#2b5cac);--g21:linear-gradient(90deg,#40bfdb,#50c0d0,#60c2c0,#64c0ab,#5dbd93,#59ba82,#57b979,#56b872,#54b86c,#53b766,#52b660,#53b660,#55b75f,#56b75f,#57b75f,#58b75f,#59b75f,#5bb85e,#5cb85e,#61b95e,#65ba5d,#69bb5d,#6dbc5d,#71bd5c,#76be5c,#7ac05c,#7fc15c,#84c25b,#89c45b,#8ec55b,#95c75a,#9eca58,#a8ce55,#b2d153,#bcd550,#cad94a,#d7dd45,#e3e03f,#e7e138,#ebe131,#efe22b,#f3e125,#f6e121,#f8e01d,#f8da1d,#f8d61d,#f8d61d,#f8d61d,#f8d61d,#f8d61d,#f8d61d,#f8d61d,#f8d61d,#f8d61d,#f8d71d,#f7e01f,#f1e228,#ebe131,#e3e03e,#ccda49,#b4d252,#a3cc57,#94c75a,#86c35b,#7ac05c,#70bd5d,#66bb5d,#5db85e,#5bb85e,#5ab85e,#59b75f,#58b75f,#56b75f,#52b662,#56b975,#5bbb8a,#66c1b2,#56c1ca,#40bfdb,#28bde5,#2ba8db,#3274bb,#2850a4,#294ea2,#294da0,#2a4c9e,#294da0,#294fa3,#2955a8);--g22:linear-gradient(90deg,#3ebfdc,#4ec0d2,#5ec1c2,#65c0ae,#5ebd95,#59ba84,#57b97a,#56b873,#55b86d,#53b767,#52b661,#53b660,#54b660,#56b75f,#57b75f,#58b75f,#59b75f,#5bb85e,#5cb85e,#61b95e,#65ba5d,#69bb5d,#6dbc5d,#71bd5c,#76be5c,#7ac05c,#7fc15c,#84c25b,#89c45b,#8ec55b,#95c75a,#9eca58,#a8ce55,#b2d153,#bcd550,#cad94a,#d7dd45,#e3e03f,#e7e138,#ebe131,#efe22b,#f3e125,#f6e121,#f8e01d,#f8da1d,#f8d61d,#f8d61d,#f8d61d,#f8d61d,#f8d61d,#f8d61d,#f8d61d,#f8d61d,#f8d61d,#f8d71d,#f7e01f,#f1e228,#ebe131,#e3e03e,#ccda49,#b4d252,#a3cc57,#94c75a,#86c35b,#7ac05c,#70bd5d,#66bb5d,#5db85e,#5bb85e,#5ab85e,#59b75f,#57b75f,#56b75f,#53b764,#57b977,#5bbc8c,#67c1b3,#54c1cc,#3ebfdc,#22bce7,#309fd6,#3172b9,#2850a5,#294fa3,#294ea1,#2a4d9f,#294da0,#294ea2,#2850a5);--g23:linear-gradient(90deg,#3dbfdd,#4cc0d4,#5cc1c4,#66c1b0,#5fbd98,#59bb85,#57b97b,#56b974,#55b86e,#54b768,#52b661,#53b660,#54b660,#56b75f,#57b75f,#58b75f,#59b75f,#5bb85e,#5cb85e,#61b95e,#65ba5d,#69bb5d,#6dbc5d,#71bd5c,#76be5c,#7ac05c,#7fc15c,#84c25b,#89c45b,#8ec55b,#95c75a,#9eca58,#a8ce55,#b2d153,#bcd550,#cad94a,#d7dd45,#e3e03f,#e7e138,#ebe131,#efe22b,#f3e125,#f6e121,#f8e01d,#f8da1d,#f8d61d,#f8d61d,#f8d61d,#f8d61d,#f8d61d,#f8d61d,#f8d61d,#f8d61d,#f8d61d,#f8d71d,#f7e01f,#f1e228,#ebe131,#e3e03e,#ccda49,#b4d252,#a3cc57,#94c75a,#86c35b,#7ac05c,#70bd5d,#66bb5d,#5db85e,#5bb85e,#5ab85e,#58b75f,#57b75f,#55b75f,#53b766,#57b978,#5cbc8e,#67c1b4,#53c1cd,#3cbfdd,#22b9e6,#3597d1,#306fb8,#2953a7,#284fa4,#294ea2,#294da0,#294da0,#294ea2,#294fa3);--g24:linear-gradient(90deg,#3bbfdd,#4ac0d6,#5ac1c6,#66c1b3,#5fbe9b,#5abb86,#58b97c,#56b975,#55b86f,#54b768,#52b662,#53b660,#54b660,#56b75f,#57b75f,#58b75f,#59b75f,#5bb85e,#5cb85e,#61b95e,#65ba5d,#69bb5d,#6dbc5d,#71bd5c,#76be5c,#7ac05c,#7fc15c,#84c25b,#89c45b,#8ec55b,#95c75a,#9eca58,#a8ce55,#b2d153,#bcd550,#cad94a,#d7dd45,#e3e03f,#e7e138,#ebe131,#efe22b,#f3e125,#f6e121,#f8e01d,#f8da1d,#f8d61d,#f8d61d,#f8d61d,#f8d61d,#f8d61d,#f8d61d,#f8d61d,#f8d61d,#f8d61d,#f8d71d,#f7e01f,#f1e228,#ebe131,#e3e03e,#ccda49,#b4d252,#a3cc57,#94c75a,#86c35b,#7ac05c,#70bd5d,#66bb5d,#5db85e,#5bb85e,#59b75f,#58b75f,#57b75f,#54b660,#54b768,#57b97a,#5cbc8f,#67c2b5,#52c1ce,#3bbfdd,#25b3e3,#3a8ecc,#2f6cb6,#2956a8,#2850a4,#294fa3,#294da1,#294da0,#294ea1,#294ea1);--g25:linear-gradient(90deg,#39bfde,#48c0d8,#58c1c8,#67c2b5,#60be9d,#5abb87,#58ba7d,#56b976,#55b870,#54b769,#53b663,#53b660,#54b660,#55b75f,#57b75f,#58b75f,#59b75f,#5bb85e,#5cb85e,#61b95e,#65ba5d,#69bb5d,#6dbc5d,#71bd5c,#76be5c,#7ac05c,#7fc15c,#84c25b,#89c45b,#8ec55b,#95c75a,#9eca58,#a8ce55,#b2d153,#bcd550,#cad94a,#d7dd45,#e3e03f,#e7e138,#ebe131,#efe22b,#f3e125,#f6e121,#f8e01d,#f8da1d,#f8d61d,#f8d61d,#f8d61d,#f8d61d,#f8d61d,#f8d61d,#f8d61d,#f8d61d,#f8d61d,#f8d71d,#f7e01f,#f1e228,#ebe131,#e3e03e,#ccda49,#b4d252,#a3cc57,#94c75a,#86c35b,#7ac05c,#70bd5d,#66bb5d,#5db85e,#5bb85e,#59b75f,#58b75f,#57b75f,#53b660,#54b76b,#57b97b,#5dbc91,#67c2b6,#50c1d0,#39bfde,#28aedf,#3c86c7,#2e6ab4,#2a59aa,#2851a6,#284fa3,#294ea1,#294da1,#294da0,#2a4da0);--g26:linear-gradient(90deg,#37bedf,#46c0d9,#56c1ca,#68c2b8,#61bea0,#5abb88,#58ba7e,#57b977,#55b871,#54b76a,#53b663,#53b660,#54b660,#55b75f,#57b75f,#58b75f,#59b75f,#5bb85e,#5cb85e,#61b95e,#65ba5d,#69bb5d,#6dbc5d,#71bd5c,#76be5c,#7ac05c,#7fc15c,#84c25b,#89c45b,#8ec55b,#95c75a,#9eca58,#a8ce55,#b2d153,#bcd550,#cad94a,#d7dd45,#e3e03f,#e7e138,#ebe131,#efe22b,#f3e125,#f6e121,#f8e01d,#f8da1d,#f8d61d,#f8d61d,#f8d61d,#f8d61d,#f8d61d,#f8d61d,#f8d61d,#f8d61d,#f8d61d,#f8d71d,#f7e01f,#f1e228,#ebe131,#e3e03e,#ccda49,#b4d252,#a3cc57,#94c75a,#86c35b,#7ac05c,#70bd5d,#66bb5d,#5db85e,#5ab85e,#59b75f,#58b75f,#56b75f,#53b660,#55b86d,#58ba7d,#5dbd93,#68c2b6,#4fc0d1,#37bedf,#2ba8dc,#387fc2,#2e67b2,#2b5cac,#2954a7,#284fa4,#294ea2,#294ea1,#2a4d9f,#2a4c9e);--g27:linear-gradient(90deg,#37bedf,#45c0d9,#55c1cb,#66c2ba,#62bfa4,#5bbc8c,#58ba80,#57b979,#56b872,#54b76b,#53b764,#53b660,#54b660,#55b75f,#57b75f,#58b75f,#59b75f,#5bb85e,#5cb85e,#61b95e,#65ba5d,#69bb5d,#6dbc5d,#71bd5c,#75be5c,#7ac05c,#7fc15c,#84c25b,#89c45b,#8ec55b,#95c75a,#9eca58,#a8ce55,#b2d253,#bdd550,#cad94a,#d7dd45,#e3e03e,#e7e137,#ece131,#f0e22a,#f3e125,#f6e121,#f9e01d,#f8d91d,#f8d61d,#f8d61d,#f8d61d,#f8d61d,#f8d61d,#f8d61d,#f8d61d,#f8d61d,#f8d61d,#f8d71d,#f7e01f,#f1e228,#ebe131,#e3e03e,#ccda49,#b5d252,#a3cc57,#94c75a,#87c35b,#7ac05c,#70bd5d,#67bb5d,#5db85e,#5bb85e,#59b75f,#58b75f,#56b75f,#52b660,#55b86f,#58ba7e,#5ebd96,#68c2b8,#4dc0d3,#35bedf,#2ea3d8,#3579be,#2d62b0,#2b5bac,#2953a7,#284fa4,#294ea2,#294da0,#2a4c9e,#2a4c9e);--g28:linear-gradient(90deg,#38bede,#45c0d9,#53c1cd,#63c2bd,#64c0a9,#5dbd93,#59ba82,#57b97b,#56b874,#55b86d,#53b766,#52b660,#54b660,#55b75f,#56b75f,#58b75f,#59b75f,#5bb85e,#5cb85e,#60b95e,#65ba5d,#69bb5d,#6dbc5d,#71bd5c,#75be5c,#7ac05c,#7fc15c,#84c25b,#89c45b,#8ec55b,#95c75a,#9fca58,#a9ce55,#b3d253,#bdd54f,#cbd94a,#d8dd44,#e3e03e,#e8e137,#ece130,#f0e229,#f4e124,#f7e01f,#f9e01c,#f8d81d,#f8d61d,#f8d61d,#f8d61d,#f8d61d,#f8d61d,#f8d61d,#f8d61d,#f8d61d,#f8d61d,#f8d61d,#f7e01f,#f2e227,#ece131,#e4e03d,#ceda49,#b6d352,#a5cd56,#96c75a,#88c35b,#7bc05c,#71bd5d,#67bb5d,#5eb85e,#5bb85e,#59b75f,#58b75f,#56b75f,#53b663,#56b872,#59ba81,#5fbe9a,#65c2bb,#4bc0d5,#33bee0,#319dd5,#3173ba,#2b5cac,#2955a8,#2850a4,#294fa3,#294ea1,#2a4d9f,#2a4c9e,#2a4c9e);--g29:linear-gradient(90deg,#39bfde,#45c0d9,#52c1ce,#61c2bf,#65c1ae,#5fbe99,#59bb85,#58ba7d,#56b976,#55b86e,#53b767,#52b660,#53b660,#55b75f,#56b75f,#58b75f,#59b75f,#5bb85e,#5cb85e,#60b95e,#64ba5d,#68bb5d,#6dbc5d,#71bd5d,#75be5c,#7abf5c,#7fc15c,#84c25b,#89c45b,#8ec55b,#95c75a,#9fca58,#a9ce55,#b3d252,#bed64f,#cbd94a,#d9dd44,#e4e03d,#e8e136,#ede22f,#f1e229,#f5e123,#f8e01e,#f9de1c,#f8d81d,#f8d51d,#f8d51d,#f8d51d,#f8d51d,#f8d51d,#f8d51d,#f8d51d,#f8d51d,#f8d51d,#f8d61d,#f7e01f,#f2e227,#ece130,#e4e03c,#cfdb48,#b8d451,#a6cd56,#97c85a,#89c45b,#7cc05c,#71bd5c,#68bb5d,#5fb95e,#5bb85e,#59b75f,#58b75f,#55b75f,#53b767,#56b975,#59ba83,#60be9e,#63c2bd,#48c0d8,#31bee1,#3498d2,#2f6bb5,#2a56a9,#2850a5,#294fa3,#294ea1,#2a4d9f,#2a4c9e,#2a4c9e,#2a4c9e);--g30:linear-gradient(90deg,#3abfde,#45c0d9,#51c1cf,#5ec1c2,#67c1b4,#61bea0,#5abb88,#58ba80,#57b978,#55b870,#54b769,#52b662,#53b660,#55b75f,#56b75f,#58b75f,#59b75f,#5ab85e,#5cb85e,#60b95e,#64ba5d,#68bb5d,#6cbc5d,#71bd5d,#75be5c,#79bf5c,#7ec15c,#84c25b,#89c45b,#8ec55b,#95c75a,#9fcb58,#a9ce55,#b3d252,#bed64f,#ccda49,#d9dd44,#e4e03d,#e9e135,#ede22e,#f1e228,#f5e122,#f8e01d,#f9dc1c,#f8d71d,#f8d51d,#f8d51d,#f8d51d,#f8d51d,#f8d51d,#f8d51d,#f8d51d,#f8d51d,#f8d51d,#f8d51d,#f7e01e,#f2e227,#ede22f,#e5e03c,#d0db47,#b9d451,#a8ce56,#98c85a,#8ac45b,#7dc05c,#71bd5c,#68bb5d,#5fb95e,#5bb85e,#59b75f,#58b75f,#55b75f,#54b76b,#57b978,#59bb85,#62bfa2,#60c2c0,#46c0d9,#2ebde2,#3793cf,#2d63b0,#2850a5,#284fa3,#294ea2,#294da0,#2a4c9e,#2a4c9e,#2a4c9e,#2a4c9e);--g31:linear-gradient(90deg,#3bbfdd,#45c0d9,#4fc0d1,#5bc1c5,#67c2b9,#63bfa6,#5cbc8e,#59ba82,#57b979,#56b872,#54b76a,#53b663,#53b660,#54b660,#56b75f,#57b75f,#59b75f,#5ab85e,#5cb85e,#60b95e,#64ba5d,#68bb5d,#6cbc5d,#70bd5d,#75be5c,#79bf5c,#7ec15c,#84c25b,#89c45b,#8ec55b,#95c75a,#9fcb58,#a9ce55,#b4d252,#bfd64f,#ccda49,#dade43,#e4e03c,#eae134,#eee22d,#f2e227,#f6e121,#f9df1c,#f9db1c,#f8d61d,#f8d41d,#f8d41d,#f8d41d,#f8d41d,#f8d41d,#f8d41d,#f8d41d,#f8d41d,#f8d41d,#f8d51d,#f8e01e,#f2e126,#ede22f,#e5e03b,#d2db47,#bbd550,#a9ce55,#99c85a,#8bc45b,#7dc15c,#72bd5c,#69bb5d,#60b95e,#5bb85e,#5ab85e,#58b75f,#54b660,#55b86e,#57b97b,#5abb88,#63bfa6,#5ec1c2,#44c0da,#2cbde3,#3a8ecb,#2b5bac,#284fa4,#294ea2,#294da0,#2a4c9f,#2a4c9e,#2a4c9e,#2a4c9e,#2a4c9e);--g32:linear-gradient(90deg,#3cbfdd,#45c0d9,#4ec0d2,#59c1c7,#63c2bd,#65c0ad,#5ebd94,#59bb84,#57b97b,#56b874,#54b76c,#53b764,#53b660,#54b660,#56b75f,#57b75f,#59b75f,#5ab85e,#5cb85e,#5fb95e,#64ba5d,#68bb5d,#6cbc5d,#70bd5d,#74be5c,#79bf5c,#7ec15c,#84c25b,#89c45b,#8fc55b,#95c75a,#9fcb58,#aace55,#b4d252,#bfd64f,#cdda49,#dbde43,#e5e03c,#eae133,#efe22c,#f3e126,#f7e120,#f9dd1c,#f8d91d,#f8d51d,#f8d41d,#f8d41d,#f8d41d,#f8d41d,#f8d41d,#f8d41d,#f8d41d,#f8d41d,#f8d41d,#f8d41d,#f8e01e,#f3e126,#ede22e,#e6e13a,#d3dc46,#bcd550,#abcf55,#9bc959,#8cc55b,#7ec15c,#72be5c,#6abb5d,#61b95e,#5cb85e,#5ab85e,#58b75f,#53b660,#56b872,#58ba7e,#5bbc8d,#64c0aa,#5cc1c4,#41bfdb,#2abde4,#3d88c8,#2953a7,#294ea2,#294da0,#2a4c9f,#2a4c9e,#2a4c9e,#2a4c9e,#2a4c9e,#2a4c9e);--g33:linear-gradient(90deg,#3dbfdc,#45c0d9,#4dc0d3,#56c1ca,#5fc1c1,#67c1b4,#5fbe9b,#5abb86,#58ba7d,#56b975,#55b86d,#53b766,#52b660,#54b660,#56b75f,#57b75f,#59b75f,#5ab85e,#5cb85e,#5fb95e,#63ba5d,#68bb5d,#6cbc5d,#70bd5d,#74be5c,#78bf5c,#7ec15c,#83c25b,#89c45b,#8fc55b,#95c75a,#9fcb58,#aace55,#b4d252,#c0d64e,#ceda49,#dcde43,#e5e03b,#ebe133,#efe22b,#f3e125,#f7e01f,#f9db1c,#f8d71d,#f8d41d,#f8d31d,#f8d31d,#f8d31d,#f8d31d,#f8d31d,#f8d31d,#f8d31d,#f8d31d,#f8d31d,#f8d41d,#f8e01d,#f3e125,#eee22e,#e6e13a,#d5dc46,#bed64f,#accf54,#9cc959,#8dc55b,#7fc15c,#73be5c,#6abc5d,#62ba5e,#5cb85e,#5ab85e,#58b75f,#53b660,#56b975,#59ba81,#5dbd92,#65c0ae,#59c1c7,#3fbfdb,#27bde5,#3b84c5,#284fa4,#294da1,#2a4d9f,#2a4c9e,#2a4c9e,#2a4c9e,#2a4c9e,#2a4c9e,#2a4c9e);--g34:linear-gradient(90deg,#3ebfdc,#45c0d9,#4cc0d4,#53c1cd,#5bc1c5,#66c2ba,#61bfa1,#5abb89,#58ba7f,#57b977,#55b86f,#53b767,#52b660,#54b660,#55b75f,#57b75f,#59b75f,#5ab85e,#5cb85e,#5fb95e,#63ba5d,#67bb5d,#6bbc5d,#70bd5d,#74be5c,#78bf5c,#7ec15c,#83c25b,#89c45b,#8fc55b,#95c75a,#a0cb58,#aacf55,#b5d252,#c1d64e,#ceda48,#dcde42,#e6e13a,#ebe132,#f0e22b,#f4e124,#f8e01e,#f8d81d,#f8d61d,#f8d41d,#f8d31d,#f8d31d,#f8d31d,#f8d31d,#f8d31d,#f8d31d,#f8d31d,#f8d31d,#f8d31d,#f8d31d,#f8e01d,#f3e125,#eee22d,#e7e139,#d6dd45,#c0d64e,#aed054,#9dca59,#8ec55b,#80c15c,#73be5c,#6bbc5d,#63ba5e,#5cb85e,#5ab85e,#58b75f,#52b660,#57b979,#59ba84,#5fbd98,#66c1b2,#57c1c9,#3dbfdc,#25bde6,#3980c2,#294ea2,#2a4d9f,#2a4c9e,#2a4c9e,#2a4c9e,#2a4c9e,#2a4c9e,#2a4c9e,#2a4c9e);--g35:linear-gradient(90deg,#3fbfdb,#45c0d9,#4ac0d6,#51c1cf,#57c1c9,#61c2bf,#63c0a7,#5cbc8f,#59ba81,#57b979,#55b870,#54b768,#52b660,#54b660,#55b75f,#57b75f,#59b75f,#5ab85e,#5cb85e,#5fb95e,#63ba5e,#67bb5d,#6bbc5d,#6fbd5d,#74be5c,#78bf5c,#7dc15c,#83c25b,#89c45b,#8fc55b,#95c75a,#a0cb58,#aacf55,#b5d352,#c1d64e,#cfdb48,#dddf42,#e6e13a,#ece131,#f0e22a,#f4e123,#f9e01d,#f8d61d,#f8d41d,#f8d31d,#f8d21d,#f8d21d,#f8d21d,#f8d21d,#f8d21d,#f8d21d,#f8d21d,#f8d21d,#f8d21d,#f8d31d,#f9e01d,#f3e125,#eee22d,#e7e138,#d8dd44,#c2d74e,#afd054,#9fca58,#8fc55b,#80c15b,#73be5c,#6cbc5d,#64ba5d,#5db85e,#5ab85e,#58b75f,#52b660,#58ba7c,#5abb87,#60be9d,#67c2b6,#54c1cc,#3bbfdd,#23bce7,#367bc0,#294da0,#2a4c9e,#2a4c9e,#2a4c9e,#2a4c9e,#2a4c9e,#2a4c9e,#2a4c9e,#2a4c9e);--g36:linear-gradient(90deg,#41bfdb,#45c0d9,#49c0d7,#4ec0d2,#53c1cd,#5cc1c4,#65c0ae,#5ebd94,#59ba83,#57b97a,#56b872,#54b769,#52b661,#53b660,#55b75f,#57b75f,#58b75f,#5ab85e,#5bb85e,#5eb95e,#63ba5e,#67bb5d,#6bbc5d,#6fbd5d,#73be5c,#78bf5c,#7dc05c,#83c25b,#89c45b,#8fc65b,#95c75a,#a0cb58,#abcf55,#b6d352,#c2d74e,#d0db48,#dedf42,#e6e139,#ece130,#f1e229,#f5e122,#f9df1c,#f8d31d,#f8d21d,#f8d21d,#f8d21d,#f8d21d,#f8d21d,#f8d21d,#f8d21d,#f8d21d,#f8d21d,#f8d21d,#f8d21d,#f8d21d,#f9e01c,#f4e124,#efe22c,#e7e137,#d9dd44,#c4d74d,#b1d153,#a0cb58,#90c65a,#81c25b,#74be5c,#6cbc5d,#65ba5d,#5db85e,#5ab85e,#58b75f,#52b662,#58ba80,#5bbc8c,#62bfa3,#67c2b9,#52c1ce,#39bede,#21bce8,#3477bd,#2a4c9e,#2a4c9e,#2a4c9e,#2a4c9e,#2a4c9e,#2a4c9e,#2a4c9e,#2a4c9e,#2a4c9e);--g37:linear-gradient(90deg,#43bfda,#46c0d9,#4ac0d6,#4fc0d1,#53c1cd,#5cc1c4,#65c1af,#5ebd96,#59ba84,#57b97b,#56b873,#54b76a,#52b662,#53b660,#55b75f,#57b75f,#59b75f,#5ab85e,#5cb85e,#5fb95e,#64ba5d,#68bb5d,#6cbc5d,#70bd5d,#75be5c,#79bf5c,#7fc15c,#85c35b,#8cc45b,#92c65a,#99c85a,#a4cc57,#afd054,#bad451,#c7d84b,#d4dc46,#e2e040,#e8e137,#ede22e,#f2e227,#f6e121,#f9dd1c,#f8d21d,#f8d11d,#f8d11d,#f8d11d,#f8d11d,#f8d11d,#f8d11d,#f8d11d,#f8d11d,#f8d01d,#f8d01d,#f8d01d,#f8d11d,#f9df1c,#f4e123,#efe22b,#e8e136,#dbde43,#c5d84c,#b2d153,#a1cb58,#91c65a,#82c25b,#74be5c,#6dbc5d,#65ba5d,#5eb85e,#5ab85e,#57b75f,#53b663,#58ba80,#5cbc8f,#62bfa5,#66c2ba,#52c1ce,#38bede,#20bbe8,#3375bb,#2a4c9e,#2a4c9e,#2a4c9e,#2a4c9e,#2a4c9e,#2a4c9e,#2a4c9e,#2a4c9e,#2a4c9e);--g38:linear-gradient(90deg,#46c0d9,#4bc0d5,#4fc0d1,#54c1cc,#59c1c7,#61c2bf,#64c0a9,#5dbc91,#59ba82,#57b97a,#56b872,#54b76a,#52b662,#53b660,#55b75f,#57b75f,#59b75f,#5bb85e,#5db85e,#62b95e,#66bb5d,#6bbc5d,#6fbd5d,#74be5c,#78bf5c,#7dc05c,#83c25b,#8ac45b,#91c65a,#98c85a,#a1cb58,#accf54,#b8d451,#c5d84c,#d2db47,#dfdf41,#e6e139,#ebe131,#f0e22a,#f4e124,#f7e01e,#f8da1d,#f8d11d,#f8d11d,#f8d11d,#f8d01d,#f8d01d,#f8d01d,#f8cf1d,#f8cf1d,#f8cf1d,#f8ce1d,#f7ce1e,#f7ce1e,#f7ce1e,#f9dc1c,#f6e121,#f1e229,#eae134,#dcde42,#c5d84c,#b2d153,#a1cb58,#91c65a,#82c25b,#74be5c,#6dbc5d,#65ba5d,#5eb85e,#5ab85e,#57b75f,#52b661,#58ba7c,#5bbb8b,#61bfa1,#68c2b6,#56c1ca,#3bbfdd,#20bbe8,#3375bb,#2a4c9e,#2a4c9e,#2a4c9e,#2a4c9e,#2a4c9e,#2a4c9e,#2a4c9e,#2a4c9e,#2a4c9e);--g39:linear-gradient(90deg,#4ac0d6,#4fc0d1,#54c1cc,#59c1c7,#5ec1c2,#67c2b9,#62bfa3,#5cbc8d,#59ba81,#57b979,#55b871,#54b76a,#52b662,#53b660,#55b75f,#57b75f,#59b75f,#5bb85e,#5fb95e,#64ba5d,#69bb5d,#6dbc5d,#72be5c,#77bf5c,#7cc05c,#82c25b,#88c35b,#8fc55b,#97c85a,#9fca58,#a9ce55,#b5d352,#c3d74d,#d2db47,#dedf42,#e5e03b,#eae133,#efe22c,#f3e126,#f6e121,#f9e01c,#f8d71d,#f8d11d,#f8d01d,#f8d01d,#f8cf1d,#f8cf1d,#f8ce1d,#f7ce1e,#f7cd1e,#f7cc1e,#f7cc1e,#f7cb1e,#f7cb1e,#f7cb1e,#f8d81d,#f7e01f,#f2e227,#ebe132,#dedf42,#c5d84c,#b2d153,#a1cb58,#91c65a,#82c25b,#74be5c,#6dbc5d,#65ba5d,#5eb85e,#5ab85e,#57b75f,#52b660,#57b978,#5abb88,#60be9d,#66c1b2,#5bc1c5,#3dbfdc,#20bbe8,#3375bb,#2a4c9e,#2a4c9e,#2a4c9e,#2a4c9e,#2a4c9e,#2a4c9e,#2a4c9e,#2a4c9e,#2a4c9e);--g40:linear-gradient(90deg,#4ec0d2,#54c1cc,#59c1c7,#5fc1c1,#64c2bc,#66c1b2,#60be9e,#5abb89,#58ba80,#57b977,#55b871,#54b76a,#53b663,#53b660,#55b75f,#57b75f,#5ab85e,#5cb85e,#61b95e,#66bb5d,#6bbc5d,#70bd5d,#75be5c,#7ac05c,#80c15c,#85c35b,#8bc45b,#94c75a,#9cc959,#a5cd56,#b1d153,#bed64f,#cfda48,#dddf42,#e5e03c,#eae134,#eee22d,#f2e227,#f5e122,#f8e01e,#f9db1c,#f8d21d,#f8cf1d,#f8ce1d,#f7ce1e,#f7cd1e,#f7cc1e,#f7cb1e,#f7cb1e,#f7ca1e,#f7c91e,#f7c81e,#f7c81e,#f7c71e,#f7c71e,#f8d51d,#f8e01d,#f4e124,#ece130,#e0df41,#c6d84c,#b2d153,#a1cb57,#91c65a,#82c25b,#74be5c,#6dbc5d,#65ba5d,#5eb85e,#5ab85e,#58b75f,#53b660,#56b874,#5abb86,#5fbe99,#66c1b0,#5ec1c2,#3fbfdc,#21bbe7,#3376bc,#2a4c9e,#2a4c9e,#2a4c9e,#2a4c9e,#2a4c9e,#2a4c9e,#2a4c9e,#2a4c9e,#2a4c9e);--g41:linear-gradient(90deg,#55c1cb,#5bc1c5,#61c2bf,#67c2b9,#66c1b1,#63c0a7,#5fbd99,#5abb87,#58ba7f,#57b977,#55b870,#54b769,#52b662,#53b660,#56b75f,#58b75f,#5ab85e,#5cb85e,#61b95e,#66bb5d,#6bbc5d,#70bd5d,#75be5c,#7ac05c,#80c15c,#85c35b,#8bc45b,#94c75a,#9cc959,#a5cd56,#b1d153,#bfd64f,#d0db47,#e0df41,#e6e139,#ebe131,#f1e229,#f4e123,#f8e01e,#f8d91d,#f7ce1e,#f6c21f,#f6b91f,#f6b91f,#f6b81f,#f6b81f,#f6b71f,#f6b71f,#f6b71f,#f6b61f,#f6b61f,#f5b620,#f5b520,#f5b520,#f6bd1f,#f8cf1d,#f9de1c,#f5e123,#eee22e,#e3e03e,#ccda49,#b7d351,#a5cd57,#93c75a,#83c25b,#74be5c,#6dbc5d,#66ba5d,#5fb95e,#5bb85e,#58b75f,#54b660,#54b86c,#58ba80,#5fbe9a,#68c2b7,#53c1cd,#37bedf,#25b2e2,#3980c3,#2954a7,#2850a5,#284fa3,#294ea2,#294da1,#2a4d9f,#2a4c9e,#2a4c9e,#2a4c9e);--g42:linear-gradient(90deg,#5bc1c5,#62c2be,#68c2b7,#65c1ae,#63bfa6,#60be9d,#5dbd94,#5abb86,#58ba7e,#57b977,#55b870,#54b769,#52b662,#54b660,#56b75f,#58b75f,#5ab85e,#5cb85e,#61b95e,#66bb5d,#6bbc5d,#70bd5d,#75be5c,#7ac05c,#80c15c,#85c35b,#8bc45b,#93c75a,#9cc959,#a5cd56,#b1d153,#c0d64e,#d2db47,#e2e040,#e8e137,#ede22e,#f3e126,#f7e120,#f9db1c,#f8ce1d,#f6c11f,#f5b320,#f4a623,#f4a523,#f4a523,#f4a523,#f4a523,#f4a523,#f4a523,#f4a523,#f4a523,#f4a523,#f4a523,#f4a523,#f5b320,#f7c81e,#f8d91d,#f6e121,#efe22b,#e5e03b,#d3dc46,#bcd550,#a8ce55,#95c75a,#84c25b,#74be5c,#6ebc5d,#67bb5d,#60b95e,#5bb85e,#59b75f,#56b75f,#53b765,#57b97b,#5fbe9a,#64c2bc,#49c0d7,#30bee2,#2aabdd,#3b8bca,#3274ba,#2f6eb7,#2e67b2,#2c5fae,#2a58aa,#2851a6,#284fa4,#294ea2,#294da0);--g43:linear-gradient(90deg,#60c1c0,#67c2b9,#66c1b0,#63c0a7,#60be9e,#5ebd95,#5bbb8b,#59ba82,#58b97c,#56b975,#55b86e,#53b767,#52b660,#54b660,#56b75f,#58b75f,#5ab85e,#5cb85e,#61b95e,#66ba5d,#6bbc5d,#70bd5d,#74be5c,#7abf5c,#7fc15c,#85c35b,#8bc45b,#93c75a,#9dca59,#a7cd56,#b3d253,#c2d74d,#d4dc46,#e3e03e,#e9e135,#efe22c,#f4e124,#f8e01d,#f8d51d,#f7c91e,#f6bc1f,#f5af20,#f4a423,#f4a224,#f4a124,#f4a124,#f4a024,#f4a024,#f4a024,#f4a024,#f4a024,#f49f24,#f49f24,#f49f24,#f5aa22,#f6be1f,#f7ce1e,#f9de1c,#f3e125,#eae133,#e0df41,#c8d94b,#b1d153,#9dca59,#89c45b,#77bf5c,#6ebd5d,#68bb5d,#61b95e,#5bb85e,#59b75f,#57b75f,#52b661,#56b976,#5cbc8f,#67c1b4,#4fc0d1,#34bee0,#27afe0,#3793cf,#377dc1,#3477bd,#3172b9,#2f6bb5,#2d63b0,#2b5cac,#2955a8,#2850a4,#294fa2);--g44:linear-gradient(90deg,#64c2bc,#67c1b3,#64c0a9,#61be9f,#5ebd96,#5bbc8c,#59bb85,#58ba7f,#57b979,#56b872,#54b76c,#53b766,#52b660,#54b660,#56b75f,#58b75f,#5ab85e,#5cb85e,#61b95e,#66ba5d,#6abc5d,#6fbd5d,#74be5c,#79bf5c,#7fc15c,#85c35b,#8cc45b,#93c75a,#9dca59,#a8ce56,#b4d252,#c4d74d,#d6dd45,#e4e03d,#eae133,#f0e22a,#f5e122,#f9dd1c,#f8d01d,#f7c31e,#f6b71f,#f5ac21,#f4a224,#f49f24,#f49e25,#f39c25,#f39c25,#f39b25,#f39b26,#f39b26,#f39a26,#f39a26,#f39926,#f39926,#f4a224,#f5b320,#f7c31e,#f8d31d,#f7e01f,#efe22b,#e6e139,#d4dc46,#bad451,#a4cc57,#8dc55b,#79bf5c,#6fbd5d,#68bb5d,#62b95e,#5cb85e,#5ab85e,#57b75f,#53b660,#56b872,#5abb86,#64c0ab,#54c1cc,#38bede,#24b4e3,#329cd4,#3c86c7,#3980c3,#367abf,#3274bb,#306eb7,#2e67b2,#2c5fae,#2a57a9,#2850a5);--g45:linear-gradient(90deg,#68c2b7,#65c0ad,#62bfa2,#5fbd98,#5cbc8e,#5abb86,#59ba82,#58b97c,#56b976,#55b870,#54b76a,#53b764,#53b660,#54b660,#56b75f,#58b75f,#5ab85e,#5cb85e,#61b95e,#65ba5d,#6abb5d,#6fbd5d,#73be5c,#79bf5c,#7fc15c,#85c35b,#8cc45b,#93c75a,#9eca58,#a9ce55,#b6d352,#c6d84c,#d8dd44,#e5e03b,#ece131,#f1e228,#f7e120,#f8d91d,#f7cb1e,#f6bd1f,#f5b120,#f4a822,#f49f24,#f39d25,#f39a26,#f39726,#f39727,#f39627,#f39627,#f39527,#f39527,#f39427,#f39427,#f39328,#f39926,#f4a922,#f6b81f,#f7c71e,#f8d91d,#f4e124,#ebe131,#e1e041,#c4d74d,#accf54,#92c65a,#7bc05c,#70bd5d,#69bb5d,#63ba5e,#5cb85e,#5ab85e,#58b75f,#54b660,#55b86d,#59ba82,#62bfa2,#59c1c7,#3cbfdd,#22b9e6,#2da4d9,#3892ce,#3c8ac9,#3a83c5,#377dc1,#3477bd,#3071b9,#2e69b4,#2c61af,#2a59aa);--g46:linear-gradient(90deg,#66c1b1,#63bfa6,#60be9b,#5cbc90,#5abb87,#59ba83,#58ba7e,#57b979,#56b873,#55b86d,#54b768,#52b662,#53b660,#55b75f,#56b75f,#58b75f,#5ab85e,#5cb85e,#60b95e,#65ba5d,#6abb5d,#6ebd5d,#73be5c,#78bf5c,#7ec15c,#85c35b,#8cc45b,#93c75a,#9eca58,#abcf55,#b8d351,#c8d94b,#dade43,#e6e13a,#ede22f,#f3e126,#f8e01e,#f8d41d,#f7c61e,#f6b81f,#f5ad21,#f4a523,#f49d25,#f39a26,#f39627,#f39328,#f39228,#f39128,#f39128,#f29028,#f28f29,#f28f29,#f28e29,#f28d29,#f39128,#f4a024,#f5ad21,#f6bc1f,#f7cd1e,#f8e01e,#f1e229,#e7e138,#cfdb48,#b4d252,#97c85a,#7ec15c,#70bd5d,#6abc5d,#64ba5d,#5db85e,#5ab85e,#58b75f,#55b75f,#54b769,#58ba7d,#5fbe99,#5fc1c1,#40bfdb,#21bce7,#29acde,#319dd5,#3695d0,#3a8dcb,#3c85c6,#387fc2,#3579be,#3173ba,#2f6bb5,#2d63b0);--g47:linear-gradient(90deg,#64c0ab,#61bea0,#5ebd94,#5abb89,#59ba84,#58ba7f,#57b97a,#56b975,#55b870,#54b76b,#53b766,#52b661,#53b660,#55b75f,#57b75f,#58b75f,#5ab85e,#5cb85e,#60b95e,#65ba5d,#69bb5d,#6ebc5d,#72be5c,#77bf5c,#7ec15c,#85c35b,#8cc55b,#93c75a,#9fcb58,#accf54,#b9d451,#cad94a,#dcde43,#e7e138,#eee22d,#f4e124,#f9df1c,#f8cf1d,#f6c01f,#f5b220,#f4a822,#f4a124,#f39b25,#f39727,#f39228,#f28e29,#f28d29,#f28c29,#f28c2a,#f28b2a,#f28a2a,#f2892a,#f2892a,#f2882a,#f2892a,#f39627,#f4a323,#f5b120,#f6c11f,#f8d61d,#f5e122,#ece130,#dbde43,#bcd550,#9cca59,#80c15c,#71bd5c,#6bbc5d,#65ba5d,#5eb95e,#5bb85e,#59b75f,#56b75f,#53b764,#57b978,#5cbc90,#64c2bc,#44c0d9,#26bde5,#24b5e4,#2ba9dc,#30a0d7,#3498d2,#398fcc,#3d87c8,#3981c3,#367abf,#3274bb,#2f6db6);--g48:linear-gradient(90deg,#63bfa6,#5fbe99,#5cbc8d,#59bb85,#58ba80,#57b97b,#57b977,#56b872,#55b86d,#54b768,#53b664,#52b660,#53b660,#55b75f,#57b75f,#58b75f,#5ab85e,#5cb85e,#60b95e,#64ba5d,#69bb5d,#6dbc5d,#72bd5c,#77bf5c,#7ec15c,#85c35b,#8cc55b,#93c75a,#a0cb58,#add054,#bbd550,#ccda49,#dedf42,#e8e137,#f0e22b,#f5e122,#f9da1c,#f7ca1e,#f6bb1f,#f5ad21,#f4a323,#f49e25,#f39926,#f39427,#f28f29,#f28a2a,#f2892a,#f2882a,#f2872a,#f2862b,#f2862b,#f1852b,#f1842b,#f1842b,#f1832b,#f28d29,#f39a26,#f4a623,#f5b620,#f7ca1e,#f9de1c,#f1e228,#e3e03e,#c5d84c,#a2cb57,#82c25b,#72bd5c,#6cbc5d,#66ba5d,#60b95e,#5bb85e,#59b75f,#57b75f,#52b660,#56b874,#5abb88,#67c2b6,#48c0d8,#2cbde3,#21bce8,#25b4e3,#2aabdd,#2fa2d8,#3499d2,#3891cd,#3d89c8,#3a82c4,#367bc0,#3375bb);--g49:linear-gradient(90deg,#61be9f,#5dbd92,#5abb87,#59ba82,#58ba7c,#57b977,#55b871,#55b86d,#54b769,#53b764,#52b660,#53b660,#54b660,#56b75f,#57b75f,#59b75f,#5ab85e,#5cb85e,#5fb95e,#63ba5d,#68bb5d,#6cbc5d,#71bd5c,#76bf5c,#7dc05c,#84c25b,#8cc55b,#93c75a,#a0cb58,#aed054,#bdd550,#cfdb48,#e1e040,#e9e134,#f1e228,#f7e01f,#f8d41d,#f7c51e,#f6b71f,#f5aa22,#f4a024,#f39b26,#f39627,#f29028,#f28b2a,#f2872b,#f1852b,#f1832b,#f1822b,#f1812b,#f1802c,#f1802c,#f17f2c,#f17e2c,#f17e2c,#f2872a,#f39427,#f4a124,#f5b020,#f7c31e,#f8d81d,#f2e126,#e5e03b,#c9d94b,#a5cd56,#86c35b,#73be5c,#6dbc5d,#67bb5d,#60b95e,#5bb85e,#59b75f,#57b75f,#53b660,#55b86f,#59ba84,#65c1ae,#4ec0d2,#32bee1,#26bde6,#23b6e5,#28addf,#2da5da,#319dd5,#3596d1,#398ecc,#3d87c7,#3981c3,#367bbf);--g50:linear-gradient(90deg,#5fbd98,#5bbb8b,#59ba84,#58ba7e,#57b978,#56b872,#54b76c,#54b768,#53b764,#52b660,#53b660,#54b660,#55b75f,#56b75f,#58b75f,#59b75f,#5ab85e,#5bb85e,#5eb95e,#62b95e,#67bb5d,#6cbc5d,#70bd5d,#75be5c,#7cc05c,#84c25b,#8cc55b,#94c75a,#a1cb57,#b0d153,#bfd64f,#d2db47,#e3e03e,#ebe132,#f3e126,#f9e01c,#f8ce1d,#f6c01f,#f5b320,#f4a722,#f49e25,#f39826,#f39228,#f28d29,#f2882a,#f1842b,#f1812b,#f17e2c,#f07c2c,#f07b2c,#f07b2d,#f07a2d,#f07a2d,#f0792d,#f0792d,#f1832b,#f28e29,#f39c25,#f5ab21,#f6bd1f,#f8d31d,#f4e124,#e6e139,#ccda49,#a9ce55,#89c45b,#74be5c,#6dbc5d,#67bb5d,#61b95e,#5cb85e,#5ab85e,#58b75f,#54b660,#54b76b,#58ba80,#63bfa6,#53c1cd,#38bede,#2abde4,#22b9e6,#27b0e0,#2ba9dc,#2fa2d8,#329bd4,#3694cf,#3a8dcb,#3c87c7,#3a82c4);--g51:linear-gradient(90deg,#5dbc92,#5abb86,#59ba81,#57b97a,#56b874,#55b86d,#53b767,#53b663,#52b660,#53b660,#54b660,#55b75f,#56b75f,#57b75f,#58b75f,#59b75f,#5ab85e,#5bb85e,#5db85e,#61b95e,#66ba5d,#6bbc5d,#70bd5d,#75be5c,#7bc05c,#83c25b,#8cc55b,#95c75a,#a2cc57,#b1d153,#c1d64e,#d5dc46,#e4e03c,#ede22f,#f4e123,#f9db1c,#f7c81e,#f6bb1f,#f5af20,#f4a423,#f39b26,#f39527,#f28f29,#f2892a,#f1852b,#f1802c,#f17d2c,#f07a2d,#f0762d,#f0752d,#f0752d,#f0752d,#f0742e,#f0742e,#f0742e,#f17e2c,#f2882a,#f39627,#f4a523,#f6b61f,#f7ce1e,#f5e122,#e8e136,#d0db48,#add054,#8dc55b,#74be5c,#6ebd5d,#68bb5d,#62ba5e,#5db85e,#5ab85e,#58b75f,#55b75f,#53b767,#58ba7c,#60be9e,#58c1c8,#3fbfdc,#2fbee2,#20bce8,#25b2e2,#29acde,#2ca6da,#30a0d7,#339ad3,#3694cf,#3a8ecc,#3d88c8);--g52:linear-gradient(90deg,#5bbb8b,#59ba84,#58ba7e,#57b977,#55b870,#54b768,#52b661,#52b660,#53b660,#54b660,#55b75f,#56b75f,#57b75f,#57b75f,#58b75f,#59b75f,#5ab85e,#5bb85e,#5cb85e,#5fb95e,#65ba5d,#6abb5d,#6fbd5d,#74be5c,#7abf5c,#83c25b,#8cc55b,#95c75a,#a2cc57,#b2d153,#c3d74d,#d8dd44,#e6e13a,#eee22d,#f6e121,#f8d61d,#f7c21e,#f5b620,#f5ab21,#f4a124,#f39826,#f39228,#f28c2a,#f2872b,#f1822b,#f17d2c,#f0792d,#f0752d,#ef702e,#ef702e,#ef6f2e,#ef6f2e,#ef6f2e,#ef6f2e,#ef6f2e,#f0792d,#f1842b,#f39128,#f4a024,#f5b020,#f7c91e,#f6e120,#eae134,#d4dc46,#b1d153,#90c65b,#75be5c,#6fbd5d,#69bb5d,#63ba5d,#5eb85e,#5bb85e,#59b75f,#56b75f,#53b663,#57b978,#5ebd96,#5ec1c2,#45c0d9,#34bee0,#23bce7,#24b5e4,#27afe0,#2aaadd,#2da5da,#30a0d7,#339bd3,#3695d0,#3890cd);--g53:linear-gradient(90deg,#5abb87,#59ba81,#57b97b,#56b873,#54b76b,#53b664,#53b660,#54b660,#54b660,#55b75f,#56b75f,#57b75f,#57b75f,#58b75f,#59b75f,#5ab85e,#5ab85e,#5bb85e,#5cb85e,#5eb95e,#63ba5d,#69bb5d,#6ebc5d,#73be5c,#79bf5c,#82c25b,#8cc55b,#96c75a,#a3cc57,#b3d252,#c6d84c,#dade43,#e7e138,#f0e22b,#f7e01f,#f8d11d,#f6bc1f,#f5b120,#f4a722,#f49e25,#f39627,#f28f29,#f2892a,#f1842b,#f17f2c,#f07a2d,#f0752d,#ef702e,#ef6b2f,#ef6a2f,#ef6a2f,#ef6a2f,#ef6a2f,#ef6a2f,#ef6a2f,#f0752d,#f1802c,#f28b2a,#f39a26,#f5aa22,#f7c31e,#f8e01e,#ebe132,#d7dd45,#b5d252,#93c75a,#76bf5c,#70bd5d,#6abc5d,#64ba5d,#5fb95e,#5bb85e,#59b75f,#57b75f,#52b660,#56b974,#5cbc8e,#63c2bd,#4cc0d4,#39bede,#26bde6,#23b7e5,#25b3e2,#28aee0,#2aaadd,#2da5da,#2fa1d7,#329dd5,#3498d2);--g54:linear-gradient(90deg,#59bb85,#58ba7f,#57b978,#55b871,#54b769,#52b661,#53b660,#54b660,#55b75f,#55b75f,#56b75f,#57b75f,#58b75f,#58b75f,#59b75f,#5ab85e,#5ab85e,#5bb85e,#5cb85e,#5eb85e,#63ba5d,#68bb5d,#6ebc5d,#73be5c,#79bf5c,#83c25b,#8dc55b,#97c85a,#a4cc57,#b4d252,#c6d84c,#dbde43,#e7e138,#f0e22a,#f8e01e,#f8cf1d,#f6b91f,#f5ae20,#f4a523,#f39c25,#f39427,#f28d29,#f2872b,#f1822b,#f17c2c,#f0772d,#ef712e,#ef6b2f,#ee6730,#ee6630,#ee6630,#ee6630,#ee6630,#ee6630,#ee6630,#ef6f2e,#f0792d,#f1842b,#f39228,#f4a323,#f6bf1f,#f9e01d,#ece130,#d8dd44,#b6d352,#95c75a,#77bf5c,#70bd5d,#69bb5d,#63ba5e,#5db85e,#5ab85e,#59b75f,#57b75f,#52b660,#57b978,#5ebd96,#5dc1c3,#47c0d9,#33bee0,#20bce8,#27b0e1,#2aabdd,#2ca6da,#2fa1d7,#329cd4,#3597d1,#3892ce,#3a8dcb);--g55:linear-gradient(90deg,#59ba84,#58ba7d,#56b976,#55b86e,#53b767,#52b660,#54b660,#54b660,#55b75f,#56b75f,#56b75f,#57b75f,#58b75f,#58b75f,#59b75f,#5ab85e,#5ab85e,#5bb85e,#5cb85e,#5eb85e,#63ba5d,#68bb5d,#6ebc5d,#73be5c,#79bf5c,#83c25b,#8dc55b,#97c85a,#a5cd56,#b4d252,#c6d84c,#dade43,#e7e138,#f0e22a,#f8e01e,#f7ce1e,#f6b71f,#f5ad21,#f4a323,#f39a26,#f39228,#f28a2a,#f1852b,#f17f2c,#f0792d,#f0732e,#ef6d2f,#ee6730,#ee6330,#ee6330,#ee6330,#ee6330,#ee6330,#ee6330,#ee6330,#ee6a2f,#ef712e,#f17c2c,#f28a2a,#f39c25,#f6bb1f,#f9df1c,#ece130,#d9dd44,#b6d352,#96c75a,#79bf5c,#70bd5d,#68bb5d,#60b95e,#5bb85e,#59b75f,#58b75f,#56b75f,#52b660,#58ba7f,#62bfa4,#54c1cc,#3ebfdc,#2abde4,#25b3e3,#2ca6db,#309ed6,#3499d2,#3793cf,#3a8dcb,#3c87c7,#3a82c4,#377dc1);--g56:linear-gradient(90deg,#59ba82,#57b97b,#56b874,#54b76b,#53b764,#52b660,#54b660,#54b660,#55b75f,#56b75f,#56b75f,#57b75f,#58b75f,#58b75f,#59b75f,#5ab85e,#5ab85e,#5bb85e,#5cb85e,#5eb85e,#63ba5d,#68bb5d,#6ebc5d,#73be5c,#79bf5c,#83c25b,#8ec55b,#98c85a,#a6cd56,#b5d252,#c6d84c,#dade43,#e7e138,#f0e22b,#f8e01e,#f7cd1e,#f5b520,#f5ab21,#f4a224,#f39826,#f29028,#f2892a,#f1832b,#f17d2c,#f0762d,#ef702e,#ee692f,#ee6330,#ed6130,#ed6030,#ed6030,#ed6030,#ed6030,#ed6030,#ed6030,#ee6430,#ef6a2f,#f0752d,#f1832b,#f39627,#f6b61f,#f9dd1c,#ede22f,#d9dd44,#b6d352,#96c85a,#7ac05c,#70bd5d,#67bb5d,#5eb85e,#5ab85e,#59b75f,#57b75f,#55b75f,#52b662,#59bb85,#66c1b2,#4bc0d5,#35bee0,#21bce8,#2aabdd,#329cd4,#3792ce,#3b8cca,#3c85c6,#3980c2,#357abf,#3275bb,#306fb7);--g57:linear-gradient(90deg,#59ba81,#57b979,#55b871,#54b769,#52b662,#53b660,#54b660,#54b660,#55b75f,#56b75f,#56b75f,#57b75f,#58b75f,#58b75f,#59b75f,#5ab85e,#5ab85e,#5bb85e,#5cb85e,#5eb85e,#63ba5d,#68bb5d,#6ebc5d,#73be5c,#79bf5c,#83c25b,#8ec55b,#99c85a,#a7cd56,#b5d352,#c6d84c,#dade44,#e7e139,#f0e22b,#f8e01e,#f7cc1e,#f5b320,#f4a922,#f4a024,#f39727,#f28e29,#f2872a,#f1812b,#f07b2c,#f0742e,#ef6c2f,#ee6530,#ed6030,#ed5e30,#ed5d30,#ed5d30,#ed5d30,#ed5d30,#ed5d30,#ed5d30,#ed6030,#ee6330,#ef6d2f,#f17c2c,#f28f29,#f5b220,#f9db1c,#ede22f,#dade44,#b7d351,#97c85a,#7cc05c,#70bd5d,#66ba5d,#5cb85e,#59b75f,#58b75f,#56b75f,#55b75f,#53b663,#5cbc91,#62c2be,#42bfda,#2cbde3,#24b5e3,#2fa2d8,#3792ce,#3c87c7,#3980c3,#357abf,#3274ba,#2f6cb6,#2d64b1,#2b5bac);--g58:linear-gradient(90deg,#58ba80,#57b978,#55b86f,#53b766,#52b660,#53b660,#54b660,#55b75f,#55b75f,#56b75f,#56b75f,#57b75f,#58b75f,#58b75f,#59b75f,#5ab85e,#5ab85e,#5bb85e,#5cb85e,#5eb85e,#63ba5d,#68bb5d,#6ebc5d,#73be5c,#79bf5c,#84c25b,#8fc55b,#9ac959,#a8ce56,#b6d352,#c7d84c,#d9dd44,#e6e139,#efe22b,#f7e01e,#f7cb1e,#f5b120,#f4a722,#f49e25,#f39527,#f28c29,#f1852b,#f17f2c,#f0792d,#ef712e,#ee692f,#ed6130,#ed5c30,#ed5b30,#ec5b30,#ec5a30,#ec5a30,#ec5a30,#ec5a30,#ec5a30,#ed5b30,#ed5d30,#ee6530,#f0762d,#f2882a,#f5ae20,#f8d91d,#eee22e,#dade43,#b7d351,#98c85a,#7dc05c,#70bd5d,#64ba5d,#5bb85e,#58b75f,#57b75f,#55b75f,#54b660,#53b765,#61bfa0,#58c1c8,#3abfde,#23bce7,#29acde,#3399d3,#3d88c8,#377dc1,#3376bc,#306eb7,#2d65b1,#2b5bac,#2852a6,#294fa3);--g59:linear-gradient(90deg,#58ba7f,#56b976,#55b86d,#53b664,#53b660,#53b660,#54b660,#55b75f,#55b75f,#56b75f,#57b75f,#57b75f,#58b75f,#59b75f,#59b75f,#5ab85e,#5ab85e,#5bb85e,#5cb85e,#5eb85e,#63ba5d,#68bb5d,#6ebc5d,#73be5c,#79bf5c,#84c25b,#8fc65b,#9bc959,#a8ce55,#b6d352,#c7d84c,#d9dd44,#e6e13a,#efe22b,#f7e01e,#f7ca1e,#f5af20,#f4a623,#f39d25,#f39328,#f28a2a,#f1842b,#f17d2c,#f0762d,#ef6e2f,#ee6530,#ed5e30,#ec5930,#ec5830,#ec5830,#ec5830,#ec5730,#ec5730,#ec5730,#ec5730,#ec5730,#ec5730,#ed5f30,#ef6f2e,#f1832b,#f5aa22,#f8d71d,#eee22d,#dade43,#b7d351,#99c85a,#7ec15c,#70bd5d,#63ba5d,#5ab85e,#57b75f,#56b75f,#55b75f,#53b660,#53b766,#66c1b0,#4dc0d3,#32bee1,#23b7e5,#2ea4d9,#3891cd,#3980c2,#3273ba,#2e6ab4,#2c5fae,#2955a8,#284fa3,#294ea1,#2a4c9e);--g60:linear-gradient(90deg,#55b871,#54b76b,#53b764,#53b660,#54b660,#54b660,#55b75f,#55b75f,#56b75f,#57b75f,#57b75f,#58b75f,#58b75f,#59b75f,#5ab85e,#5ab85e,#5bb85e,#5cb85e,#60b95e,#65ba5d,#6cbc5d,#72be5c,#79bf5c,#7fc15c,#86c35b,#90c65a,#9dca59,#aace55,#b7d351,#c8d84b,#dade43,#e6e13a,#eee22d,#f5e122,#f8d91d,#f7c31e,#f5af20,#f4a423,#f39926,#f28e29,#f1852b,#f17d2c,#f0762d,#ef6e2f,#ee6530,#ed5e30,#ec5830,#eb5230,#eb5130,#eb4f30,#eb4e30,#eb4e30,#eb4e30,#eb4e30,#eb4e30,#eb5030,#eb5230,#ec5930,#ee6530,#f0782d,#f39328,#f6bc1f,#f7e01f,#e9e135,#ceda48,#add054,#92c65a,#81c15b,#70bd5d,#62ba5e,#5bb85e,#59b75f,#57b75f,#56b75f,#52b660,#5bbc8d,#50c1d0,#35bee0,#22b9e6,#2ba9dc,#3499d2,#3c89c9,#377dc1,#3375bb,#2f6cb5,#2c5ead,#2850a5,#294ea2,#2a4c9e);--g61:linear-gradient(90deg,#52b660,#53b660,#54b660,#54b660,#55b75f,#55b75f,#56b75f,#56b75f,#57b75f,#57b75f,#58b75f,#58b75f,#59b75f,#59b75f,#5ab85e,#5ab85e,#5bb85e,#5cb85e,#65ba5d,#6ebd5d,#77bf5c,#80c15c,#88c35b,#90c65a,#98c85a,#a2cc57,#afd053,#bed54f,#d0db48,#e2e040,#e9e134,#f1e229,#f7e01e,#f8d51d,#f7c81e,#f6bb1f,#f5ae20,#f4a224,#f39527,#f2882a,#f17f2c,#f0762d,#ef6c2f,#ee6430,#ed5c30,#ec5530,#eb5030,#ea4b30,#ea4430,#ea3b2f,#e9392f,#e9392f,#e9382f,#e9382f,#e9392f,#ea4430,#ea4d30,#eb5330,#ed5c30,#ee692f,#f07b2c,#f39a26,#f6c11f,#f6e120,#e8e137,#cbd94a,#aed054,#97c85a,#82c25b,#74be5c,#6bbc5d,#63ba5e,#5bb85e,#59b75f,#55b75f,#56b975,#58c1c8,#3cbfdd,#23bce7,#25b3e2,#2ca7db,#329bd4,#3990cd,#3c86c6,#377dc1,#3070b8,#2c5ead,#2850a4,#2a4da0);--g62:linear-gradient(90deg,#55b75f,#55b75f,#55b75f,#56b75f,#56b75f,#56b75f,#57b75f,#57b75f,#57b75f,#58b75f,#58b75f,#58b75f,#59b75f,#59b75f,#5ab85e,#5ab85e,#5cb85e,#62ba5e,#6dbc5d,#78bf5c,#82c25b,#8bc45b,#94c75a,#9dca59,#a7cd56,#b1d153,#bfd64f,#d2db47,#e3e03e,#ece131,#f2e227,#f8e01e,#f8d31d,#f7c61e,#f6ba1f,#f5ad21,#f4a124,#f39427,#f2872a,#f17d2c,#f0742e,#ef6a2f,#ee6230,#ec5a30,#eb5230,#ea4830,#e9392f,#e9292e,#e9292e,#e9282e,#e9282e,#e9282e,#e9282e,#e9282e,#e9282e,#e9292e,#e9292e,#ea3b2f,#eb4e30,#ec5a30,#ee6830,#f17f2c,#f49d25,#f7c81e,#f2e227,#e3e03f,#c2d74e,#a8ce56,#91c65a,#80c15c,#73be5c,#6abb5d,#60b95e,#5ab85e,#57b75f,#54b769,#65c0ad,#45c0d9,#2fbee2,#22bce7,#26b2e2,#2ba8dc,#319ed5,#3794cf,#3c8ac9,#387ec1,#3171b9,#2c60ae,#2850a4);--g63:linear-gradient(90deg,#56b75f,#57b75f,#57b75f,#57b75f,#57b75f,#57b75f,#57b75f,#58b75f,#58b75f,#58b75f,#58b75f,#58b75f,#58b75f,#59b75f,#59b75f,#59b75f,#5fb95e,#6abb5d,#76bf5c,#82c25b,#8cc55b,#95c75a,#9fca58,#a9ce55,#b3d252,#bed64f,#d1db47,#e3e03e,#ece130,#f4e124,#f9de1c,#f8d21d,#f7c51e,#f6b91f,#f5ac21,#f49e25,#f29028,#f1842b,#f07a2d,#ef702e,#ee6730,#ed5f30,#ec5830,#eb5130,#ea4430,#e92c2e,#e9292e,#e9282e,#e9282d,#e9272d,#e9272d,#e9272d,#e9272d,#e9272d,#e9272d,#e9272d,#e9282d,#e9292e,#e92e2e,#ea4b30,#ec5930,#ee692f,#f17f2c,#f4a922,#f9db1c,#ece131,#d6dc45,#b6d352,#9eca58,#89c45b,#79bf5c,#6ebd5d,#64ba5d,#5bb85e,#58b75f,#52b661,#5abb86,#4ec0d2,#3dbfdc,#2ebde2,#20bce8,#25b3e2,#2aa9dd,#30a0d7,#3597d1,#3a8dcb,#3981c3,#3274bb,#2d65b1);--g64:linear-gradient(90deg,#57b75f,#57b75f,#57b75f,#57b75f,#58b75f,#58b75f,#58b75f,#58b75f,#58b75f,#58b75f,#59b75f,#59b75f,#5bb85e,#5eb85e,#63ba5e,#67bb5d,#72bd5c,#7dc05c,#89c45b,#94c75a,#9eca58,#a8ce56,#b3d252,#bfd64f,#ceda49,#dcde42,#e7e138,#eee22c,#f5e123,#f9da1c,#f7cc1e,#f6c11f,#f5b620,#f5ab21,#f4a024,#f39427,#f2882a,#f17f2c,#f0762d,#ef6c2f,#ee6330,#ec5b30,#eb5330,#ea4230,#e9292e,#e9282e,#e9282d,#e9282d,#e9272d,#e9272d,#e9272d,#e9272d,#e9272d,#e9272d,#e9272d,#e9272d,#e9272d,#e9282d,#e9282e,#e9342f,#eb5230,#ee6330,#f0792d,#f49e25,#f7ca1e,#f4e124,#e6e13a,#c8d94b,#adcf54,#96c85a,#85c35b,#78bf5c,#6bbc5d,#60b95e,#59b75f,#53b660,#59ba81,#60c1c0,#49c0d7,#35bee0,#26bde6,#22b8e5,#28aedf,#2da4d9,#339ad3,#3990cd,#3a83c5,#3478bd,#2f6ab5);--g65:linear-gradient(90deg,#57b75f,#57b75f,#57b75f,#58b75f,#58b75f,#58b75f,#58b75f,#59b75f,#59b75f,#59b75f,#59b75f,#5ab85e,#63ba5e,#6ebc5d,#79bf5c,#82c25b,#8cc55b,#95c75a,#9fcb58,#aace55,#b4d252,#bed64f,#ceda48,#dfdf41,#e8e137,#efe22c,#f5e122,#f9df1c,#f8d31d,#f7c71e,#f6bc1f,#f5b120,#f4a822,#f49e25,#f39527,#f28b2a,#f1842b,#f17c2c,#f0752d,#ef6b2f,#ed6130,#ec5730,#eb4e30,#e9292e,#e9282d,#e9272d,#e9272d,#e9272d,#e9272d,#e9272d,#e9272d,#e9272d,#e9272d,#e9272d,#e9272d,#e9272d,#e9272d,#e9272d,#e9272d,#e9292e,#ea4d30,#ee6230,#f07b2c,#f39a26,#f6bc1f,#f8da1d,#efe22c,#ddde42,#bbd550,#a7cd56,#94c75a,#83c25b,#73be5c,#66ba5d,#5bb85e,#53b660,#58ba7e,#64c0a9,#56c1ca,#3bbfdd,#2bbde4,#20bbe8,#27b0e1,#2da5da,#339ad3,#3a8ecc,#3a82c4,#3477bd,#2f6ab5);--g66:linear-gradient(90deg,#58b75f,#58b75f,#58b75f,#59b75f,#59b75f,#59b75f,#5ab85e,#5bb85e,#5eb85e,#62ba5e,#66bb5d,#6cbc5d,#77bf5c,#83c25b,#8fc55b,#98c85a,#a2cc57,#adcf54,#b8d351,#c5d84c,#d3dc46,#e1e040,#e8e136,#eee22d,#f3e125,#f9e01d,#f8d21d,#f7c71e,#f6be1f,#f5b420,#f5ab21,#f4a224,#f39a26,#f39128,#f2892a,#f1832b,#f17c2c,#f0742e,#ef6b2f,#ed6130,#ec5830,#ea412f,#e9292e,#e9282e,#e9272d,#e9272d,#e9272d,#e9272d,#e9272d,#e9262d,#e9262d,#e9262d,#e9262d,#e9262d,#e9262d,#e9262d,#e9262d,#e9262d,#e9262d,#e9272d,#e9282e,#ea4d30,#ee6830,#f1832b,#f4a124,#f6bf1f,#f7e01f,#e9e135,#cfdb48,#b4d252,#a1cb57,#8fc65b,#80c15c,#71bd5d,#63ba5e,#58b75f,#53b663,#57b977,#5dbc92,#60c1c0,#44c0d9,#37bedf,#29bde4,#23b7e5,#2aabdd,#319ed6,#3792ce,#3c86c7,#377cc0);--g67:linear-gradient(90deg,#59b75f,#59b75f,#59b75f,#5ab85e,#5ab85e,#5bb85e,#5bb85e,#63ba5d,#6cbc5d,#75be5c,#7fc15c,#87c35b,#90c65a,#9ac959,#a5cd57,#afd054,#b9d451,#c6d84c,#d6dd45,#e4e03d,#ebe132,#f2e227,#f7e01f,#f9dc1c,#f8d21d,#f7c71e,#f6bd1f,#f5b320,#f5ab21,#f4a323,#f39b25,#f39427,#f28c2a,#f2862b,#f1802c,#f07a2d,#f0742e,#ee692f,#ed5f30,#ec5630,#ea4c30,#e9282e,#e9272d,#e9272d,#e9272d,#e9262d,#e9262d,#e9262d,#e8262c,#e8262c,#e8262c,#e8262c,#e8252c,#e8252c,#e8252c,#e8252c,#e8252c,#e8252c,#e8262c,#e8262c,#e9262d,#e9292e,#eb5330,#ef6d2f,#f1852b,#f4a423,#f7cc1e,#f2e227,#e3e03f,#c2d74e,#afd054,#9dca59,#8dc55b,#7ec15c,#71bd5d,#64ba5d,#5ab85e,#55b75f,#54b76c,#59bb85,#68c2b7,#57c1c9,#45c0d9,#35bee0,#25bce6,#24b5e4,#2aaadd,#309fd6,#3694cf);--g68:linear-gradient(90deg,#60b95e,#65ba5d,#6abb5d,#6fbd5d,#74be5c,#79bf5c,#7fc15c,#8ac45b,#94c75a,#a0cb58,#abcf55,#b6d352,#c1d64e,#cbd94a,#d5dc45,#e0df41,#e5e03b,#ebe133,#f0e22a,#f5e122,#f9de1c,#f8cf1d,#f7c31e,#f6bb1f,#f5b320,#f5ab21,#f4a323,#f39c25,#f39427,#f28d29,#f2872a,#f1812c,#f07a2d,#f0732e,#ef6d2f,#ee6630,#ed6030,#ea4d30,#e92a2e,#e9292e,#e9282e,#e9282d,#e9272d,#e9262d,#e9262d,#e9262d,#e8262c,#e8262c,#e8262c,#e8252c,#e8252c,#e8252c,#e8252c,#e8252c,#e8252c,#e8252c,#e8252c,#e8252c,#e8252c,#e8252c,#e8252c,#e9272d,#e9282d,#ea4830,#ef6c2f,#f2882a,#f5ab21,#f8d61d,#eee22e,#dbde43,#c2d74e,#add054,#9ac959,#89c45b,#79bf5c,#6ebc5d,#62ba5e,#5ab85e,#55b75f,#54b768,#57b979,#59ba81,#5fbe9a,#64c2bc,#4ac0d6,#3abfde,#2bbde3,#22b9e6,#29abde);--g69:linear-gradient(90deg,#72bd5c,#7cc05c,#87c35b,#92c65a,#9dca59,#a9ce55,#b5d252,#c1d74e,#d0db48,#dedf42,#e7e139,#ede22f,#f2e227,#f5e122,#f8e01e,#f9dc1c,#f8d41d,#f7cc1e,#f7c31e,#f6ba1f,#f5b220,#f5aa22,#f4a323,#f39c25,#f39627,#f28f29,#f2892a,#f1842b,#f1802c,#f07b2c,#f0762d,#ef6e2e,#ee6630,#ed6030,#ec5a30,#eb5330,#ea4c30,#e9282e,#e9272d,#e9272d,#e9272d,#e9272d,#e9262d,#e9262d,#e9262d,#e8262c,#e8262c,#e8252c,#e8252c,#e8252c,#e8252c,#e8242c,#e8242c,#e8242c,#e8242c,#e8242c,#e8242c,#e8252c,#e8252c,#e8252c,#e8252c,#e8252c,#e8262c,#e9282d,#ec5530,#ef712e,#f2892a,#f5b320,#f8e01d,#ece131,#dade43,#bed64f,#a7ce56,#92c65a,#80c15b,#75be5c,#6bbc5d,#60b95e,#59b75f,#58b75f,#56b75f,#54b660,#54b76a,#58ba7f,#62bfa2,#62c2be,#4cc0d4,#39bede,#25bde6);--g70:linear-gradient(90deg,#91c65a,#9fca58,#accf54,#bad450,#ccda49,#dbde43,#e5e03c,#e9e135,#eee22d,#f2e126,#f7e120,#f9db1c,#f8cf1d,#f7c81e,#f6c11f,#f6ba1f,#f5b320,#f5ac21,#f4a623,#f49f24,#f39926,#f39328,#f28d29,#f2882a,#f1832b,#f17e2c,#f0782d,#ef722e,#ef6c2f,#ee6730,#ee6230,#ec5730,#ea3f2f,#e9292e,#e9292e,#e9292e,#e9282e,#e9272d,#e9272d,#e9272d,#e9262d,#e9262d,#e9262d,#e9262d,#e8262c,#e8262c,#e8252c,#e8252c,#e8252c,#e8242c,#e8242c,#e8242b,#e8242b,#e8242b,#e8242b,#e8242b,#e8242c,#e8242c,#e8242c,#e8252c,#e8252c,#e8252c,#e8252c,#e9272d,#e9292e,#ed6130,#f07a2d,#f39926,#f7c71e,#f3e126,#e6e13a,#cdda49,#b2d253,#9cc959,#88c45b,#7ac05c,#6fbd5d,#64ba5d,#5bb85e,#5ab85e,#59b75f,#58b75f,#54b660,#53b766,#56b974,#59ba81,#5ebd97,#68c2b6,#52c1ce);--g71:linear-gradient(90deg,#b9d451,#cbd94a,#dedf42,#e8e136,#f0e229,#f5e122,#f8e01e,#f9dd1c,#f8d51d,#f7ce1e,#f7c61e,#f6bf1f,#f6b81f,#f5b120,#f5ab21,#f4a523,#f49f25,#f39926,#f39328,#f28c29,#f2872a,#f1832b,#f17f2c,#f07a2d,#f0762d,#ef6e2e,#ee6730,#ed6130,#ed5b30,#ec5630,#eb5030,#e9302e,#e9282d,#e9272d,#e9272d,#e9272d,#e9272d,#e9272d,#e9262d,#e9262d,#e9262d,#e9262d,#e9262d,#e8262c,#e8262c,#e8252c,#e8252c,#e8252c,#e8242c,#e8242b,#e8232b,#e8232b,#e8232b,#e8232b,#e8232b,#e8232b,#e8242b,#e8242b,#e8242c,#e8242c,#e8252c,#e8252c,#e8252c,#e8252c,#e9272d,#ec5530,#ef6e2e,#f1832b,#f5ae21,#f8e01d,#ece131,#dade43,#bdd550,#a6cd56,#91c65a,#7fc15c,#73be5c,#67bb5d,#5cb85e,#5bb85e,#5ab85e,#59b75f,#58b75f,#56b75f,#55b75f,#52b661,#55b86f,#58ba7c,#5bbb8b);--g72:linear-gradient(90deg,#dedf42,#e8e136,#eee22d,#f4e124,#f9e01c,#f8d71d,#f8d11d,#f7cb1e,#f7c51e,#f6c01f,#f6b91f,#f5b320,#f5ad21,#f4a722,#f4a124,#f39b26,#f39527,#f28f29,#f2892a,#f1852b,#f1802c,#f07c2c,#f0772d,#ef732e,#ef6e2f,#ee6730,#ed6030,#ec5930,#eb5230,#ea4830,#e9292e,#e9282e,#e9272d,#e9272d,#e9272d,#e9272d,#e9262d,#e9262d,#e9262d,#e9262d,#e9262d,#e9262d,#e8262c,#e8262c,#e8252c,#e8252c,#e8252c,#e8242c,#e8242b,#e8232b,#e6232b,#e1222a,#de2129,#de2129,#e1222a,#e5222a,#e8232b,#e8242b,#e8242b,#e8242c,#e8252c,#e8252c,#e8252c,#e8252c,#e9262d,#e9292e,#ed5f30,#f0762d,#f39527,#f7c81e,#f2e227,#e5e03c,#cad94a,#b0d153,#9ac95a,#86c35b,#78bf5c,#6bbc5d,#5fb95e,#5bb85e,#5bb85e,#5ab85e,#5ab85e,#59b75f,#59b75f,#57b75f,#55b75f,#52b660,#53b767);--g73:linear-gradient(90deg,#eee22d,#f5e122,#f8e01e,#f9dc1c,#f8d51d,#f8cf1d,#f7c91e,#f7c41e,#f6bf1f,#f6ba1f,#f5b320,#f5ad21,#f4a722,#f4a124,#f39b26,#f39427,#f28e29,#f2892a,#f1842b,#f1802c,#f07b2c,#f0762d,#ef722e,#ef6d2f,#ee682f,#ee6430,#ed5c30,#eb5430,#ea4b30,#e92f2e,#e9282d,#e9272d,#e9272d,#e9272d,#e9272d,#e9272d,#e9262d,#e9262d,#e9262d,#e9262d,#e9262d,#e9262d,#e8262c,#e8262c,#e8252c,#e8252c,#e8242c,#e8242b,#e8232b,#e5222a,#dd2129,#d72028,#d41f27,#d41f27,#d72028,#dd2129,#e4222a,#e8232b,#e8242b,#e8242c,#e8242c,#e8252c,#e8252c,#e8252c,#e8252c,#e9272d,#eb5130,#ef6b2f,#f1802c,#f5aa21,#f7e01f,#ebe133,#d7dd44,#bad450,#a4cc57,#8fc55b,#7dc15c,#70bd5d,#64ba5d,#5cb85e,#5cb85e,#5cb85e,#5cb85e,#5bb85e,#5bb85e,#5bb85e,#5ab85e,#5ab85e,#59b75f);--g74:linear-gradient(90deg,#f3e125,#f8e01d,#f9dc1c,#f8d71d,#f8d31d,#f8ce1d,#f7ca1e,#f7c31e,#f6bd1f,#f6b71f,#f5b020,#f4a922,#f4a323,#f49d25,#f39726,#f39128,#f28c2a,#f2872b,#f1822b,#f17e2c,#f0792d,#f0752d,#ef702e,#ef6a2f,#ee6530,#ed6030,#ec5830,#eb5030,#e9352f,#e9282e,#e9272d,#e9272d,#e9272d,#e9272d,#e9272d,#e9262d,#e9262d,#e9262d,#e9262d,#e9262d,#e9262d,#e8262c,#e8262c,#e8262c,#e8252c,#e8252c,#e8242c,#e8242b,#e8232b,#de2129,#d51f27,#ce1e26,#ca1e25,#ca1e25,#ce1e26,#d61f27,#de2129,#e7232b,#e8232b,#e8242b,#e8242c,#e8252c,#e8252c,#e8252c,#e8252c,#e9272d,#ea4530,#ee6430,#f0782d,#f39926,#f8d01d,#f1e228,#e3e03e,#c7d84b,#add054,#95c75a,#81c25b,#74be5c,#68bb5d,#60b95e,#5fb95e,#5fb95e,#5eb95e,#5eb85e,#5eb85e,#5db85e,#5db85e,#5db85e,#5cb85e);--g75:linear-gradient(90deg,#f5e122,#f9e01c,#f9db1c,#f8d81d,#f8d41d,#f8d01d,#f7cc1e,#f7c51e,#f6bd1f,#f5b520,#f5ad21,#f4a722,#f4a124,#f39b25,#f39527,#f29028,#f28a2a,#f2862b,#f1822b,#f17d2c,#f0792d,#f0752d,#ef6f2e,#ee682f,#ee6230,#ed5c30,#ec5530,#ea4c30,#e9292e,#e9282d,#e9272d,#e9272d,#e9272d,#e9272d,#e9272d,#e9262d,#e9262d,#e9262d,#e9262d,#e9262d,#e9262d,#e8262c,#e8262c,#e8252c,#e8252c,#e8252c,#e8242c,#e8232b,#e4222a,#d92028,#ce1e26,#c51d24,#c11c23,#c21c23,#c61d24,#cf1e26,#d92028,#e3222a,#e8232b,#e8242b,#e8242c,#e8252c,#e8252c,#e8252c,#e8252c,#e8262c,#e9352f,#ed6130,#f0732e,#f28b2a,#f6b81f,#f7e01f,#e9e135,#d5dc46,#b6d352,#9cc959,#85c35b,#77bf5c,#6cbc5d,#64ba5d,#62ba5e,#62b95e,#61b95e,#61b95e,#60b95e,#60b95e,#60b95e,#5fb95e,#5fb95e);--g76:linear-gradient(90deg,#f8e01e,#f9df1c,#f9db1c,#f8d81d,#f8d51d,#f8d21d,#f8cf1d,#f7c61e,#f6bd1f,#f5b420,#f5ab21,#f4a423,#f49f25,#f39926,#f39328,#f28e29,#f2892a,#f1852b,#f1812b,#f17d2c,#f0792d,#f0752d,#ef6f2e,#ee6630,#ed5f30,#ec5930,#eb5130,#ea4730,#e9282e,#e9272d,#e9272d,#e9272d,#e9272d,#e9272d,#e9262d,#e9262d,#e9262d,#e9262d,#e9262d,#e9262d,#e9262d,#e8262c,#e8262c,#e8252c,#e8252c,#e8252c,#e8242b,#e8232b,#e1222a,#d51f27,#c91d25,#c01c23,#bc1c22,#bc1c22,#c21c23,#cb1e25,#d61f27,#e1222a,#e8232b,#e8242b,#e8242c,#e8242c,#e8252c,#e8252c,#e8252c,#e8252c,#e9292e,#ed5d30,#ef6f2e,#f1802c,#f4a124,#f8d31d,#efe22b,#e2e040,#c1d64e,#a3cc57,#88c45b,#7ac05c,#71bd5d,#68bb5d,#66ba5d,#65ba5d,#64ba5d,#64ba5d,#63ba5d,#63ba5e,#62ba5e,#62b95e,#61b95e);--g77:linear-gradient(90deg,#f9e01c,#f9de1c,#f9db1c,#f8d91d,#f8d61d,#f8d41d,#f8d11d,#f7c71e,#f6bc1f,#f5b220,#f4a922,#f4a224,#f39c25,#f39727,#f39128,#f28b2a,#f2872b,#f1832b,#f17f2c,#f07a2d,#f0762d,#ef722e,#ef6b2f,#ee6330,#ed5c30,#ec5530,#ea4c30,#e9342f,#e9282d,#e9272d,#e9272d,#e9272d,#e9272d,#e9272d,#e9262d,#e9262d,#e9262d,#e9262d,#e9262d,#e9262d,#e9262d,#e8262c,#e8262c,#e8252c,#e8252c,#e8252c,#e8242b,#e8232b,#e02129,#d41f27,#c81d25,#bf1c23,#bb1b22,#bb1c22,#c01c23,#ca1e25,#d51f27,#e02129,#e8232b,#e8242b,#e8242c,#e8242c,#e8252c,#e8252c,#e8252c,#e8252c,#e9292e,#ec5a30,#ef6c2f,#f07a2d,#f39328,#f7c71e,#f2e126,#e6e13a,#c8d84b,#a7cd56,#8bc45b,#7dc05c,#73be5c,#6abc5d,#67bb5d,#67bb5d,#66bb5d,#66ba5d,#65ba5d,#64ba5d,#64ba5d,#63ba5d,#62ba5e);--g78:linear-gradient(90deg,#f9e01c,#f9de1c,#f9db1c,#f8d91d,#f8d61d,#f8d41d,#f8d11d,#f7c61e,#f6bb1f,#f5b120,#f4a822,#f4a124,#f39b26,#f39427,#f28e29,#f2882a,#f1842b,#f17f2c,#f07a2d,#f0752d,#ef702e,#ef6b2f,#ee6430,#ed5e30,#ec5730,#eb5130,#e9392f,#e9292e,#e9272d,#e9272d,#e9272d,#e9272d,#e9272d,#e9272d,#e9262d,#e9262d,#e9262d,#e9262d,#e9262d,#e9262d,#e9262d,#e8262c,#e8262c,#e8252c,#e8252c,#e8252c,#e8242b,#e8232b,#e1222a,#d61f27,#ca1e25,#c11c23,#bd1c23,#be1c23,#c31d24,#cc1e25,#d72028,#e1222a,#e8232b,#e8242b,#e8242c,#e8242c,#e8252c,#e8252c,#e8252c,#e8252c,#e9282e,#ec5930,#ef6b2f,#f07a2d,#f39128,#f7c51e,#f3e126,#e6e13a,#c9d94b,#a8ce56,#8cc45b,#7dc05c,#73be5c,#6abc5d,#67bb5d,#67bb5d,#66bb5d,#66ba5d,#65ba5d,#64ba5d,#64ba5d,#63ba5d,#62ba5e);--g79:linear-gradient(90deg,#f9e01c,#f9de1c,#f9db1c,#f8d91d,#f8d61d,#f8d41d,#f8d11d,#f7c51e,#f6ba1f,#f5af20,#f4a722,#f4a024,#f39926,#f39228,#f28b2a,#f2852b,#f1802c,#f07b2c,#f0762d,#ef702e,#ef6a2f,#ee6430,#ed5f30,#ec5930,#eb5330,#ea4d30,#e9292e,#e9282d,#e9272d,#e9272d,#e9272d,#e9272d,#e9272d,#e9262d,#e9262d,#e9262d,#e9262d,#e9262d,#e9262d,#e9262d,#e9262d,#e8262c,#e8262c,#e8252c,#e8252c,#e8252c,#e8242c,#e8232b,#e5222a,#da2028,#cf1e26,#c71d25,#c31d24,#c41d24,#c81d25,#d11f26,#da2028,#e4222a,#e8232b,#e8242b,#e8242c,#e8252c,#e8252c,#e8252c,#e8252c,#e8252c,#e9282e,#ec5830,#ef6b2f,#f0792d,#f28f29,#f7c31e,#f3e125,#e6e139,#cad94a,#a9ce55,#8cc55b,#7dc05c,#73be5c,#6abc5d,#67bb5d,#67bb5d,#66bb5d,#66ba5d,#65ba5d,#64ba5d,#64ba5d,#63ba5d,#62ba5e);--g80:linear-gradient(90deg,#f9e01c,#f9de1c,#f9db1c,#f8d91d,#f8d61d,#f8d41d,#f8d11d,#f7c51e,#f6b91f,#f5ae20,#f4a722,#f49f24,#f39726,#f29028,#f2892a,#f1832b,#f17e2c,#f0782d,#ef722e,#ef6c2f,#ee6530,#ed5f30,#ec5a30,#ec5430,#eb4f30,#ea4930,#e9292e,#e9272d,#e9272d,#e9272d,#e9272d,#e9272d,#e9272d,#e9262d,#e9262d,#e9262d,#e9262d,#e9262d,#e9262d,#e9262d,#e9262d,#e8262c,#e8262c,#e8262c,#e8252c,#e8252c,#e8242c,#e8242b,#e8232b,#de2129,#d61f27,#ce1e26,#ca1e25,#cb1e25,#cf1e26,#d61f27,#df2129,#e8232b,#e8232b,#e8242b,#e8242c,#e8252c,#e8252c,#e8252c,#e8252c,#e8252c,#e9282e,#ec5730,#ef6b2f,#f0792d,#f28d29,#f6c21f,#f4e124,#e6e139,#cad94a,#a9ce55,#8dc55b,#7dc05c,#74be5c,#6abc5d,#67bb5d,#67bb5d,#66bb5d,#66ba5d,#65ba5d,#64ba5d,#64ba5d,#63ba5d,#62ba5e)">
<div style="top:0px;height:6px;background:var(--g0)"><i style="background:var(--g1)"></i></div>
<div style="top:6px;height:6px;background:var(--g1)"><i style="background:var(--g2)"></i></div>
<div style="top:12px;height:6px;background:var(--g2)"><i style="background:var(--g3)"></i></div>
<div style="top:18px;height:6px;background:var(--g3)"><i style="background:var(--g4)"></i></div>
<div style="top:24px;height:6px;background:var(--g4)"><i style="background:var(--g5)"></i></div>
<div style="top:30px;height:6px;background:var(--g5)"><i style="background:var(--g6)"></i></div>
<div style="top:36px;height:6px;background:var(--g6)"><i style="background:var(--g7)"></i></div>
<div style="top:42px;height:6px;background:var(--g7)"><i style="background:var(--g8)"></i></div>
<div style="top:48px;height:6px;background:var(--g8)"><i style="background:var(--g9)"></i></div>
<div style="top:54px;height:6px;background:var(--g9)"><i style="background:var(--g10)"></i></div>
<div style="top:60px;height:6px;background:var(--g10)"><i style="background:var(--g11)"></i></div>
<div style="top:66px;height:6px;background:var(--g11)"><i style="background:var(--g12)"></i></div>
<div style="top:72px;height:6px;background:var(--g12)"><i style="background:var(--g13)"></i></div>
<div style="top:78px;height:6px;background:var(--g13)"><i style="background:var(--g14)"></i></div>
<div style="top:84px;height:6px;background:var(--g14)"><i style="background:var(--g15)"></i></div>
<div style="top:90px;height:6px;background:var(--g15)"><i style="background:var(--g16)"></i></div>
<div style="top:96px;height:6px;background:var(--g16)"><i style="background:var(--g17)"></i></div>
<div style="top:102px;height:6px;background:var(--g17)"><i style="background:var(--g18)"></i></div>
<div style="top:108px;height:6px;background:var(--g18)"><i style="background:var(--g19)"></i></div>
<div style="top:114px;height:6px;background:var(--g19)"><i style="background:var(--g20)"></i></div>
<div style="top:120px;height:6px;background:var(--g20)"><i style="background:var(--g21)"></i></div>
<div style="top:126px;height:6px;background:var(--g21)"><i style="background:var(--g22)"></i></div>
<div style="top:132px;height:6px;background:var(--g22)"><i style="background:var(--g23)"></i></div>
<div style="top:138px;height:6px;background:var(--g23)"><i style="background:var(--g24)"></i></div>
<div style="top:144px;height:6px;background:var(--g24)"><i style="background:var(--g25)"></i></div>
<div style="top:150px;height:6px;background:var(--g25)"><i style="background:var(--g26)"></i></div>
<div style="top:156px;height:6px;background:var(--g26)"><i style="background:var(--g27)"></i></div>
<div style="top:162px;height:6px;background:var(--g27)"><i style="background:var(--g28)"></i></div>
<div style="top:168px;height:6px;background:var(--g28)"><i style="background:var(--g29)"></i></div>
<div style="top:174px;height:6px;background:var(--g29)"><i style="background:var(--g30)"></i></div>
<div style="top:180px;height:6px;background:var(--g30)"><i style="background:var(--g31)"></i></div>
<div style="top:186px;height:6px;background:var(--g31)"><i style="background:var(--g32)"></i></div>
<div style="top:192px;height:6px;background:var(--g32)"><i style="background:var(--g33)"></i></div>
<div style="top:198px;height:6px;background:var(--g33)"><i style="background:var(--g34)"></i></div>
<div style="top:204px;height:6px;background:var(--g34)"><i style="background:var(--g35)"></i></div>
<div style="top:210px;height:6px;background:var(--g35)"><i style="background:var(--g36)"></i></div>
<div style="top:216px;height:6px;background:var(--g36)"><i style="background:var(--g37)"></i></div>
<div style="top:222px;height:6px;background:var(--g37)"><i style="background:var(--g38)"></i></div>
<div style="top:228px;height:6px;background:var(--g38)"><i style="background:var(--g39)"></i></div>
<div style="top:234px;height:6px;background:var(--g39)"><i style="background:var(--g40)"></i></div>
<div style="top:240px;height:6px;background:var(--g40)"><i style="background:var(--g41)"></i></div>
<div style="top:246px;height:6px;background:var(--g41)"><i style="background:var(--g42)"></i></div>
<div style="top:252px;height:6px;background:var(--g42)"><i style="background:var(--g43)"></i></div>
<div style="top:258px;height:6px;background:var(--g43)"><i style="background:var(--g44)"></i></div>
<div style="top:264px;height:6px;background:var(--g44)"><i style="background:var(--g45)"></i></div>
<div style="top:270px;height:6px;background:var(--g45)"><i style="background:var(--g46)"></i></div>
<div style="top:276px;height:6px;background:var(--g46)"><i style="background:var(--g47)"></i></div>
<div style="top:282px;height:6px;background:var(--g47)"><i style="background:var(--g48)"></i></div>
<div style="top:288px;height:6px;background:var(--g48)"><i style="background:var(--g49)"></i></div>
<div style="top:294px;height:6px;background:var(--g49)"><i style="background:var(--g50)"></i></div>
<div style="top:300px;height:6px;background:var(--g50)"><i style="background:var(--g51)"></i></div>
<div style="top:306px;height:6px;background:var(--g51)"><i style="background:var(--g52)"></i></div>
<div style="top:312px;height:6px;background:var(--g52)"><i style="background:var(--g53)"></i></div>
<div style="top:318px;height:6px;background:var(--g53)"><i style="background:var(--g54)"></i></div>
<div style="top:324px;height:6px;background:var(--g54)"><i style="background:var(--g55)"></i></div>
<div style="top:330px;height:6px;background:var(--g55)"><i style="background:var(--g56)"></i></div>
<div style="top:336px;height:6px;background:var(--g56)"><i style="background:var(--g57)"></i></div>
<div style="top:342px;height:6px;background:var(--g57)"><i style="background:var(--g58)"></i></div>
<div style="top:348px;height:6px;background:var(--g58)"><i style="background:var(--g59)"></i></div>
<div style="top:354px;height:6px;background:var(--g59)"><i style="background:var(--g60)"></i></div>
<div style="top:360px;height:6px;background:var(--g60)"><i style="background:var(--g61)"></i></div>
<div style="top:366px;height:6px;background:var(--g61)"><i style="background:var(--g62)"></i></div>
<div style="top:372px;height:6px;background:var(--g62)"><i style="background:var(--g63)"></i></div>
<div style="top:378px;height:6px;background:var(--g63)"><i style="background:var(--g64)"></i></div>
<div style="top:384px;height:6px;background:var(--g64)"><i style="background:var(--g65)"></i></div>
<div style="top:390px;height:6px;background:var(--g65)"><i style="background:var(--g66)"></i></div>
<div style="top:396px;height:6px;background:var(--g66)"><i style="background:var(--g67)"></i></div>
<div style="top:402px;height:6px;background:var(--g67)"><i style="background:var(--g68)"></i></div>
<div style="top:408px;height:6px;background:var(--g68)"><i style="background:var(--g69)"></i></div>
<div style="top:414px;height:6px;background:var(--g69)"><i style="background:var(--g70)"></i></div>
<div style="top:420px;height:6px;background:var(--g70)"><i style="background:var(--g71)"></i></div>
<div style="top:426px;height:6px;background:var(--g71)"><i style="background:var(--g72)"></i></div>
<div style="top:432px;height:6px;background:var(--g72)"><i style="background:var(--g73)"></i></div>
<div style="top:438px;height:6px;background:var(--g73)"><i style="background:var(--g74)"></i></div>
<div style="top:444px;height:6px;background:var(--g74)"><i style="background:var(--g75)"></i></div>
<div style="top:450px;height:6px;background:var(--g75)"><i style="background:var(--g76)"></i></div>
<div style="top:456px;height:6px;background:var(--g76)"><i style="background:var(--g77)"></i></div>
<div style="top:462px;height:6px;background:var(--g77)"><i style="background:var(--g78)"></i></div>
<div style="top:468px;height:6px;background:var(--g78)"><i style="background:var(--g79)"></i></div>
<div style="top:474px;height:6px;background:var(--g79)"><i style="background:var(--g80)"></i></div>
<div style="top:358.8px;height:2px;background:linear-gradient(90deg,#58ba7f,#57b977,#55b86e,#53b765,#52b660,#53b660,#54b660,#55b75f,#55b75f,#56b75f,#57b75f,#57b75f,#58b75f,#58b75f,#59b75f,#5ab85e,#5ab85e,#5bb85e,#5cb85e,#5eb85e,#63ba5d,#68bb5d,#6ebc5d,#73be5c,#79bf5c,#84c25b,#8fc55b,#9bc959,#a8ce56,#b6d352,#c7d84c,#d9dd44,#e6e139,#efe22b,#f7e01e,#f7ca1e,#f5b020,#f4a722,#f49e25,#f39427,#f28b2a,#f1852b,#f17e2c,#f0782d,#ef6f2e,#ee6730,#ed6030,#ec5b30,#ec5a30,#ec5a30,#ec5930,#ec5930,#ec5930,#ec5930,#ec5830,#ec5930,#ec5a30,#ee6330,#f0732e,#f2862b,#f5ad21,#f8d81d,#eee22e,#dade43,#b7d351,#99c85a,#7ec15c,#70bd5d,#64ba5d,#5ab85e,#57b75f,#56b75f,#55b75f,#54b660,#53b765,#63bfa6,#54c1cc,#37bedf,#20bce8,#2ba9dc,#3596d0,#3b85c6,#3579be,#3172b9,#2e68b3,#2c5ead,#2954a8,#284fa4,#294ea1)"></div>
</div><div style="position:absolute;left:796.4px;top:51.5px;width:529.6px;height:480px;background:linear-gradient(90deg,rgba(255,255,255,0.018) 0.0px 3.0px,rgba(0,0,30,0.037) 3.0px 5.0px,rgba(255,255,255,0.052) 5.0px 6.0px,rgba(255,255,255,0.000) 6.0px 8.0px,rgba(0,0,30,0.003) 8.0px 10.0px,rgba(255,255,255,0.007) 10.0px 12.0px,rgba(0,0,30,0.005) 12.0px 13.5px,rgba(0,0,30,0.036) 13.5px 16.5px,rgba(0,0,30,0.009) 16.5px 19.5px,rgba(0,0,30,0.020) 19.5px 22.5px,rgba(0,0,30,0.024) 22.5px 24.5px,rgba(0,0,30,0.040) 24.5px 25.5px,rgba(0,0,30,0.008) 25.5px 27.5px,rgba(255,255,255,0.013) 27.5px 29.5px,rgba(0,0,30,0.014) 29.5px 31.5px,rgba(255,255,255,0.005) 31.5px 33.0px,rgba(255,255,255,0.008) 33.0px 35.0px,rgba(255,255,255,0.006) 35.0px 36.5px,rgba(0,0,30,0.062) 36.5px 38.5px,rgba(255,255,255,0.005) 38.5px 40.0px,rgba(0,0,30,0.077) 40.0px 43.0px,rgba(0,0,30,0.039) 43.0px 46.0px,rgba(0,0,30,0.016) 46.0px 47.0px,rgba(0,0,30,0.018) 47.0px 49.0px,rgba(0,0,30,0.010) 49.0px 51.0px,rgba(255,255,255,0.012) 51.0px 54.0px,rgba(255,255,255,0.014) 54.0px 57.0px,rgba(255,255,255,0.041) 57.0px 59.0px,rgba(0,0,30,0.006) 59.0px 61.0px,rgba(0,0,30,0.030) 61.0px 62.5px,rgba(0,0,30,0.048) 62.5px 64.0px,rgba(0,0,30,0.033) 64.0px 67.0px,rgba(255,255,255,0.007) 67.0px 68.0px,rgba(255,255,255,0.017) 68.0px 70.0px,rgba(255,255,255,0.035) 70.0px 73.0px,rgba(0,0,30,0.023) 73.0px 75.0px,rgba(0,0,30,0.020) 75.0px 77.0px,rgba(255,255,255,0.019) 77.0px 78.5px,rgba(255,255,255,0.027) 78.5px 80.5px,rgba(255,255,255,0.009) 80.5px 82.5px,rgba(255,255,255,0.020) 82.5px 83.5px,rgba(0,0,30,0.002) 83.5px 84.5px,rgba(0,0,30,0.026) 84.5px 87.5px,rgba(0,0,30,0.045) 87.5px 89.5px,rgba(255,255,255,0.008) 89.5px 91.5px,rgba(0,0,30,0.027) 91.5px 93.5px,rgba(0,0,30,0.006) 93.5px 95.5px,rgba(0,0,30,0.022) 95.5px 96.5px,rgba(0,0,30,0.000) 96.5px 98.0px,rgba(0,0,30,0.017) 98.0px 100.0px,rgba(255,255,255,0.025) 100.0px 101.5px,rgba(255,255,255,0.003) 101.5px 103.5px,rgba(255,255,255,0.004) 103.5px 106.5px,rgba(0,0,30,0.011) 106.5px 109.5px,rgba(0,0,30,0.010) 109.5px 111.5px,rgba(255,255,255,0.019) 111.5px 113.5px,rgba(0,0,30,0.011) 113.5px 115.5px,rgba(0,0,30,0.009) 115.5px 117.5px,rgba(0,0,30,0.029) 117.5px 119.5px,rgba(255,255,255,0.001) 119.5px 121.5px,rgba(0,0,30,0.013) 121.5px 123.5px,rgba(0,0,30,0.015) 123.5px 125.5px,rgba(255,255,255,0.040) 125.5px 127.0px,rgba(0,0,30,0.007) 127.0px 129.0px,rgba(0,0,30,0.003) 129.0px 132.0px,rgba(255,255,255,0.026) 132.0px 134.0px,rgba(255,255,255,0.014) 134.0px 135.5px,rgba(0,0,30,0.006) 135.5px 136.5px,rgba(0,0,30,0.006) 136.5px 139.5px,rgba(255,255,255,0.002) 139.5px 140.5px,rgba(255,255,255,0.001) 140.5px 143.5px,rgba(0,0,30,0.009) 143.5px 145.5px,rgba(255,255,255,0.021) 145.5px 147.5px,rgba(0,0,30,0.002) 147.5px 150.5px,rgba(255,255,255,0.009) 150.5px 151.5px,rgba(0,0,30,0.005) 151.5px 153.5px,rgba(255,255,255,0.032) 153.5px 156.5px,rgba(255,255,255,0.003) 156.5px 159.5px,rgba(255,255,255,0.012) 159.5px 161.5px,rgba(255,255,255,0.006) 161.5px 163.5px,rgba(255,255,255,0.026) 163.5px 165.5px,rgba(0,0,30,0.006) 165.5px 167.0px,rgba(0,0,30,0.002) 167.0px 170.0px,rgba(255,255,255,0.005) 170.0px 171.0px,rgba(255,255,255,0.020) 171.0px 172.0px,rgba(255,255,255,0.006) 172.0px 173.0px,rgba(0,0,30,0.003) 173.0px 174.0px,rgba(0,0,30,0.009) 174.0px 175.0px,rgba(0,0,30,0.029) 175.0px 176.5px,rgba(0,0,30,0.027) 176.5px 178.5px,rgba(0,0,30,0.011) 178.5px 180.5px,rgba(0,0,30,0.030) 180.5px 182.0px,rgba(255,255,255,0.016) 182.0px 183.5px,rgba(0,0,30,0.011) 183.5px 185.5px,rgba(0,0,30,0.019) 185.5px 187.5px,rgba(0,0,30,0.007) 187.5px 190.5px,rgba(255,255,255,0.007) 190.5px 191.5px,rgba(0,0,30,0.013) 191.5px 193.5px,rgba(0,0,30,0.003) 193.5px 195.5px,rgba(255,255,255,0.004) 195.5px 198.5px,rgba(0,0,30,0.009) 198.5px 200.5px,rgba(255,255,255,0.046) 200.5px 202.5px,rgba(255,255,255,0.004) 202.5px 204.5px,rgba(0,0,30,0.002) 204.5px 205.5px,rgba(255,255,255,0.010) 205.5px 207.0px,rgba(0,0,30,0.023) 207.0px 210.0px,rgba(0,0,30,0.001) 210.0px 211.0px,rgba(0,0,30,0.016) 211.0px 212.0px,rgba(255,255,255,0.028) 212.0px 213.0px,rgba(0,0,30,0.009) 213.0px 214.5px,rgba(0,0,30,0.004) 214.5px 216.5px,rgba(255,255,255,0.006) 216.5px 217.5px,rgba(0,0,30,0.019) 217.5px 219.5px,rgba(0,0,30,0.006) 219.5px 221.5px,rgba(255,255,255,0.012) 221.5px 222.5px,rgba(255,255,255,0.012) 222.5px 223.5px,rgba(0,0,30,0.010) 223.5px 225.0px,rgba(0,0,30,0.002) 225.0px 227.0px,rgba(0,0,30,0.035) 227.0px 228.5px,rgba(0,0,30,0.002) 228.5px 230.0px,rgba(0,0,30,0.010) 230.0px 231.5px,rgba(0,0,30,0.027) 231.5px 233.0px,rgba(0,0,30,0.011) 233.0px 235.0px,rgba(0,0,30,0.028) 235.0px 236.5px,rgba(0,0,30,0.028) 236.5px 239.5px,rgba(0,0,30,0.014) 239.5px 242.5px,rgba(255,255,255,0.006) 242.5px 244.5px,rgba(255,255,255,0.015) 244.5px 246.5px,rgba(0,0,30,0.017) 246.5px 249.5px,rgba(255,255,255,0.007) 249.5px 252.5px,rgba(255,255,255,0.006) 252.5px 255.5px,rgba(0,0,30,0.008) 255.5px 257.0px,rgba(255,255,255,0.006) 257.0px 260.0px,rgba(0,0,30,0.016) 260.0px 261.5px,rgba(255,255,255,0.013) 261.5px 263.0px,rgba(255,255,255,0.022) 263.0px 265.0px,rgba(255,255,255,0.005) 265.0px 266.0px,rgba(255,255,255,0.002) 266.0px 267.0px,rgba(0,0,30,0.013) 267.0px 268.0px,rgba(0,0,30,0.018) 268.0px 270.0px,rgba(255,255,255,0.022) 270.0px 273.0px,rgba(255,255,255,0.005) 273.0px 275.0px,rgba(255,255,255,0.002) 275.0px 276.5px,rgba(0,0,30,0.027) 276.5px 278.5px,rgba(0,0,30,0.028) 278.5px 279.5px,rgba(255,255,255,0.005) 279.5px 280.5px,rgba(255,255,255,0.015) 280.5px 282.0px,rgba(0,0,30,0.012) 282.0px 283.0px,rgba(255,255,255,0.038) 283.0px 284.5px,rgba(255,255,255,0.012) 284.5px 286.5px,rgba(0,0,30,0.000) 286.5px 288.5px,rgba(255,255,255,0.013) 288.5px 291.5px,rgba(0,0,30,0.001) 291.5px 293.0px,rgba(255,255,255,0.003) 293.0px 296.0px,rgba(255,255,255,0.001) 296.0px 298.0px,rgba(0,0,30,0.008) 298.0px 301.0px,rgba(0,0,30,0.018) 301.0px 302.0px,rgba(255,255,255,0.021) 302.0px 303.5px,rgba(0,0,30,0.018) 303.5px 304.5px,rgba(255,255,255,0.021) 304.5px 306.5px,rgba(0,0,30,0.019) 306.5px 308.5px,rgba(0,0,30,0.044) 308.5px 310.5px,rgba(255,255,255,0.016) 310.5px 312.0px,rgba(255,255,255,0.003) 312.0px 314.0px,rgba(0,0,30,0.014) 314.0px 315.0px,rgba(255,255,255,0.003) 315.0px 318.0px,rgba(0,0,30,0.001) 318.0px 321.0px,rgba(255,255,255,0.009) 321.0px 323.0px,rgba(255,255,255,0.021) 323.0px 326.0px,rgba(255,255,255,0.045) 326.0px 328.0px,rgba(0,0,30,0.020) 328.0px 331.0px,rgba(255,255,255,0.009) 331.0px 333.0px,rgba(0,0,30,0.000) 333.0px 335.0px,rgba(255,255,255,0.015) 335.0px 336.0px,rgba(255,255,255,0.000) 336.0px 337.5px,rgba(0,0,30,0.008) 337.5px 339.0px,rgba(255,255,255,0.032) 339.0px 342.0px,rgba(255,255,255,0.026) 342.0px 343.0px,rgba(255,255,255,0.006) 343.0px 346.0px,rgba(255,255,255,0.009) 346.0px 348.0px,rgba(0,0,30,0.036) 348.0px 350.0px,rgba(255,255,255,0.003) 350.0px 353.0px,rgba(255,255,255,0.006) 353.0px 355.0px,rgba(255,255,255,0.025) 355.0px 357.0px,rgba(255,255,255,0.003) 357.0px 358.5px,rgba(0,0,30,0.020) 358.5px 359.5px,rgba(0,0,30,0.014) 359.5px 361.5px,rgba(255,255,255,0.008) 361.5px 363.5px,rgba(0,0,30,0.023) 363.5px 365.5px,rgba(0,0,30,0.014) 365.5px 367.0px,rgba(255,255,255,0.002) 367.0px 368.0px,rgba(0,0,30,0.011) 368.0px 370.0px,rgba(0,0,30,0.010) 370.0px 373.0px,rgba(0,0,30,0.009) 373.0px 374.0px,rgba(0,0,30,0.007) 374.0px 375.5px,rgba(255,255,255,0.006) 375.5px 377.0px,rgba(255,255,255,0.005) 377.0px 380.0px,rgba(0,0,30,0.003) 380.0px 383.0px,rgba(255,255,255,0.033) 383.0px 385.0px,rgba(0,0,30,0.018) 385.0px 387.0px,rgba(0,0,30,0.011) 387.0px 390.0px,rgba(255,255,255,0.009) 390.0px 391.0px,rgba(255,255,255,0.006) 391.0px 393.0px,rgba(255,255,255,0.006) 393.0px 396.0px,rgba(0,0,30,0.002) 396.0px 399.0px,rgba(0,0,30,0.010) 399.0px 402.0px,rgba(255,255,255,0.021) 402.0px 405.0px,rgba(255,255,255,0.018) 405.0px 406.0px,rgba(255,255,255,0.026) 406.0px 407.0px,rgba(0,0,30,0.003) 407.0px 408.0px,rgba(0,0,30,0.006) 408.0px 409.5px,rgba(255,255,255,0.009) 409.5px 411.0px,rgba(255,255,255,0.013) 411.0px 412.5px,rgba(0,0,30,0.003) 412.5px 414.0px,rgba(0,0,30,0.001) 414.0px 416.0px,rgba(0,0,30,0.022) 416.0px 417.0px,rgba(255,255,255,0.040) 417.0px 420.0px,rgba(255,255,255,0.053) 420.0px 421.5px,rgba(0,0,30,0.011) 421.5px 424.5px,rgba(255,255,255,0.013) 424.5px 426.5px,rgba(255,255,255,0.024) 426.5px 428.5px,rgba(0,0,30,0.016) 428.5px 429.5px,rgba(255,255,255,0.007) 429.5px 430.5px,rgba(0,0,30,0.007) 430.5px 432.5px,rgba(255,255,255,0.033) 432.5px 434.5px,rgba(255,255,255,0.014) 434.5px 435.5px,rgba(255,255,255,0.041) 435.5px 437.5px,rgba(0,0,30,0.019) 437.5px 439.5px,rgba(255,255,255,0.015) 439.5px 441.0px,rgba(0,0,30,0.028) 441.0px 443.0px,rgba(255,255,255,0.034) 443.0px 445.0px,rgba(0,0,30,0.141) 445.0px 446.5px,rgba(255,255,255,0.058) 446.5px 447.5px,rgba(0,0,30,0.005) 447.5px 449.0px,rgba(0,0,30,0.023) 449.0px 452.0px,rgba(255,255,255,0.003) 452.0px 453.0px,rgba(0,0,30,0.030) 453.0px 455.0px,rgba(0,0,30,0.102) 455.0px 456.5px,rgba(0,0,30,0.053) 456.5px 458.5px,rgba(255,255,255,0.094) 458.5px 460.5px,rgba(0,0,30,0.120) 460.5px 462.5px,rgba(0,0,30,0.035) 462.5px 464.5px,rgba(255,255,255,0.095) 464.5px 467.5px,rgba(0,0,30,0.011) 467.5px 468.5px,rgba(0,0,30,0.002) 468.5px 471.5px,rgba(0,0,30,0.088) 471.5px 474.5px,rgba(0,0,30,0.109) 474.5px 475.5px,rgba(0,0,30,0.019) 475.5px 478.5px,rgba(0,0,30,0.003) 478.5px 481.5px,rgba(255,255,255,0.116) 481.5px 483.5px,rgba(255,255,255,0.049) 483.5px 484.5px,rgba(0,0,30,0.060) 484.5px 486.0px,rgba(0,0,30,0.008) 486.0px 487.5px,rgba(255,255,255,0.047) 487.5px 489.5px,rgba(255,255,255,0.020) 489.5px 491.5px,rgba(255,255,255,0.095) 491.5px 494.5px,rgba(255,255,255,0.103) 494.5px 495.5px,rgba(255,255,255,0.066) 495.5px 497.5px,rgba(255,255,255,0.015) 497.5px 500.5px,rgba(255,255,255,0.035) 500.5px 502.0px,rgba(0,0,30,0.056) 502.0px 504.0px,rgba(255,255,255,0.050) 504.0px 506.0px,rgba(0,0,30,0.014) 506.0px 507.0px,rgba(0,0,30,0.021) 507.0px 509.0px,rgba(0,0,30,0.072) 509.0px 510.0px,rgba(0,0,30,0.042) 510.0px 513.0px,rgba(0,0,30,0.010) 513.0px 515.0px,rgba(255,255,255,0.085) 515.0px 516.0px,rgba(0,0,30,0.037) 516.0px 518.0px,rgba(0,0,30,0.061) 518.0px 521.0px,rgba(0,0,30,0.085) 521.0px 523.0px,rgba(0,0,30,0.011) 523.0px 525.0px,rgba(255,255,255,0.023) 525.0px 527.0px,rgba(0,0,30,0.097) 527.0px 528.0px,rgba(0,0,30,0.074) 528.0px 529.6px);-webkit-mask-image:linear-gradient(180deg,#000 0,#000 55%,rgba(0,0,0,0) 78%);mask-image:linear-gradient(180deg,#000 0,#000 55%,rgba(0,0,0,0) 78%)"></div>
<div style="position:absolute;left:1338px;top:53px;width:31px;height:478.5px;background:linear-gradient(180deg,#5c0008 0.0px,#8a1012 23.0px,#b01a20 46.0px,#d41f27 69.0px,#e8232b 84.0px,#e9292e 161.0px,#ea4a30 169.0px,#ee6530 184.0px,#f28a2a 200.0px,#f5b020 212.0px,#f9e01c 226.0px,#f0e22a 234.0px,#e2e040 245.0px,#bcd550 258.0px,#98c85a 274.0px,#78bf5c 290.0px,#5cb85e 305.0px,#52b660 321.0px,#5abb88 337.0px,#68c2b8 345.0px,#48c0d8 352.0px,#20bce8 362.0px,#3d88c8 376.0px,#3070b8 384.0px,#2850a5 392.0px,#2a4c9e 399.0px,#2a4c9e 423.0px,#3a3e98 431.0px,#4a3592 443.0px,#6a2c8a 454.0px,#782480 462.0px,#6a1068 472.0px,#5c0a5a 478.0px)"></div>
<svg width="1467" height="1658" viewBox="0 0 1467 1658" font-family="Liberation Sans, sans-serif" font-size="29.5" fill="#231f20">
<defs><clipPath id="cc"><rect x="161" y="741" width="514.5" height="355.5"/></clipPath><clipPath id="cd"><rect x="908.5" y="738.5" width="514.5" height="355.5"/></clipPath><radialGradient id="hk"><stop offset="0" stop-color="#fff"/><stop offset="0.22" stop-color="#f4f6f6"/><stop offset="0.55" stop-color="#a9aeb0" stop-opacity="0.75"/><stop offset="1" stop-color="#231f20" stop-opacity="0"/></radialGradient><radialGradient id="hr"><stop offset="0" stop-color="#fff"/><stop offset="0.22" stop-color="#fde8e8"/><stop offset="0.55" stop-color="#f39a9c" stop-opacity="0.75"/><stop offset="1" stop-color="#e8262b" stop-opacity="0"/></radialGradient></defs>
<rect x="143" y="51.4" width="529.5" height="480.5" fill="none" stroke="#231f20" stroke-width="1.5"/>
<path d="M143 51L143 533.2" stroke="#231f20" stroke-width="2"/>
<path d="M142 532.3L673.3 532.3" stroke="#231f20" stroke-width="1.8"/>
<path d="M133.4 51.3L143 51.3" stroke="#231f20" stroke-width="1.8"/>
<path d="M137.2 91.3L143 91.3" stroke="#231f20" stroke-width="1.8"/>
<path d="M133.4 131.3L143 131.3" stroke="#231f20" stroke-width="1.8"/>
<path d="M137.2 171.3L143 171.3" stroke="#231f20" stroke-width="1.8"/>
<path d="M133.4 211.3L143 211.3" stroke="#231f20" stroke-width="1.8"/>
<path d="M137.2 251.3L143 251.3" stroke="#231f20" stroke-width="1.8"/>
<path d="M133.4 291.3L143 291.3" stroke="#231f20" stroke-width="1.8"/>
<path d="M137.2 331.3L143 331.3" stroke="#231f20" stroke-width="1.8"/>
<path d="M133.4 371.3L143 371.3" stroke="#231f20" stroke-width="1.8"/>
<path d="M137.2 411.3L143 411.3" stroke="#231f20" stroke-width="1.8"/>
<path d="M133.4 451.3L143 451.3" stroke="#231f20" stroke-width="1.8"/>
<path d="M137.2 491.3L143 491.3" stroke="#231f20" stroke-width="1.8"/>
<path d="M133.4 531.3L143 531.3" stroke="#231f20" stroke-width="1.8"/>
<text x="122.9" y="61.5" text-anchor="end">4</text>
<text x="122.9" y="141.5" text-anchor="end">3</text>
<text x="122.9" y="221.5" text-anchor="end">2</text>
<text x="122.9" y="301.5" text-anchor="end">1</text>
<text x="122.9" y="381.5" text-anchor="end">0</text>
<text x="122.9" y="461.5" text-anchor="end">&#8211;1</text>
<text x="122.9" y="541.5" text-anchor="end">&#8211;2</text>
<path d="M178.1 532L178.1 542" stroke="#231f20" stroke-width="1.8"/>
<text x="178.1" y="575.5" text-anchor="middle">1.40</text>
<path d="M222.25 532L222.25 537.5" stroke="#231f20" stroke-width="1.8"/>
<path d="M266.4 532L266.4 542" stroke="#231f20" stroke-width="1.8"/>
<text x="266.4" y="575.5" text-anchor="middle">1.45</text>
<path d="M310.55 532L310.55 537.5" stroke="#231f20" stroke-width="1.8"/>
<path d="M354.7 532L354.7 542" stroke="#231f20" stroke-width="1.8"/>
<text x="354.7" y="575.5" text-anchor="middle">1.50</text>
<path d="M398.85 532L398.85 537.5" stroke="#231f20" stroke-width="1.8"/>
<path d="M443 532L443 542" stroke="#231f20" stroke-width="1.8"/>
<text x="443" y="575.5" text-anchor="middle">1.55</text>
<path d="M487.15 532L487.15 537.5" stroke="#231f20" stroke-width="1.8"/>
<path d="M531.3 532L531.3 542" stroke="#231f20" stroke-width="1.8"/>
<text x="531.3" y="575.5" text-anchor="middle">1.60</text>
<path d="M575.45 532L575.45 537.5" stroke="#231f20" stroke-width="1.8"/>
<path d="M619.6 532L619.6 542" stroke="#231f20" stroke-width="1.8"/>
<text x="619.6" y="575.5" text-anchor="middle">1.65</text>
<path d="M663.75 532L663.75 537.5" stroke="#231f20" stroke-width="1.8"/>
<text x="263.28" y="615.9">Photon energy (eV)</text>
<text transform="translate(68.5 292.1) rotate(-90)" text-anchor="middle">Gate voltage (V)</text>
<text x="1.07" y="30.7" font-weight="bold" font-size="42">a</text>
<text x="167.28" y="107.4">MoSe</text>
<text x="244.34" y="115.9" font-size="21">2</text>
<rect x="796.4" y="51.5" width="529.6" height="480.5" fill="none" stroke="#231f20" stroke-width="1.3"/>
<path d="M796 532.2L1326.6 532.2" stroke="#231f20" stroke-width="1.6"/>
<path d="M832 532L832 542" stroke="#231f20" stroke-width="1.8"/>
<text x="832" y="575.5" text-anchor="middle">1.40</text>
<path d="M876.15 532L876.15 537.5" stroke="#231f20" stroke-width="1.8"/>
<path d="M920.3 532L920.3 542" stroke="#231f20" stroke-width="1.8"/>
<text x="920.3" y="575.5" text-anchor="middle">1.45</text>
<path d="M964.45 532L964.45 537.5" stroke="#231f20" stroke-width="1.8"/>
<path d="M1008.6 532L1008.6 542" stroke="#231f20" stroke-width="1.8"/>
<text x="1008.6" y="575.5" text-anchor="middle">1.50</text>
<path d="M1052.75 532L1052.75 537.5" stroke="#231f20" stroke-width="1.8"/>
<path d="M1096.9 532L1096.9 542" stroke="#231f20" stroke-width="1.8"/>
<text x="1096.9" y="575.5" text-anchor="middle">1.55</text>
<path d="M1141.05 532L1141.05 537.5" stroke="#231f20" stroke-width="1.8"/>
<path d="M1185.2 532L1185.2 542" stroke="#231f20" stroke-width="1.8"/>
<text x="1185.2" y="575.5" text-anchor="middle">1.60</text>
<path d="M1229.35 532L1229.35 537.5" stroke="#231f20" stroke-width="1.8"/>
<path d="M1273.5 532L1273.5 542" stroke="#231f20" stroke-width="1.8"/>
<text x="1273.5" y="575.5" text-anchor="middle">1.65</text>
<path d="M1317.65 532L1317.65 537.5" stroke="#231f20" stroke-width="1.8"/>
<text x="919.48" y="617">Photon energy (eV)</text>
<text x="750.03" y="30.8" font-weight="bold" font-size="42">b</text>
<text x="812.38" y="101.8">MoSe</text>
<text x="889.44" y="110.1" font-size="21">2</text>
<text x="901.12" y="101.8">/WS</text>
<text x="956.84" y="110.1" font-size="21">2</text>
<rect x="1337.6" y="51" width="31.4" height="481" fill="none" stroke="#231f20" stroke-width="1.2"/>
<path d="M1369.5 127.6L1379.3 127.6" stroke="#231f20" stroke-width="1.3"/>
<path d="M1369.5 273.1L1379.3 273.1" stroke="#231f20" stroke-width="1.3"/>
<path d="M1369.5 417.8L1379.3 417.8" stroke="#231f20" stroke-width="1.3"/>
<text x="1391.05" y="136.2" font-size="25">35,000</text>
<text x="1391.05" y="281.6" font-size="25">3500</text>
<text x="1391.05" y="426.4" font-size="25">350</text>
<text x="1257.25" y="37.1" font-size="25">PL intensity (a.u.)</text>
<path d="M159.3 739.7H677.3V1098.4H159.3Z" fill="none" stroke="#231f20" stroke-width="4.2"/>
<path d="M157.2 918.5L679.4 918.5" stroke="#231f20" stroke-width="4.2"/>
<path d="M159.3 829L168.2 829" stroke="#231f20" stroke-width="2.8"/>
<path d="M159.3 873.7L163.8 873.7" stroke="#231f20" stroke-width="2.8"/>
<path d="M159.3 784.4L163.8 784.4" stroke="#231f20" stroke-width="2.8"/>
<path d="M159.3 970.4L168.2 970.4" stroke="#231f20" stroke-width="2.8"/>
<path d="M159.3 1034L163.8 1034" stroke="#231f20" stroke-width="2.8"/>
<path d="M186.43 918.5L186.43 914.2" stroke="#231f20" stroke-width="2.8"/>
<path d="M186.43 1098.4L186.43 1094.1" stroke="#231f20" stroke-width="2.8"/>
<path d="M231 918.5L231 909.6" stroke="#231f20" stroke-width="2.8"/>
<path d="M231 1098.4L231 1089.5" stroke="#231f20" stroke-width="2.8"/>
<path d="M275.58 918.5L275.58 914.2" stroke="#231f20" stroke-width="2.8"/>
<path d="M275.58 1098.4L275.58 1094.1" stroke="#231f20" stroke-width="2.8"/>
<path d="M320.15 918.5L320.15 909.6" stroke="#231f20" stroke-width="2.8"/>
<path d="M320.15 1098.4L320.15 1089.5" stroke="#231f20" stroke-width="2.8"/>
<path d="M364.73 918.5L364.73 914.2" stroke="#231f20" stroke-width="2.8"/>
<path d="M364.73 1098.4L364.73 1094.1" stroke="#231f20" stroke-width="2.8"/>
<path d="M409.3 918.5L409.3 909.6" stroke="#231f20" stroke-width="2.8"/>
<path d="M409.3 1098.4L409.3 1089.5" stroke="#231f20" stroke-width="2.8"/>
<path d="M453.88 918.5L453.88 914.2" stroke="#231f20" stroke-width="2.8"/>
<path d="M453.88 1098.4L453.88 1094.1" stroke="#231f20" stroke-width="2.8"/>
<path d="M498.45 918.5L498.45 909.6" stroke="#231f20" stroke-width="2.8"/>
<path d="M498.45 1098.4L498.45 1089.5" stroke="#231f20" stroke-width="2.8"/>
<path d="M543.03 918.5L543.03 914.2" stroke="#231f20" stroke-width="2.8"/>
<path d="M543.03 1098.4L543.03 1094.1" stroke="#231f20" stroke-width="2.8"/>
<path d="M587.6 918.5L587.6 909.6" stroke="#231f20" stroke-width="2.8"/>
<path d="M587.6 1098.4L587.6 1089.5" stroke="#231f20" stroke-width="2.8"/>
<path d="M632.18 918.5L632.18 914.2" stroke="#231f20" stroke-width="2.8"/>
<path d="M632.18 1098.4L632.18 1094.1" stroke="#231f20" stroke-width="2.8"/>
<text x="226.8" y="721">Optical excitation at 1.797 eV</text>
<text transform="translate(22.4 919.4) rotate(-90)" text-anchor="middle">PL intensity (a.u.)</text>
<text x="231" y="1134" text-anchor="middle">1.45</text>
<text x="320.15" y="1134" text-anchor="middle">1.50</text>
<text x="409.3" y="1134" text-anchor="middle">1.55</text>
<text x="498.45" y="1134" text-anchor="middle">1.60</text>
<text x="587.6" y="1134" text-anchor="middle">1.65</text>
<text x="676.75" y="1134" text-anchor="middle">1.70</text>
<text x="291.78" y="1175.5">Photon energy (eV)</text>
<text x="1.02" y="709.3" font-weight="bold" font-size="42">c</text>
<text x="49.72" y="749.4">2 × 10</text>
<text x="132.56" y="737.2" font-size="20.5">5</text>
<text x="49.72" y="837.9">1 × 10</text>
<text x="132.56" y="825.7" font-size="20.5">5</text>
<text x="143.9" y="928.2" text-anchor="end">0</text>
<text x="49.76" y="978.8">1 × 10</text>
<text x="132.6" y="966.6" font-size="20.5">3</text>
<text x="143.9" y="1102.4" text-anchor="end">0</text>
<path d="M168.9 764L219.8 764" stroke="#231f20" stroke-width="4.6"/>
<path d="M168.9 815.7L219.8 815.7" stroke="#e8232b" stroke-width="4.6"/>
<text x="230.95" y="772.3" font-size="25">MoSe</text>
<text x="296.26" y="779.5" font-size="17.8">2</text>
<text x="230.95" y="822.8" font-size="25">MoSe</text>
<text x="296.26" y="830" font-size="17.8">2</text>
<text x="306.16" y="822.8" font-size="25">/WS</text>
<text x="353.37" y="830" font-size="17.8">2</text>
<text x="495.44" y="786.7" font-size="25">Gate: &#8211;2 V</text>
<text x="495.74" y="975.1" font-size="25">Gate: 4 V</text>
<path d="M906.8 737H1424.7V1095.5H906.8Z" fill="none" stroke="#231f20" stroke-width="4.2"/>
<path d="M904.7 916L1426.8 916" stroke="#231f20" stroke-width="4.2"/>
<path d="M906.8 766.5L915.7 766.5" stroke="#231f20" stroke-width="2.8"/>
<path d="M906.8 841.2L915.7 841.2" stroke="#231f20" stroke-width="2.8"/>
<path d="M906.8 878.6L911.3 878.6" stroke="#231f20" stroke-width="2.8"/>
<path d="M906.8 803.9L911.3 803.9" stroke="#231f20" stroke-width="2.8"/>
<path d="M906.8 1047.4L915.7 1047.4" stroke="#231f20" stroke-width="2.8"/>
<path d="M906.8 999.6L915.7 999.6" stroke="#231f20" stroke-width="2.8"/>
<path d="M906.8 951.8L915.7 951.8" stroke="#231f20" stroke-width="2.8"/>
<path d="M906.8 1071.4L911.3 1071.4" stroke="#231f20" stroke-width="2.8"/>
<path d="M906.8 1023.5L911.3 1023.5" stroke="#231f20" stroke-width="2.8"/>
<path d="M906.8 975.7L911.3 975.7" stroke="#231f20" stroke-width="2.8"/>
<path d="M906.8 927.9L911.3 927.9" stroke="#231f20" stroke-width="2.8"/>
<path d="M933.55 916L933.55 911.7" stroke="#231f20" stroke-width="2.8"/>
<path d="M933.55 1095.5L933.55 1091.2" stroke="#231f20" stroke-width="2.8"/>
<path d="M979.9 916L979.9 907.1" stroke="#231f20" stroke-width="2.8"/>
<path d="M979.9 1095.5L979.9 1086.6" stroke="#231f20" stroke-width="2.8"/>
<path d="M1026.25 916L1026.25 911.7" stroke="#231f20" stroke-width="2.8"/>
<path d="M1026.25 1095.5L1026.25 1091.2" stroke="#231f20" stroke-width="2.8"/>
<path d="M1072.6 916L1072.6 907.1" stroke="#231f20" stroke-width="2.8"/>
<path d="M1072.6 1095.5L1072.6 1086.6" stroke="#231f20" stroke-width="2.8"/>
<path d="M1118.95 916L1118.95 911.7" stroke="#231f20" stroke-width="2.8"/>
<path d="M1118.95 1095.5L1118.95 1091.2" stroke="#231f20" stroke-width="2.8"/>
<path d="M1165.3 916L1165.3 907.1" stroke="#231f20" stroke-width="2.8"/>
<path d="M1165.3 1095.5L1165.3 1086.6" stroke="#231f20" stroke-width="2.8"/>
<path d="M1211.65 916L1211.65 911.7" stroke="#231f20" stroke-width="2.8"/>
<path d="M1211.65 1095.5L1211.65 1091.2" stroke="#231f20" stroke-width="2.8"/>
<path d="M1258 916L1258 907.1" stroke="#231f20" stroke-width="2.8"/>
<path d="M1258 1095.5L1258 1086.6" stroke="#231f20" stroke-width="2.8"/>
<path d="M1304.35 916L1304.35 911.7" stroke="#231f20" stroke-width="2.8"/>
<path d="M1304.35 1095.5L1304.35 1091.2" stroke="#231f20" stroke-width="2.8"/>
<path d="M1350.7 916L1350.7 907.1" stroke="#231f20" stroke-width="2.8"/>
<path d="M1350.7 1095.5L1350.7 1086.6" stroke="#231f20" stroke-width="2.8"/>
<path d="M1397.05 916L1397.05 911.7" stroke="#231f20" stroke-width="2.8"/>
<path d="M1397.05 1095.5L1397.05 1091.2" stroke="#231f20" stroke-width="2.8"/>
<text x="989.6" y="721">Optical excitation at 2.0 eV</text>
<text transform="translate(772.9 917.8) rotate(-90)" text-anchor="middle">PL intensity (a.u.)</text>
<text x="979.9" y="1131.3" text-anchor="middle">1.45</text>
<text x="1072.6" y="1131.3" text-anchor="middle">1.50</text>
<text x="1165.3" y="1131.3" text-anchor="middle">1.55</text>
<text x="1258" y="1131.3" text-anchor="middle">1.60</text>
<text x="1350.7" y="1131.3" text-anchor="middle">1.65</text>
<text x="1037.58" y="1174.2">Photon energy (eV)</text>
<text x="749.98" y="709.2" font-weight="bold" font-size="42">d</text>
<text x="798.62" y="777.5">1 × 10</text>
<text x="881.46" y="765.3" font-size="20.5">5</text>
<text x="798.36" y="852">5 × 10</text>
<text x="881.2" y="839.8" font-size="20.5">4</text>
<text x="892.8" y="926" text-anchor="end">0</text>
<text x="798.66" y="961.5">3 × 10</text>
<text x="881.5" y="949.3" font-size="20.5">3</text>
<text x="798.66" y="1009.5">2 × 10</text>
<text x="881.5" y="997.3" font-size="20.5">3</text>
<text x="798.66" y="1057.5">1 × 10</text>
<text x="881.5" y="1045.3" font-size="20.5">3</text>
<path d="M928.6 764L979.3 764" stroke="#231f20" stroke-width="4.6"/>
<path d="M928.6 815.7L979.3 815.7" stroke="#e8232b" stroke-width="4.6"/>
<text x="990.35" y="771.7" font-size="25">MoSe</text>
<text x="1055.66" y="778.9" font-size="17.8">2</text>
<text x="990.35" y="824.7" font-size="25">MoSe</text>
<text x="1055.66" y="831.9" font-size="17.8">2</text>
<text x="1065.56" y="824.7" font-size="25">/WS</text>
<text x="1112.77" y="831.9" font-size="17.8">2</text>
<text x="1253.74" y="786.5" font-size="25">Gate: &#8211;2 V</text>
<text x="1253.54" y="974.4" font-size="25">Gate: 4 V</text>
<path d="M369 1234.4H1207.5V1574H369Z" fill="none" stroke="#231f20" stroke-width="4.4"/>
<path d="M369 1555.5L380.7 1555.5" stroke="#231f20" stroke-width="2.6"/>
<path d="M369 1537.7L375.7 1537.7" stroke="#231f20" stroke-width="2.6"/>
<path d="M369 1519.9L380.7 1519.9" stroke="#231f20" stroke-width="2.6"/>
<path d="M369 1502.1L375.7 1502.1" stroke="#231f20" stroke-width="2.6"/>
<path d="M369 1484.3L380.7 1484.3" stroke="#231f20" stroke-width="2.6"/>
<path d="M369 1466.5L375.7 1466.5" stroke="#231f20" stroke-width="2.6"/>
<path d="M369 1448.7L380.7 1448.7" stroke="#231f20" stroke-width="2.6"/>
<path d="M369 1430.9L375.7 1430.9" stroke="#231f20" stroke-width="2.6"/>
<path d="M369 1413.1L380.7 1413.1" stroke="#231f20" stroke-width="2.6"/>
<path d="M369 1395.3L375.7 1395.3" stroke="#231f20" stroke-width="2.6"/>
<path d="M369 1377.5L380.7 1377.5" stroke="#231f20" stroke-width="2.6"/>
<path d="M369 1359.7L375.7 1359.7" stroke="#231f20" stroke-width="2.6"/>
<path d="M369 1341.9L380.7 1341.9" stroke="#231f20" stroke-width="2.6"/>
<path d="M369 1324.1L375.7 1324.1" stroke="#231f20" stroke-width="2.6"/>
<path d="M369 1306.3L380.7 1306.3" stroke="#231f20" stroke-width="2.6"/>
<path d="M369 1288.5L375.7 1288.5" stroke="#231f20" stroke-width="2.6"/>
<path d="M369 1270.7L380.7 1270.7" stroke="#231f20" stroke-width="2.6"/>
<path d="M369 1252.9L375.7 1252.9" stroke="#231f20" stroke-width="2.6"/>
<path d="M369 1235.1L380.7 1235.1" stroke="#231f20" stroke-width="2.6"/>
<path d="M428.4 1574L428.4 1562.8" stroke="#231f20" stroke-width="2.6"/>
<path d="M488.3 1574L488.3 1567.8" stroke="#231f20" stroke-width="2.6"/>
<path d="M548.2 1574L548.2 1562.8" stroke="#231f20" stroke-width="2.6"/>
<path d="M608.1 1574L608.1 1567.8" stroke="#231f20" stroke-width="2.6"/>
<path d="M668 1574L668 1562.8" stroke="#231f20" stroke-width="2.6"/>
<path d="M727.9 1574L727.9 1567.8" stroke="#231f20" stroke-width="2.6"/>
<path d="M787.8 1574L787.8 1562.8" stroke="#231f20" stroke-width="2.6"/>
<path d="M847.7 1574L847.7 1567.8" stroke="#231f20" stroke-width="2.6"/>
<path d="M907.6 1574L907.6 1562.8" stroke="#231f20" stroke-width="2.6"/>
<path d="M967.5 1574L967.5 1567.8" stroke="#231f20" stroke-width="2.6"/>
<path d="M1027.4 1574L1027.4 1562.8" stroke="#231f20" stroke-width="2.6"/>
<path d="M1087.3 1574L1087.3 1567.8" stroke="#231f20" stroke-width="2.6"/>
<path d="M1147.2 1574L1147.2 1562.8" stroke="#231f20" stroke-width="2.6"/>
<path d="M1207.1 1574L1207.1 1567.8" stroke="#231f20" stroke-width="2.6"/>
<text x="354.8" y="1564.8" text-anchor="end">0.4</text>
<text x="354.8" y="1529.2" text-anchor="end">0.6</text>
<text x="354.8" y="1493.6" text-anchor="end">0.8</text>
<text x="354.8" y="1458" text-anchor="end">1.0</text>
<text x="354.8" y="1422.4" text-anchor="end">1.2</text>
<text x="354.8" y="1386.8" text-anchor="end">1.4</text>
<text x="354.8" y="1351.2" text-anchor="end">1.6</text>
<text x="354.8" y="1315.6" text-anchor="end">1.8</text>
<text x="354.8" y="1280" text-anchor="end">2.0</text>
<text x="354.8" y="1244.4" text-anchor="end">2.2</text>
<text x="428.4" y="1610.5" text-anchor="middle">&#8211;2</text>
<text x="548.2" y="1610.5" text-anchor="middle">&#8211;1</text>
<text x="668" y="1610.5" text-anchor="middle">0</text>
<text x="787.8" y="1610.5" text-anchor="middle">1</text>
<text x="907.6" y="1610.5" text-anchor="middle">2</text>
<text x="1027.4" y="1610.5" text-anchor="middle">3</text>
<text x="1147.2" y="1610.5" text-anchor="middle">4</text>
<text x="680.52" y="1648.4">Gate voltage (V)</text>
<text transform="translate(294.6 1399.5) rotate(-90)" text-anchor="middle">Enhancement factor</text>
<text x="272.56" y="1235.4" font-weight="bold" font-size="42">e</text>
<text x="999.34" y="1316.3" font-size="25">2.0 eV</text>
<text x="987" y="1536.8" fill="#e8232b" font-size="25">1.797 eV</text>
<path d="M157.0 912.3L158.5 912.2 160.0 912.1 161.5 912.0 163.0 911.9 164.5 911.8 166.0 911.7 167.5 911.6 169.0 911.5 170.5 911.4 172.0 911.3 173.5 911.2 175.0 911.1 176.5 911.0 178.0 910.9 179.5 910.8 181.0 910.7 182.5 910.6 184.0 910.5 185.5 910.4 187.0 910.3 188.5 910.2 190.0 910.1 191.5 910.0 193.0 909.9 194.5 909.8 196.0 909.7 197.5 909.6 199.0 909.5 200.5 909.4 202.0 909.3 203.5 909.2 205.0 909.2 206.5 909.1 208.0 909.0 209.5 908.9 211.0 908.8 212.5 908.7 214.0 908.6 215.5 908.5 217.0 908.4 218.5 908.3 220.0 908.2 221.5 908.1 223.0 908.0 224.5 907.9 226.0 907.8 227.5 907.7 229.0 907.6 230.5 907.5 232.0 907.4 233.5 907.3 235.0 907.1 236.5 907.0 238.0 906.9 239.5 906.8 241.0 906.7 242.5 906.6 244.0 906.5 245.5 906.3 247.0 906.2 248.5 906.1 250.0 906.0 251.5 905.8 253.0 905.7 254.5 905.6 256.0 905.5 257.5 905.3 259.0 905.2 260.5 905.0 262.0 904.9 263.5 904.8 265.0 904.6 266.5 904.5 268.0 904.3 269.5 904.2 271.0 904.0 272.5 903.9 274.0 903.7 275.5 903.5 277.0 903.4 278.5 903.2 280.0 903.0 281.5 902.9 283.0 902.7 284.5 902.5 286.0 902.3 287.5 902.1 289.0 901.9 290.5 901.8 292.0 901.6 293.5 901.4 295.0 901.2 296.5 901.0 298.0 900.7 299.5 900.5 301.0 900.3 302.5 900.1 304.0 899.9 305.5 899.7 307.0 899.4 308.5 899.2 310.0 899.0 311.5 898.7 313.0 898.5 314.5 898.2 316.0 898.0 317.5 897.7 319.0 897.4 320.5 897.2 322.0 896.9 323.5 896.6 325.0 896.4 326.5 896.1 328.0 895.8 329.5 895.5 331.0 895.2 332.5 894.8 334.0 894.5 335.5 894.2 337.0 893.8 338.5 893.4 340.0 893.0 341.5 892.6 343.0 892.2 344.5 891.8 346.0 891.3 347.5 890.8 349.0 890.3 350.5 889.8 352.0 889.2 353.5 888.6 355.0 888.0 356.5 887.4 358.0 886.7 359.5 886.0 361.0 885.3 362.5 884.5 364.0 883.7 365.5 882.9 367.0 882.1 368.5 881.2 370.0 880.2 371.5 879.3 373.0 878.3 374.5 877.2 376.0 876.1 377.5 875.0 379.0 873.8 380.5 872.6 382.0 871.3 383.5 870.0 385.0 868.7 386.5 867.3 388.0 865.8 389.5 864.3 391.0 862.8 392.5 861.1 394.0 859.4 395.5 857.7 397.0 855.8 398.5 853.9 400.0 851.8 401.5 849.7 403.0 847.5 404.5 845.2 406.0 842.7 407.5 840.2 409.0 837.5 410.5 834.7 412.0 831.8 413.5 828.7 415.0 825.5 416.5 822.1 418.0 818.6 419.5 814.9 421.0 811.1 422.5 807.1 424.0 802.9 425.5 798.7 427.0 794.4 428.5 790.0 430.0 785.6 431.5 781.2 433.0 776.8 434.5 772.4 436.0 768.2 437.5 764.2 439.0 760.4 440.5 756.9 442.0 753.7 443.5 750.8 445.0 748.4 446.5 746.5 448.0 745.0 449.5 743.9 451.0 743.4 452.5 743.4 454.0 744.0 455.5 744.9 457.0 746.4 458.5 748.2 460.0 750.4 461.5 753.0 463.0 755.9 464.5 759.0 466.0 762.5 467.5 766.1 469.0 770.0 470.5 774.1 472.0 778.3 473.5 782.6 475.0 787.0 476.5 791.5 478.0 796.1 479.5 800.7 481.0 805.3 482.5 810.0 484.0 814.5 485.5 819.1 487.0 823.5 488.5 827.9 490.0 832.1 491.5 836.2 493.0 840.1 494.5 843.9 496.0 847.5 497.5 850.9 499.0 854.2 500.5 857.3 502.0 860.3 503.5 863.1 505.0 865.8 506.5 868.4 508.0 870.8 509.5 873.1 511.0 875.3 512.5 877.4 514.0 879.4 515.5 881.3 517.0 883.0 518.5 884.7 520.0 886.3 521.5 887.8 523.0 889.2 524.5 890.5 526.0 891.8 527.5 893.0 529.0 894.1 530.5 895.1 532.0 896.2 533.5 897.1 535.0 898.0 536.5 898.9 538.0 899.8 539.5 900.6 541.0 901.4 542.5 902.1 544.0 902.9 545.5 903.6 547.0 904.3 548.5 904.9 550.0 905.6 551.5 906.2 553.0 906.8 554.5 907.4 556.0 907.9 557.5 908.4 559.0 909.0 560.5 909.5 562.0 909.9 563.5 910.4 565.0 910.8 566.5 911.2 568.0 911.6 569.5 912.0 571.0 912.4 572.5 912.7 574.0 913.1 575.5 913.4 577.0 913.7 578.5 913.9 580.0 914.2 581.5 914.5 583.0 914.7 584.5 914.9 586.0 915.1 587.5 915.3 589.0 915.5 590.5 915.7 592.0 915.9 593.5 916.0 595.0 916.2 596.5 916.3 598.0 916.4 599.5 916.5 601.0 916.6 602.5 916.7 604.0 916.8 605.5 916.9 607.0 916.9 608.5 917.0 610.0 917.0 611.5 917.1 613.0 917.1 614.5 917.2 616.0 917.2 617.5 917.2 619.0 917.2 620.5 917.3 622.0 917.3 623.5 917.3 625.0 917.3 626.5 917.3 628.0 917.3 629.5 917.3 631.0 917.3 632.5 917.3 634.0 917.3 635.5 917.2 637.0 917.2 638.5 917.2 640.0 917.2 641.5 917.2 643.0 917.2 644.5 917.2 646.0 917.2 647.5 917.2 649.0 917.2 650.5 917.3 652.0 917.3 653.5 917.3 655.0 917.3 656.5 917.4 658.0 917.4 659.5 917.4 661.0 917.5 662.5 917.5 664.0 917.6 665.5 917.7 667.0 917.8 668.5 917.8 670.0 917.9 671.5 918.0 673.0 918.2 674.5 918.3 676.0 918.4 677.5 918.6 679.0 918.7" fill="none" stroke="#231f20" stroke-width="4.2" stroke-linejoin="round" clip-path="url(#cc)"/>
<path d="M157.0 915.0L158.5 915.0 160.0 914.9 161.5 914.9 163.0 914.8 164.5 914.8 166.0 914.7 167.5 914.7 169.0 914.6 170.5 914.6 172.0 914.5 173.5 914.5 175.0 914.4 176.5 914.4 178.0 914.3 179.5 914.3 181.0 914.2 182.5 914.2 184.0 914.1 185.5 914.1 187.0 914.0 188.5 914.0 190.0 913.9 191.5 913.9 193.0 913.8 194.5 913.7 196.0 913.7 197.5 913.6 199.0 913.6 200.5 913.5 202.0 913.5 203.5 913.4 205.0 913.3 206.5 913.3 208.0 913.2 209.5 913.2 211.0 913.1 212.5 913.0 214.0 913.0 215.5 912.9 217.0 912.8 218.5 912.8 220.0 912.7 221.5 912.6 223.0 912.6 224.5 912.5 226.0 912.4 227.5 912.4 229.0 912.3 230.5 912.2 232.0 912.1 233.5 912.1 235.0 912.0 236.5 911.9 238.0 911.8 239.5 911.7 241.0 911.7 242.5 911.6 244.0 911.5 245.5 911.4 247.0 911.3 248.5 911.2 250.0 911.1 251.5 911.0 253.0 911.0 254.5 910.9 256.0 910.8 257.5 910.7 259.0 910.6 260.5 910.5 262.0 910.4 263.5 910.3 265.0 910.2 266.5 910.0 268.0 909.9 269.5 909.8 271.0 909.7 272.5 909.6 274.0 909.5 275.5 909.4 277.0 909.3 278.5 909.1 280.0 909.0 281.5 908.9 283.0 908.8 284.5 908.6 286.0 908.5 287.5 908.4 289.0 908.3 290.5 908.1 292.0 908.0 293.5 907.8 295.0 907.7 296.5 907.6 298.0 907.4 299.5 907.3 301.0 907.1 302.5 907.0 304.0 906.8 305.5 906.7 307.0 906.5 308.5 906.3 310.0 906.2 311.5 906.0 313.0 905.9 314.5 905.7 316.0 905.5 317.5 905.3 319.0 905.2 320.5 905.0 322.0 904.8 323.5 904.6 325.0 904.4 326.5 904.3 328.0 904.1 329.5 903.8 331.0 903.6 332.5 903.4 334.0 903.2 335.5 902.9 337.0 902.7 338.5 902.4 340.0 902.1 341.5 901.8 343.0 901.4 344.5 901.1 346.0 900.7 347.5 900.3 349.0 899.9 350.5 899.5 352.0 899.0 353.5 898.5 355.0 898.0 356.5 897.4 358.0 896.8 359.5 896.2 361.0 895.5 362.5 894.8 364.0 894.1 365.5 893.3 367.0 892.5 368.5 891.7 370.0 890.8 371.5 889.9 373.0 889.0 374.5 888.0 376.0 887.0 377.5 886.0 379.0 885.0 380.5 883.9 382.0 882.9 383.5 881.8 385.0 880.7 386.5 879.6 388.0 878.5 389.5 877.4 391.0 876.3 392.5 875.2 394.0 874.1 395.5 873.0 397.0 871.9 398.5 870.9 400.0 869.8 401.5 868.8 403.0 867.8 404.5 866.8 406.0 865.8 407.5 864.9 409.0 864.0 410.5 863.1 412.0 862.3 413.5 861.5 415.0 860.7 416.5 860.0 418.0 859.4 419.5 858.9 421.0 858.4 422.5 858.0 424.0 857.8 425.5 857.6 427.0 857.5 428.5 857.5 430.0 857.7 431.5 858.0 433.0 858.4 434.5 858.9 436.0 859.5 437.5 860.2 439.0 861.0 440.5 861.8 442.0 862.8 443.5 863.8 445.0 864.9 446.5 866.0 448.0 867.3 449.5 868.5 451.0 869.8 452.5 871.1 454.0 872.5 455.5 873.9 457.0 875.3 458.5 876.8 460.0 878.2 461.5 879.6 463.0 881.1 464.5 882.5 466.0 883.9 467.5 885.4 469.0 886.7 470.5 888.1 472.0 889.4 473.5 890.7 475.0 891.9 476.5 893.1 478.0 894.2 479.5 895.3 481.0 896.3 482.5 897.3 484.0 898.2 485.5 899.1 487.0 900.0 488.5 900.8 490.0 901.6 491.5 902.3 493.0 903.0 494.5 903.7 496.0 904.3 497.5 904.9 499.0 905.5 500.5 906.1 502.0 906.6 503.5 907.1 505.0 907.6 506.5 908.0 508.0 908.4 509.5 908.9 511.0 909.3 512.5 909.6 514.0 910.0 515.5 910.3 517.0 910.7 518.5 911.0 520.0 911.3 521.5 911.6 523.0 911.9 524.5 912.2 526.0 912.5 527.5 912.7 529.0 913.0 530.5 913.3 532.0 913.5 533.5 913.7 535.0 914.0 536.5 914.2 538.0 914.4 539.5 914.6 541.0 914.8 542.5 915.0 544.0 915.1 545.5 915.3 547.0 915.5 548.5 915.6 550.0 915.8 551.5 915.9 553.0 916.1 554.5 916.2 556.0 916.3 557.5 916.4 559.0 916.5 560.5 916.6 562.0 916.7 563.5 916.8 565.0 916.9 566.5 917.0 568.0 917.1 569.5 917.1 571.0 917.2 572.5 917.3 574.0 917.3 575.5 917.4 577.0 917.4 578.5 917.5 580.0 917.5 581.5 917.5 583.0 917.6 584.5 917.6 586.0 917.6 587.5 917.7 589.0 917.7 590.5 917.7 592.0 917.7 593.5 917.7 595.0 917.7 596.5 917.7 598.0 917.7 599.5 917.7 601.0 917.7 602.5 917.7 604.0 917.7 605.5 917.7 607.0 917.7 608.5 917.7 610.0 917.7 611.5 917.7 613.0 917.7 614.5 917.6 616.0 917.6 617.5 917.6 619.0 917.6 620.5 917.6 622.0 917.6 623.5 917.6 625.0 917.5 626.5 917.5 628.0 917.5 629.5 917.5 631.0 917.5 632.5 917.5 634.0 917.5 635.5 917.5 637.0 917.4 638.5 917.4 640.0 917.4 641.5 917.4 643.0 917.4 644.5 917.4 646.0 917.4 647.5 917.4 649.0 917.5 650.5 917.5 652.0 917.5 653.5 917.5 655.0 917.5 656.5 917.5 658.0 917.6 659.5 917.6 661.0 917.6 662.5 917.7 664.0 917.7 665.5 917.8 667.0 917.8 668.5 917.9 670.0 917.9 671.5 918.0 673.0 918.1 674.5 918.2 676.0 918.2 677.5 918.3 679.0 918.4" fill="none" stroke="#e8232b" stroke-width="4.2" stroke-linejoin="round" clip-path="url(#cc)"/>
<path d="M157.0 1071.4L158.4 1073.5 159.8 1075.1 161.2 1072.9 162.6 1070.8 164.0 1072.2 165.4 1073.5 166.8 1074.8 168.2 1071.2 169.6 1069.8 171.0 1072.7 172.4 1073.0 173.8 1074.7 175.2 1074.0 176.6 1071.7 178.0 1070.4 179.4 1074.5 180.8 1070.5 182.2 1068.1 183.6 1066.4 185.0 1067.6 186.4 1067.7 187.8 1066.5 189.2 1066.3 190.6 1066.4 192.0 1066.8 193.4 1067.3 194.8 1065.7 196.2 1061.5 197.6 1064.2 199.0 1061.3 200.4 1062.3 201.8 1060.2 203.2 1061.9 204.6 1061.0 206.0 1062.2 207.4 1067.7 208.8 1063.4 210.2 1063.5 211.6 1059.7 213.0 1060.0 214.4 1061.5 215.8 1060.4 217.2 1060.6 218.6 1059.9 220.0 1057.4 221.4 1059.0 222.8 1056.8 224.2 1060.4 225.6 1057.0 227.0 1057.6 228.4 1056.3 229.8 1057.1 231.2 1054.3 232.6 1055.7 234.0 1053.8 235.4 1055.2 236.8 1054.1 238.2 1052.6 239.6 1050.1 241.0 1051.5 242.4 1051.0 243.8 1052.4 245.2 1049.0 246.6 1049.0 248.0 1048.5 249.4 1047.5 250.8 1046.6 252.2 1045.8 253.6 1043.7 255.0 1041.9 256.4 1041.9 257.8 1043.1 259.2 1044.5 260.6 1043.5 262.0 1042.8 263.4 1041.6 264.8 1040.6 266.2 1038.9 267.6 1038.9 269.0 1040.0 270.4 1036.2 271.8 1033.9 273.2 1037.2 274.6 1034.7 276.0 1034.6 277.4 1033.9 278.8 1029.7 280.2 1033.9 281.6 1033.6 283.0 1030.2 284.4 1029.6 285.8 1027.8 287.2 1025.0 288.6 1024.9 290.0 1025.1 291.4 1025.9 292.8 1024.8 294.2 1022.7 295.6 1023.6 297.0 1019.6 298.4 1020.3 299.8 1020.2 301.2 1017.0 302.6 1012.6 304.0 1012.0 305.4 1012.8 306.8 1012.7 308.2 1013.4 309.6 1008.4 311.0 1007.7 312.4 1007.6 313.8 1005.3 315.2 1000.0 316.6 1002.9 318.0 1005.4 319.4 1003.1 320.8 998.3 322.2 996.9 323.6 996.7 325.0 999.6 326.4 996.5 327.8 993.8 329.2 994.6 330.6 991.3 332.0 992.7 333.4 988.0 334.8 986.1 336.2 986.8 337.6 987.4 339.0 985.4 340.4 983.4 341.8 978.4 343.2 978.0 344.6 977.3 346.0 976.5 347.4 977.3 348.8 975.2 350.2 975.8 351.6 973.9 353.0 971.9 354.4 971.3 355.8 970.9 357.2 970.7 358.6 967.5 360.0 966.2 361.4 963.0 362.8 966.3 364.2 966.1 365.6 962.4 367.0 959.9 368.4 956.9 369.8 957.6 371.2 956.9 372.6 959.3 374.0 955.9 375.4 952.3 376.8 947.7 378.2 952.1 379.6 950.7 381.0 946.6 382.4 947.8 383.8 944.5 385.2 951.6 386.6 949.1 388.0 946.9 389.4 944.5 390.8 940.0 392.2 941.6 393.6 939.3 395.0 941.9 396.4 937.8 397.8 938.4 399.2 942.1 400.6 943.8 402.0 939.5 403.4 937.7 404.8 941.3 406.2 942.6 407.6 940.0 409.0 940.0 410.4 940.3 411.8 939.9 413.2 941.0 414.6 944.9 416.0 945.5 417.4 948.4 418.8 946.0 420.2 945.5 421.6 944.3 423.0 945.8 424.4 944.6 425.8 943.9 427.2 948.4 428.6 951.6 430.0 952.2 431.4 953.8 432.8 953.2 434.2 952.1 435.6 954.0 437.0 954.7 438.4 954.7 439.8 954.8 441.2 956.3 442.6 960.4 444.0 963.1 445.4 964.1 446.8 968.8 448.2 969.4 449.6 971.6 451.0 974.6 452.4 973.4 453.8 972.3 455.2 978.0 456.6 978.6 458.0 983.5 459.4 984.8 460.8 987.9 462.2 990.0 463.6 987.5 465.0 993.3 466.4 994.5 467.8 996.6 469.2 999.5 470.6 1004.2 472.0 1007.5 473.4 1010.3 474.8 1008.3 476.2 1011.2 477.6 1010.6 479.0 1015.8 480.4 1019.9 481.8 1020.2 483.2 1023.1 484.6 1024.9 486.0 1027.7 487.4 1026.3 488.8 1026.8 490.2 1028.0 491.6 1033.6 493.0 1035.3 494.4 1035.0 495.8 1036.7 497.2 1038.2 498.6 1040.0 500.0 1041.1 501.4 1042.3 502.8 1042.1 504.2 1044.2 505.6 1049.7 507.0 1050.4 508.4 1050.8 509.8 1051.3 511.2 1052.9 512.6 1054.7 514.0 1054.4 515.4 1056.6 516.8 1058.1 518.2 1057.6 519.6 1058.2 521.0 1058.7 522.4 1059.5 523.8 1063.8 525.2 1060.3 526.6 1063.6 528.0 1064.7 529.4 1065.7 530.8 1067.8 532.2 1070.8 533.6 1070.5 535.0 1070.4 536.4 1070.0 537.8 1071.1 539.2 1073.5 540.6 1072.4 542.0 1071.1 543.4 1070.8 544.8 1071.4 546.2 1071.3 547.6 1075.8 549.0 1076.2 550.4 1075.6 551.8 1078.6 553.2 1076.2 554.6 1078.1 556.0 1079.1 557.4 1075.7 558.8 1074.9 560.2 1076.0 561.6 1079.8 563.0 1081.9 564.4 1078.5 565.8 1081.6 567.2 1080.4 568.6 1080.4 570.0 1080.4 571.4 1081.1 572.8 1079.0 574.2 1080.1 575.6 1080.3 577.0 1083.5 578.4 1087.4 579.8 1089.9 581.2 1085.8 582.6 1082.6 584.0 1084.3 585.4 1084.6 586.8 1090.3 588.2 1090.4 589.6 1088.9 591.0 1092.1 592.4 1093.0 593.8 1090.2 595.2 1091.8 596.6 1093.3 598.0 1094.6 599.4 1095.7 600.8 1095.5 602.2 1096.6 603.6 1095.9 605.0 1095.3 606.4 1099.4 607.8 1098.7 609.2 1098.6 610.6 1095.1 612.0 1096.5 613.4 1098.6 614.8 1095.6 616.2 1098.8 617.6 1097.2 619.0 1098.1 620.4 1097.5 621.8 1097.9 623.2 1099.7 624.6 1097.5 626.0 1100.2 627.4 1097.0 628.8 1095.8 630.2 1098.2 631.6 1095.9 633.0 1096.4 634.4 1098.7 635.8 1100.0 637.2 1095.2 638.6 1097.7 640.0 1100.8 641.4 1100.5 642.8 1098.0 644.2 1096.7 645.6 1096.8 647.0 1095.3 648.4 1096.4 649.8 1096.9 651.2 1097.1 652.6 1099.4 654.0 1097.7 655.4 1095.1 656.8 1098.6 658.2 1096.0 659.6 1096.3 661.0 1096.9 662.4 1096.8 663.8 1095.6 665.2 1096.5 666.6 1100.9 668.0 1097.5 669.4 1097.3 670.8 1099.3 672.2 1099.3 673.6 1099.3 675.0 1099.5 676.4 1094.8 677.8 1095.2" fill="none" stroke="#231f20" stroke-width="4.8" stroke-linejoin="round" clip-path="url(#cc)"/>
<path d="M157.0 1073.0L158.4 1075.2 159.8 1074.9 161.2 1074.4 162.6 1076.7 164.0 1075.8 165.4 1075.0 166.8 1078.2 168.2 1075.2 169.6 1072.9 171.0 1072.0 172.4 1073.1 173.8 1075.3 175.2 1076.1 176.6 1076.8 178.0 1078.0 179.4 1078.0 180.8 1076.1 182.2 1076.5 183.6 1075.3 185.0 1072.7 186.4 1074.1 187.8 1073.0 189.2 1072.0 190.6 1075.3 192.0 1073.9 193.4 1071.1 194.8 1070.7 196.2 1074.4 197.6 1070.7 199.0 1071.0 200.4 1070.5 201.8 1069.7 203.2 1069.2 204.6 1066.8 206.0 1065.7 207.4 1065.4 208.8 1064.6 210.2 1065.9 211.6 1067.2 213.0 1063.0 214.4 1063.8 215.8 1061.1 217.2 1060.4 218.6 1060.7 220.0 1061.1 221.4 1059.9 222.8 1055.6 224.2 1060.9 225.6 1059.4 227.0 1058.0 228.4 1059.6 229.8 1057.6 231.2 1055.3 232.6 1057.6 234.0 1057.9 235.4 1055.5 236.8 1057.3 238.2 1056.7 239.6 1053.6 241.0 1057.2 242.4 1055.4 243.8 1052.1 245.2 1053.4 246.6 1052.9 248.0 1053.7 249.4 1049.6 250.8 1052.1 252.2 1052.2 253.6 1051.4 255.0 1050.6 256.4 1051.1 257.8 1049.8 259.2 1048.0 260.6 1045.3 262.0 1047.4 263.4 1047.4 264.8 1045.7 266.2 1044.5 267.6 1044.7 269.0 1038.6 270.4 1041.2 271.8 1036.6 273.2 1039.4 274.6 1041.2 276.0 1042.6 277.4 1038.3 278.8 1038.0 280.2 1036.4 281.6 1031.6 283.0 1034.5 284.4 1033.5 285.8 1032.6 287.2 1029.9 288.6 1029.9 290.0 1029.4 291.4 1030.6 292.8 1028.6 294.2 1032.7 295.6 1026.6 297.0 1024.2 298.4 1023.2 299.8 1020.8 301.2 1023.4 302.6 1021.9 304.0 1017.3 305.4 1017.6 306.8 1018.7 308.2 1013.8 309.6 1014.3 311.0 1013.0 312.4 1016.3 313.8 1013.3 315.2 1010.2 316.6 1008.4 318.0 1011.5 319.4 1007.7 320.8 1010.7 322.2 1004.4 323.6 1004.4 325.0 1003.7 326.4 1002.2 327.8 1002.1 329.2 1003.1 330.6 1000.6 332.0 998.1 333.4 1001.7 334.8 1002.6 336.2 998.7 337.6 998.9 339.0 993.6 340.4 997.9 341.8 994.9 343.2 995.1 344.6 999.7 346.0 994.9 347.4 995.6 348.8 993.8 350.2 991.7 351.6 992.1 353.0 994.5 354.4 992.2 355.8 992.5 357.2 994.5 358.6 993.1 360.0 990.3 361.4 993.7 362.8 991.7 364.2 992.6 365.6 987.9 367.0 990.5 368.4 985.2 369.8 982.2 371.2 982.7 372.6 982.2 374.0 982.4 375.4 980.4 376.8 981.2 378.2 982.0 379.6 978.4 381.0 975.6 382.4 976.1 383.8 978.0 385.2 978.3 386.6 976.1 388.0 974.1 389.4 975.0 390.8 976.8 392.2 974.2 393.6 976.8 395.0 975.5 396.4 975.1 397.8 973.2 399.2 975.8 400.6 974.1 402.0 970.6 403.4 973.2 404.8 971.6 406.2 973.3 407.6 971.9 409.0 969.8 410.4 970.2 411.8 969.0 413.2 968.0 414.6 969.2 416.0 971.3 417.4 971.3 418.8 972.3 420.2 972.8 421.6 975.7 423.0 976.7 424.4 979.0 425.8 979.4 427.2 983.4 428.6 979.1 430.0 981.4 431.4 984.1 432.8 986.6 434.2 984.3 435.6 985.3 437.0 988.9 438.4 993.1 439.8 995.7 441.2 993.4 442.6 997.1 444.0 1001.5 445.4 1002.6 446.8 1002.7 448.2 1004.9 449.6 1006.1 451.0 1012.3 452.4 1013.0 453.8 1014.3 455.2 1015.3 456.6 1018.1 458.0 1019.0 459.4 1020.5 460.8 1024.0 462.2 1026.3 463.6 1029.7 465.0 1031.9 466.4 1035.9 467.8 1036.6 469.2 1038.9 470.6 1041.0 472.0 1041.2 473.4 1046.0 474.8 1045.7 476.2 1045.0 477.6 1050.9 479.0 1052.7 480.4 1052.1 481.8 1055.6 483.2 1057.5 484.6 1058.5 486.0 1056.3 487.4 1058.8 488.8 1058.1 490.2 1059.4 491.6 1060.6 493.0 1061.2 494.4 1064.4 495.8 1063.9 497.2 1066.9 498.6 1067.7 500.0 1067.2 501.4 1069.0 502.8 1071.0 504.2 1073.0 505.6 1071.6 507.0 1075.1 508.4 1074.6 509.8 1076.1 511.2 1072.5 512.6 1072.4 514.0 1076.6 515.4 1075.8 516.8 1077.2 518.2 1079.2 519.6 1075.6 521.0 1078.2 522.4 1082.0 523.8 1081.6 525.2 1080.8 526.6 1081.9 528.0 1081.7 529.4 1083.5 530.8 1085.5 532.2 1083.9 533.6 1085.2 535.0 1085.6 536.4 1086.9 537.8 1087.9 539.2 1085.3 540.6 1088.7 542.0 1089.5 543.4 1086.7 544.8 1087.5 546.2 1085.9 547.6 1087.6 549.0 1089.4 550.4 1087.5 551.8 1087.8 553.2 1087.8 554.6 1088.2 556.0 1088.3 557.4 1088.0 558.8 1090.7 560.2 1090.3 561.6 1089.2 563.0 1092.2 564.4 1090.5 565.8 1092.7 567.2 1089.9 568.6 1093.8 570.0 1092.0 571.4 1090.8 572.8 1093.0 574.2 1090.8 575.6 1090.8 577.0 1093.3 578.4 1093.0 579.8 1094.6 581.2 1094.9 582.6 1095.4 584.0 1095.5 585.4 1096.7 586.8 1096.1 588.2 1098.0 589.6 1098.6 591.0 1093.9 592.4 1093.0 593.8 1098.6 595.2 1096.9 596.6 1097.7 598.0 1097.5 599.4 1098.2 600.8 1101.8 602.2 1097.9 603.6 1098.1 605.0 1098.1 606.4 1096.2 607.8 1096.0 609.2 1097.0 610.6 1097.7 612.0 1098.7 613.4 1094.9 614.8 1094.5 616.2 1099.9 617.6 1098.4 619.0 1099.6 620.4 1097.9 621.8 1096.9 623.2 1101.4 624.6 1097.0 626.0 1096.3 627.4 1098.8 628.8 1098.4 630.2 1095.4 631.6 1097.6 633.0 1099.2 634.4 1095.9 635.8 1096.5 637.2 1099.0 638.6 1101.7 640.0 1095.2 641.4 1096.1 642.8 1097.6 644.2 1096.4 645.6 1096.1 647.0 1096.7 648.4 1098.6 649.8 1096.5 651.2 1099.1 652.6 1099.9 654.0 1100.1 655.4 1101.3 656.8 1098.2 658.2 1098.1 659.6 1099.8 661.0 1100.8 662.4 1100.5 663.8 1098.1 665.2 1097.3 666.6 1095.6 668.0 1096.6 669.4 1096.1 670.8 1096.7 672.2 1097.0 673.6 1099.2 675.0 1099.9 676.4 1098.5 677.8 1096.3" fill="none" stroke="#e8232b" stroke-width="4.8" stroke-linejoin="round" clip-path="url(#cc)"/>
<path d="M904.0 910.2L905.5 910.2 907.0 910.1 908.5 909.9 910.0 909.8 911.5 909.7 913.0 909.5 914.5 909.4 916.0 909.3 917.5 909.2 919.0 909.1 920.5 908.9 922.0 908.8 923.5 908.7 925.0 908.6 926.5 908.5 928.0 908.4 929.5 908.3 931.0 908.2 932.5 908.1 934.0 908.0 935.5 907.9 937.0 907.8 938.5 907.7 940.0 907.7 941.5 907.6 943.0 907.5 944.5 907.4 946.0 907.3 947.5 907.2 949.0 907.1 950.5 907.1 952.0 907.0 953.5 906.9 955.0 906.8 956.5 906.7 958.0 906.7 959.5 906.6 961.0 906.5 962.5 906.4 964.0 906.3 965.5 906.3 967.0 906.2 968.5 906.1 970.0 906.0 971.5 905.9 973.0 905.8 974.5 905.8 976.0 905.7 977.5 905.6 979.0 905.5 980.5 905.4 982.0 905.3 983.5 905.2 985.0 905.1 986.5 905.0 988.0 904.9 989.5 904.8 991.0 904.7 992.5 904.6 994.0 904.5 995.5 904.4 997.0 904.3 998.5 904.2 1000.0 904.1 1001.5 904.0 1003.0 903.9 1004.5 903.7 1006.0 903.6 1007.5 903.5 1009.0 903.4 1010.5 903.2 1012.0 903.1 1013.5 902.9 1015.0 902.8 1016.5 902.6 1018.0 902.5 1019.5 902.3 1021.0 902.2 1022.5 902.0 1024.0 901.9 1025.5 901.7 1027.0 901.5 1028.5 901.3 1030.0 901.1 1031.5 901.0 1033.0 900.8 1034.5 900.6 1036.0 900.4 1037.5 900.2 1039.0 899.9 1040.5 899.7 1042.0 899.5 1043.5 899.3 1045.0 899.0 1046.5 898.8 1048.0 898.6 1049.5 898.3 1051.0 898.1 1052.5 897.8 1054.0 897.5 1055.5 897.3 1057.0 897.0 1058.5 896.7 1060.0 896.4 1061.5 896.1 1063.0 895.8 1064.5 895.5 1066.0 895.2 1067.5 894.8 1069.0 894.5 1070.5 894.2 1072.0 893.8 1073.5 893.5 1075.0 893.1 1076.5 892.7 1078.0 892.4 1079.5 892.0 1081.0 891.6 1082.5 891.2 1084.0 890.8 1085.5 890.3 1087.0 889.9 1088.5 889.4 1090.0 889.0 1091.5 888.5 1093.0 888.0 1094.5 887.5 1096.0 887.0 1097.5 886.4 1099.0 885.9 1100.5 885.3 1102.0 884.7 1103.5 884.1 1105.0 883.5 1106.5 882.8 1108.0 882.2 1109.5 881.5 1111.0 880.8 1112.5 880.1 1114.0 879.3 1115.5 878.5 1117.0 877.8 1118.5 876.9 1120.0 876.1 1121.5 875.2 1123.0 874.4 1124.5 873.4 1126.0 872.5 1127.5 871.5 1129.0 870.6 1130.5 869.5 1132.0 868.5 1133.5 867.4 1135.0 866.3 1136.5 865.2 1138.0 864.0 1139.5 862.8 1141.0 861.6 1142.5 860.3 1144.0 859.0 1145.5 857.6 1147.0 856.2 1148.5 854.7 1150.0 853.1 1151.5 851.5 1153.0 849.7 1154.5 847.9 1156.0 846.0 1157.5 843.9 1159.0 841.8 1160.5 839.6 1162.0 837.2 1163.5 834.7 1165.0 832.1 1166.5 829.4 1168.0 826.5 1169.5 823.5 1171.0 820.3 1172.5 817.0 1174.0 813.5 1175.5 810.0 1177.0 806.4 1178.5 802.7 1180.0 799.0 1181.5 795.3 1183.0 791.5 1184.5 787.8 1186.0 784.2 1187.5 780.6 1189.0 777.0 1190.5 773.6 1192.0 770.3 1193.5 767.1 1195.0 764.1 1196.5 761.3 1198.0 758.7 1199.5 756.4 1201.0 754.3 1202.5 752.5 1204.0 751.0 1205.5 749.9 1207.0 749.1 1208.5 748.5 1210.0 748.3 1211.5 748.4 1213.0 748.9 1214.5 749.6 1216.0 750.7 1217.5 752.0 1219.0 753.7 1220.5 755.7 1222.0 757.9 1223.5 760.5 1225.0 763.3 1226.5 766.2 1228.0 769.4 1229.5 772.7 1231.0 776.2 1232.5 779.7 1234.0 783.3 1235.5 786.9 1237.0 790.7 1238.5 794.4 1240.0 798.2 1241.5 802.1 1243.0 805.9 1244.5 809.8 1246.0 813.6 1247.5 817.5 1249.0 821.3 1250.5 825.1 1252.0 828.8 1253.5 832.5 1255.0 836.1 1256.5 839.7 1258.0 843.2 1259.5 846.5 1261.0 849.8 1262.5 853.0 1264.0 856.1 1265.5 859.0 1267.0 861.8 1268.5 864.5 1270.0 867.1 1271.5 869.5 1273.0 871.8 1274.5 874.1 1276.0 876.2 1277.5 878.2 1279.0 880.1 1280.5 881.9 1282.0 883.7 1283.5 885.3 1285.0 886.8 1286.5 888.3 1288.0 889.7 1289.5 891.0 1291.0 892.2 1292.5 893.4 1294.0 894.4 1295.5 895.5 1297.0 896.4 1298.5 897.3 1300.0 898.1 1301.5 898.9 1303.0 899.7 1304.5 900.3 1306.0 901.0 1307.5 901.6 1309.0 902.1 1310.5 902.6 1312.0 903.1 1313.5 903.6 1315.0 904.0 1316.5 904.4 1318.0 904.8 1319.5 905.2 1321.0 905.5 1322.5 905.9 1324.0 906.2 1325.5 906.6 1327.0 906.9 1328.5 907.2 1330.0 907.5 1331.5 907.8 1333.0 908.1 1334.5 908.4 1336.0 908.7 1337.5 908.9 1339.0 909.2 1340.5 909.5 1342.0 909.7 1343.5 910.0 1345.0 910.2 1346.5 910.4 1348.0 910.7 1349.5 910.9 1351.0 911.1 1352.5 911.3 1354.0 911.5 1355.5 911.7 1357.0 911.9 1358.5 912.1 1360.0 912.2 1361.5 912.4 1363.0 912.6 1364.5 912.7 1366.0 912.9 1367.5 913.0 1369.0 913.1 1370.5 913.3 1372.0 913.4 1373.5 913.5 1375.0 913.6 1376.5 913.8 1378.0 913.9 1379.5 914.0 1381.0 914.1 1382.5 914.1 1384.0 914.2 1385.5 914.3 1387.0 914.4 1388.5 914.5 1390.0 914.5 1391.5 914.6 1393.0 914.6 1394.5 914.7 1396.0 914.7 1397.5 914.8 1399.0 914.8 1400.5 914.8 1402.0 914.9 1403.5 914.9 1405.0 914.9 1406.5 914.9 1408.0 914.9 1409.5 914.9 1411.0 914.9 1412.5 914.9 1414.0 914.9 1415.5 914.9 1417.0 914.9 1418.5 914.9 1420.0 914.9 1421.5 914.8 1423.0 914.8 1424.5 914.8 1426.0 914.8" fill="none" stroke="#231f20" stroke-width="4.2" stroke-linejoin="round" clip-path="url(#cd)"/>
<path d="M904.0 911.2L905.5 911.2 907.0 911.1 908.5 910.9 910.0 910.7 911.5 910.6 913.0 910.4 914.5 910.3 916.0 910.1 917.5 910.0 919.0 909.9 920.5 909.7 922.0 909.6 923.5 909.5 925.0 909.4 926.5 909.3 928.0 909.1 929.5 909.0 931.0 908.9 932.5 908.8 934.0 908.7 935.5 908.6 937.0 908.5 938.5 908.5 940.0 908.4 941.5 908.3 943.0 908.2 944.5 908.1 946.0 908.0 947.5 908.0 949.0 907.9 950.5 907.8 952.0 907.7 953.5 907.7 955.0 907.6 956.5 907.5 958.0 907.4 959.5 907.4 961.0 907.3 962.5 907.2 964.0 907.2 965.5 907.1 967.0 907.0 968.5 907.0 970.0 906.9 971.5 906.8 973.0 906.8 974.5 906.7 976.0 906.6 977.5 906.5 979.0 906.5 980.5 906.4 982.0 906.3 983.5 906.2 985.0 906.2 986.5 906.1 988.0 906.0 989.5 905.9 991.0 905.8 992.5 905.7 994.0 905.6 995.5 905.5 997.0 905.4 998.5 905.3 1000.0 905.2 1001.5 905.1 1003.0 905.0 1004.5 904.9 1006.0 904.8 1007.5 904.7 1009.0 904.6 1010.5 904.4 1012.0 904.3 1013.5 904.2 1015.0 904.0 1016.5 903.9 1018.0 903.7 1019.5 903.6 1021.0 903.4 1022.5 903.2 1024.0 903.1 1025.5 902.9 1027.0 902.7 1028.5 902.5 1030.0 902.3 1031.5 902.1 1033.0 901.9 1034.5 901.7 1036.0 901.5 1037.5 901.3 1039.0 901.1 1040.5 900.8 1042.0 900.6 1043.5 900.3 1045.0 900.1 1046.5 899.8 1048.0 899.5 1049.5 899.3 1051.0 899.0 1052.5 898.7 1054.0 898.4 1055.5 898.1 1057.0 897.7 1058.5 897.4 1060.0 897.1 1061.5 896.7 1063.0 896.4 1064.5 896.0 1066.0 895.7 1067.5 895.3 1069.0 894.9 1070.5 894.5 1072.0 894.1 1073.5 893.7 1075.0 893.3 1076.5 892.8 1078.0 892.4 1079.5 891.9 1081.0 891.4 1082.5 890.9 1084.0 890.4 1085.5 889.9 1087.0 889.4 1088.5 888.8 1090.0 888.3 1091.5 887.7 1093.0 887.1 1094.5 886.5 1096.0 885.8 1097.5 885.2 1099.0 884.5 1100.5 883.8 1102.0 883.0 1103.5 882.3 1105.0 881.5 1106.5 880.7 1108.0 879.9 1109.5 879.0 1111.0 878.1 1112.5 877.2 1114.0 876.3 1115.5 875.3 1117.0 874.3 1118.5 873.3 1120.0 872.3 1121.5 871.2 1123.0 870.1 1124.5 869.0 1126.0 867.8 1127.5 866.7 1129.0 865.5 1130.5 864.3 1132.0 863.1 1133.5 861.9 1135.0 860.6 1136.5 859.4 1138.0 858.1 1139.5 856.9 1141.0 855.6 1142.5 854.3 1144.0 853.1 1145.5 851.8 1147.0 850.5 1148.5 849.3 1150.0 848.0 1151.5 846.7 1153.0 845.5 1154.5 844.2 1156.0 843.0 1157.5 841.7 1159.0 840.5 1160.5 839.3 1162.0 838.1 1163.5 837.0 1165.0 835.9 1166.5 834.8 1168.0 833.8 1169.5 832.9 1171.0 832.1 1172.5 831.3 1174.0 830.6 1175.5 830.1 1177.0 829.7 1178.5 829.3 1180.0 829.2 1181.5 829.1 1183.0 829.3 1184.5 829.5 1186.0 830.0 1187.5 830.6 1189.0 831.3 1190.5 832.1 1192.0 833.1 1193.5 834.2 1195.0 835.4 1196.5 836.7 1198.0 838.1 1199.5 839.6 1201.0 841.2 1202.5 842.8 1204.0 844.5 1205.5 846.3 1207.0 848.0 1208.5 849.9 1210.0 851.7 1211.5 853.6 1213.0 855.5 1214.5 857.4 1216.0 859.3 1217.5 861.2 1219.0 863.0 1220.5 864.8 1222.0 866.6 1223.5 868.4 1225.0 870.1 1226.5 871.8 1228.0 873.4 1229.5 874.9 1231.0 876.4 1232.5 877.8 1234.0 879.2 1235.5 880.6 1237.0 881.9 1238.5 883.1 1240.0 884.3 1241.5 885.5 1243.0 886.6 1244.5 887.7 1246.0 888.7 1247.5 889.7 1249.0 890.7 1250.5 891.6 1252.0 892.5 1253.5 893.4 1255.0 894.2 1256.5 895.0 1258.0 895.8 1259.5 896.6 1261.0 897.3 1262.5 898.0 1264.0 898.7 1265.5 899.3 1267.0 900.0 1268.5 900.6 1270.0 901.2 1271.5 901.7 1273.0 902.3 1274.5 902.8 1276.0 903.4 1277.5 903.9 1279.0 904.3 1280.5 904.8 1282.0 905.3 1283.5 905.7 1285.0 906.1 1286.5 906.5 1288.0 906.9 1289.5 907.3 1291.0 907.7 1292.5 908.0 1294.0 908.3 1295.5 908.7 1297.0 909.0 1298.5 909.3 1300.0 909.5 1301.5 909.8 1303.0 910.1 1304.5 910.3 1306.0 910.5 1307.5 910.7 1309.0 911.0 1310.5 911.1 1312.0 911.3 1313.5 911.5 1315.0 911.7 1316.5 911.8 1318.0 912.0 1319.5 912.1 1321.0 912.2 1322.5 912.4 1324.0 912.5 1325.5 912.6 1327.0 912.7 1328.5 912.8 1330.0 912.8 1331.5 912.9 1333.0 913.0 1334.5 913.0 1336.0 913.1 1337.5 913.1 1339.0 913.2 1340.5 913.2 1342.0 913.2 1343.5 913.3 1345.0 913.3 1346.5 913.3 1348.0 913.3 1349.5 913.3 1351.0 913.3 1352.5 913.3 1354.0 913.3 1355.5 913.3 1357.0 913.3 1358.5 913.3 1360.0 913.3 1361.5 913.3 1363.0 913.3 1364.5 913.3 1366.0 913.3 1367.5 913.3 1369.0 913.3 1370.5 913.3 1372.0 913.3 1373.5 913.3 1375.0 913.2 1376.5 913.2 1378.0 913.2 1379.5 913.2 1381.0 913.2 1382.5 913.2 1384.0 913.3 1385.5 913.3 1387.0 913.3 1388.5 913.3 1390.0 913.3 1391.5 913.3 1393.0 913.4 1394.5 913.4 1396.0 913.5 1397.5 913.5 1399.0 913.6 1400.5 913.6 1402.0 913.7 1403.5 913.8 1405.0 913.8 1406.5 913.9 1408.0 914.0 1409.5 914.1 1411.0 914.2 1412.5 914.4 1414.0 914.5 1415.5 914.6 1417.0 914.8 1418.5 914.9 1420.0 915.1 1421.5 915.3 1423.0 915.5 1424.5 915.7 1426.0 915.7" fill="none" stroke="#e8232b" stroke-width="4.2" stroke-linejoin="round" clip-path="url(#cd)"/>
<path d="M905.0 1084.3L906.4 1085.1 907.8 1083.0 909.2 1082.2 910.6 1083.2 912.0 1084.9 913.4 1083.9 914.8 1081.8 916.2 1081.6 917.6 1082.2 919.0 1083.4 920.4 1082.6 921.8 1081.9 923.2 1081.8 924.6 1082.1 926.0 1081.1 927.4 1081.5 928.8 1081.8 930.2 1083.3 931.6 1081.8 933.0 1082.4 934.4 1080.3 935.8 1081.6 937.2 1081.2 938.6 1080.1 940.0 1080.3 941.4 1081.2 942.8 1080.0 944.2 1081.0 945.6 1081.7 947.0 1081.9 948.4 1081.8 949.8 1078.5 951.2 1079.1 952.6 1078.1 954.0 1079.4 955.4 1078.7 956.8 1078.5 958.2 1078.5 959.6 1077.2 961.0 1077.4 962.4 1076.4 963.8 1078.9 965.2 1076.7 966.6 1076.4 968.0 1074.2 969.4 1073.6 970.8 1073.9 972.2 1075.6 973.6 1075.8 975.0 1075.1 976.4 1073.6 977.8 1075.6 979.2 1072.8 980.6 1071.9 982.0 1072.8 983.4 1071.2 984.8 1071.8 986.2 1072.5 987.6 1071.3 989.0 1071.1 990.4 1070.4 991.8 1069.1 993.2 1065.8 994.6 1066.6 996.0 1067.9 997.4 1066.3 998.8 1066.7 1000.2 1067.4 1001.6 1068.6 1003.0 1065.7 1004.4 1065.6 1005.8 1066.1 1007.2 1066.4 1008.6 1064.2 1010.0 1066.8 1011.4 1064.5 1012.8 1065.6 1014.2 1064.3 1015.6 1064.4 1017.0 1065.5 1018.4 1064.6 1019.8 1063.5 1021.2 1061.6 1022.6 1061.2 1024.0 1060.0 1025.4 1063.1 1026.8 1059.8 1028.2 1057.5 1029.6 1061.0 1031.0 1061.4 1032.4 1059.4 1033.8 1059.7 1035.2 1057.7 1036.6 1057.0 1038.0 1057.6 1039.4 1057.2 1040.8 1055.8 1042.2 1057.3 1043.6 1056.4 1045.0 1055.1 1046.4 1052.8 1047.8 1053.2 1049.2 1052.4 1050.6 1052.0 1052.0 1052.4 1053.4 1050.6 1054.8 1050.5 1056.2 1050.7 1057.6 1049.8 1059.0 1051.2 1060.4 1046.8 1061.8 1046.8 1063.2 1045.1 1064.6 1045.4 1066.0 1047.8 1067.4 1043.5 1068.8 1043.1 1070.2 1043.6 1071.6 1042.6 1073.0 1042.7 1074.4 1039.5 1075.8 1040.8 1077.2 1038.5 1078.6 1037.1 1080.0 1038.1 1081.4 1037.7 1082.8 1035.8 1084.2 1034.7 1085.6 1034.5 1087.0 1034.2 1088.4 1033.5 1089.8 1031.9 1091.2 1029.7 1092.6 1032.8 1094.0 1032.4 1095.4 1031.1 1096.8 1030.5 1098.2 1031.0 1099.6 1031.0 1101.0 1028.6 1102.4 1031.2 1103.8 1030.3 1105.2 1028.5 1106.6 1028.1 1108.0 1027.1 1109.4 1027.1 1110.8 1025.4 1112.2 1025.4 1113.6 1025.1 1115.0 1022.4 1116.4 1020.8 1117.8 1019.3 1119.2 1019.0 1120.6 1018.0 1122.0 1018.0 1123.4 1018.0 1124.8 1018.0 1126.2 1015.9 1127.6 1017.5 1129.0 1016.2 1130.4 1016.0 1131.8 1015.3 1133.2 1013.4 1134.6 1015.3 1136.0 1013.5 1137.4 1016.2 1138.8 1015.7 1140.2 1017.3 1141.6 1016.7 1143.0 1016.6 1144.4 1017.3 1145.8 1015.9 1147.2 1017.2 1148.6 1015.8 1150.0 1015.8 1151.4 1014.8 1152.8 1015.8 1154.2 1016.3 1155.6 1015.2 1157.0 1014.1 1158.4 1015.1 1159.8 1016.0 1161.2 1015.7 1162.6 1014.8 1164.0 1014.9 1165.4 1015.5 1166.8 1013.2 1168.2 1014.9 1169.6 1017.7 1171.0 1015.7 1172.4 1016.4 1173.8 1018.8 1175.2 1018.6 1176.6 1018.9 1178.0 1018.0 1179.4 1016.6 1180.8 1021.0 1182.2 1019.6 1183.6 1019.4 1185.0 1021.0 1186.4 1020.9 1187.8 1020.2 1189.2 1019.1 1190.6 1020.0 1192.0 1020.7 1193.4 1020.6 1194.8 1020.8 1196.2 1021.1 1197.6 1022.6 1199.0 1022.9 1200.4 1024.6 1201.8 1026.3 1203.2 1026.5 1204.6 1026.7 1206.0 1029.0 1207.4 1029.3 1208.8 1027.5 1210.2 1028.4 1211.6 1030.2 1213.0 1030.1 1214.4 1032.5 1215.8 1031.0 1217.2 1031.0 1218.6 1034.7 1220.0 1036.0 1221.4 1034.6 1222.8 1036.7 1224.2 1039.3 1225.6 1038.0 1227.0 1038.2 1228.4 1038.9 1229.8 1040.0 1231.2 1040.2 1232.6 1042.3 1234.0 1042.5 1235.4 1044.9 1236.8 1048.7 1238.2 1046.9 1239.6 1049.2 1241.0 1050.8 1242.4 1048.2 1243.8 1050.8 1245.2 1052.1 1246.6 1052.8 1248.0 1055.0 1249.4 1055.0 1250.8 1056.6 1252.2 1057.0 1253.6 1058.1 1255.0 1058.4 1256.4 1062.5 1257.8 1061.8 1259.2 1061.1 1260.6 1064.9 1262.0 1066.2 1263.4 1065.3 1264.8 1065.1 1266.2 1065.6 1267.6 1068.5 1269.0 1068.2 1270.4 1068.3 1271.8 1070.6 1273.2 1070.6 1274.6 1071.4 1276.0 1074.3 1277.4 1074.5 1278.8 1075.5 1280.2 1075.4 1281.6 1076.8 1283.0 1076.1 1284.4 1077.6 1285.8 1078.6 1287.2 1077.7 1288.6 1076.9 1290.0 1079.0 1291.4 1079.3 1292.8 1080.6 1294.2 1079.9 1295.6 1081.3 1297.0 1082.6 1298.4 1084.8 1299.8 1085.1 1301.2 1084.0 1302.6 1085.1 1304.0 1083.5 1305.4 1085.3 1306.8 1085.0 1308.2 1086.5 1309.6 1086.1 1311.0 1085.7 1312.4 1085.3 1313.8 1087.7 1315.2 1087.3 1316.6 1088.2 1318.0 1088.4 1319.4 1086.0 1320.8 1088.4 1322.2 1088.3 1323.6 1089.4 1325.0 1090.0 1326.4 1087.9 1327.8 1089.1 1329.2 1090.0 1330.6 1090.9 1332.0 1092.0 1333.4 1090.7 1334.8 1091.0 1336.2 1092.2 1337.6 1090.1 1339.0 1093.6 1340.4 1091.8 1341.8 1093.8 1343.2 1093.3 1344.6 1095.2 1346.0 1095.0 1347.4 1093.9 1348.8 1091.8 1350.2 1093.3 1351.6 1094.1 1353.0 1094.7 1354.4 1093.0 1355.8 1093.0 1357.2 1093.2 1358.6 1094.5 1360.0 1093.6 1361.4 1094.3 1362.8 1095.7 1364.2 1094.6 1365.6 1096.3 1367.0 1095.7 1368.4 1095.0 1369.8 1096.2 1371.2 1096.0 1372.6 1095.1 1374.0 1094.6 1375.4 1095.0 1376.8 1095.6 1378.2 1096.7 1379.6 1096.2 1381.0 1095.1 1382.4 1094.0 1383.8 1095.5 1385.2 1096.2 1386.6 1097.2 1388.0 1095.8 1389.4 1094.6 1390.8 1096.6 1392.2 1096.2 1393.6 1094.9 1395.0 1097.8 1396.4 1097.8 1397.8 1097.0 1399.2 1097.0 1400.6 1095.9 1402.0 1097.5 1403.4 1096.4 1404.8 1096.1 1406.2 1096.2 1407.6 1095.3 1409.0 1097.4 1410.4 1098.7 1411.8 1098.1 1413.2 1094.9 1414.6 1095.8 1416.0 1095.7 1417.4 1096.8 1418.8 1094.3 1420.2 1093.6 1421.6 1095.2 1423.0 1097.3 1424.4 1096.6 1425.8 1099.0" fill="none" stroke="#231f20" stroke-width="4.6" stroke-linejoin="round" clip-path="url(#cd)"/>
<path d="M905.0 1066.0L906.4 1065.4 907.8 1069.2 909.2 1066.7 910.6 1065.5 912.0 1065.2 913.4 1063.8 914.8 1063.0 916.2 1064.0 917.6 1063.0 919.0 1063.9 920.4 1062.8 921.8 1060.5 923.2 1060.2 924.6 1060.4 926.0 1059.0 927.4 1060.5 928.8 1060.5 930.2 1061.7 931.6 1059.8 933.0 1059.7 934.4 1060.4 935.8 1060.6 937.2 1058.4 938.6 1060.4 940.0 1058.2 941.4 1059.4 942.8 1057.8 944.2 1056.9 945.6 1055.4 947.0 1055.9 948.4 1058.7 949.8 1055.8 951.2 1057.1 952.6 1056.9 954.0 1054.6 955.4 1055.3 956.8 1055.5 958.2 1053.2 959.6 1052.0 961.0 1053.1 962.4 1052.2 963.8 1053.5 965.2 1051.5 966.6 1048.7 968.0 1048.6 969.4 1046.8 970.8 1048.0 972.2 1047.8 973.6 1045.9 975.0 1044.2 976.4 1045.1 977.8 1043.3 979.2 1044.0 980.6 1041.0 982.0 1040.3 983.4 1039.1 984.8 1037.5 986.2 1040.7 987.6 1039.8 989.0 1036.1 990.4 1036.0 991.8 1032.3 993.2 1034.0 994.6 1033.7 996.0 1031.2 997.4 1029.8 998.8 1029.5 1000.2 1029.0 1001.6 1027.2 1003.0 1025.5 1004.4 1025.1 1005.8 1024.1 1007.2 1024.6 1008.6 1023.4 1010.0 1022.5 1011.4 1019.5 1012.8 1019.4 1014.2 1018.8 1015.6 1017.8 1017.0 1017.4 1018.4 1016.4 1019.8 1014.1 1021.2 1015.6 1022.6 1015.4 1024.0 1013.0 1025.4 1012.9 1026.8 1010.4 1028.2 1008.6 1029.6 1008.6 1031.0 1009.9 1032.4 1007.6 1033.8 1004.6 1035.2 1005.0 1036.6 1003.4 1038.0 1002.0 1039.4 1002.0 1040.8 998.9 1042.2 997.1 1043.6 996.1 1045.0 998.0 1046.4 996.6 1047.8 994.6 1049.2 993.1 1050.6 993.4 1052.0 993.4 1053.4 990.3 1054.8 989.7 1056.2 991.1 1057.6 988.6 1059.0 986.0 1060.4 985.1 1061.8 983.8 1063.2 983.1 1064.6 981.7 1066.0 979.4 1067.4 978.2 1068.8 977.6 1070.2 975.2 1071.6 974.5 1073.0 972.2 1074.4 973.1 1075.8 972.8 1077.2 969.0 1078.6 968.9 1080.0 967.2 1081.4 965.7 1082.8 964.0 1084.2 963.2 1085.6 962.9 1087.0 959.5 1088.4 960.2 1089.8 958.2 1091.2 956.0 1092.6 956.0 1094.0 956.5 1095.4 956.0 1096.8 956.6 1098.2 955.8 1099.6 954.8 1101.0 955.7 1102.4 953.0 1103.8 953.8 1105.2 952.6 1106.6 950.8 1108.0 949.6 1109.4 948.5 1110.8 947.7 1112.2 946.8 1113.6 945.8 1115.0 942.7 1116.4 940.9 1117.8 942.6 1119.2 941.4 1120.6 940.6 1122.0 940.3 1123.4 938.7 1124.8 940.8 1126.2 939.3 1127.6 938.2 1129.0 936.5 1130.4 937.9 1131.8 937.8 1133.2 938.3 1134.6 937.5 1136.0 935.1 1137.4 933.6 1138.8 936.0 1140.2 934.3 1141.6 934.3 1143.0 934.2 1144.4 934.9 1145.8 935.2 1147.2 933.5 1148.6 933.6 1150.0 932.6 1151.4 935.2 1152.8 935.4 1154.2 934.0 1155.6 937.0 1157.0 937.1 1158.4 936.4 1159.8 937.3 1161.2 937.7 1162.6 939.1 1164.0 940.1 1165.4 940.0 1166.8 941.5 1168.2 939.0 1169.6 941.3 1171.0 943.6 1172.4 945.2 1173.8 946.1 1175.2 945.0 1176.6 944.8 1178.0 947.0 1179.4 951.6 1180.8 951.4 1182.2 951.0 1183.6 950.6 1185.0 953.4 1186.4 954.3 1187.8 956.5 1189.2 957.8 1190.6 956.3 1192.0 959.4 1193.4 962.5 1194.8 963.2 1196.2 964.0 1197.6 965.6 1199.0 967.4 1200.4 973.3 1201.8 975.7 1203.2 975.6 1204.6 979.3 1206.0 979.1 1207.4 981.2 1208.8 983.2 1210.2 986.0 1211.6 989.4 1213.0 993.6 1214.4 994.9 1215.8 996.0 1217.2 998.2 1218.6 1000.0 1220.0 1002.8 1221.4 1003.8 1222.8 1007.0 1224.2 1009.8 1225.6 1012.7 1227.0 1013.0 1228.4 1016.0 1229.8 1018.2 1231.2 1019.1 1232.6 1019.4 1234.0 1022.5 1235.4 1026.4 1236.8 1027.6 1238.2 1032.1 1239.6 1032.7 1241.0 1032.6 1242.4 1034.5 1243.8 1036.8 1245.2 1038.6 1246.6 1039.4 1248.0 1041.4 1249.4 1045.7 1250.8 1045.6 1252.2 1045.6 1253.6 1045.7 1255.0 1045.0 1256.4 1047.6 1257.8 1048.4 1259.2 1049.6 1260.6 1049.9 1262.0 1052.0 1263.4 1053.5 1264.8 1052.4 1266.2 1051.8 1267.6 1054.0 1269.0 1056.4 1270.4 1056.4 1271.8 1057.0 1273.2 1055.5 1274.6 1056.4 1276.0 1058.4 1277.4 1059.2 1278.8 1059.4 1280.2 1060.5 1281.6 1061.5 1283.0 1061.4 1284.4 1060.8 1285.8 1060.2 1287.2 1062.2 1288.6 1062.7 1290.0 1063.2 1291.4 1065.1 1292.8 1064.0 1294.2 1064.4 1295.6 1065.8 1297.0 1064.8 1298.4 1063.4 1299.8 1065.0 1301.2 1067.3 1302.6 1066.7 1304.0 1067.1 1305.4 1065.7 1306.8 1069.0 1308.2 1066.9 1309.6 1067.7 1311.0 1068.8 1312.4 1071.7 1313.8 1070.7 1315.2 1069.7 1316.6 1068.7 1318.0 1070.0 1319.4 1069.5 1320.8 1070.3 1322.2 1071.4 1323.6 1073.2 1325.0 1071.4 1326.4 1073.8 1327.8 1071.0 1329.2 1074.6 1330.6 1073.0 1332.0 1073.0 1333.4 1073.1 1334.8 1074.0 1336.2 1074.2 1337.6 1074.0 1339.0 1073.7 1340.4 1074.0 1341.8 1074.9 1343.2 1074.6 1344.6 1074.5 1346.0 1073.8 1347.4 1075.3 1348.8 1076.4 1350.2 1075.2 1351.6 1077.3 1353.0 1076.9 1354.4 1077.0 1355.8 1075.2 1357.2 1077.4 1358.6 1078.9 1360.0 1080.3 1361.4 1078.0 1362.8 1078.1 1364.2 1079.2 1365.6 1079.4 1367.0 1078.3 1368.4 1078.9 1369.8 1080.3 1371.2 1080.4 1372.6 1079.8 1374.0 1081.0 1375.4 1078.7 1376.8 1080.3 1378.2 1079.7 1379.6 1079.9 1381.0 1081.4 1382.4 1083.0 1383.8 1082.2 1385.2 1081.7 1386.6 1083.3 1388.0 1082.9 1389.4 1079.6 1390.8 1080.5 1392.2 1080.8 1393.6 1081.0 1395.0 1080.2 1396.4 1082.5 1397.8 1082.7 1399.2 1084.6 1400.6 1083.0 1402.0 1083.0 1403.4 1082.1 1404.8 1083.9 1406.2 1084.8 1407.6 1085.5 1409.0 1085.1 1410.4 1083.2 1411.8 1084.7 1413.2 1082.8 1414.6 1082.6 1416.0 1083.1 1417.4 1085.8 1418.8 1083.5 1420.2 1082.6 1421.6 1083.7 1423.0 1085.1 1424.4 1084.9 1425.8 1084.8" fill="none" stroke="#e8232b" stroke-width="4.6" stroke-linejoin="round" clip-path="url(#cd)"/>
<circle cx="428.7" cy="1513.6" r="9.7" fill="#231f20"/><circle cx="425.8" cy="1510.7" r="5.6" fill="url(#hk)"/>
<circle cx="452.6" cy="1522.1" r="9.7" fill="#231f20"/><circle cx="449.7" cy="1519.2" r="5.6" fill="url(#hk)"/>
<circle cx="476.4" cy="1515.3" r="9.7" fill="#231f20"/><circle cx="473.5" cy="1512.4" r="5.6" fill="url(#hk)"/>
<circle cx="500.3" cy="1531.3" r="9.7" fill="#231f20"/><circle cx="497.4" cy="1528.4" r="5.6" fill="url(#hk)"/>
<circle cx="524.1" cy="1516" r="9.7" fill="#231f20"/><circle cx="521.2" cy="1513.1" r="5.6" fill="url(#hk)"/>
<circle cx="548" cy="1473.3" r="9.7" fill="#231f20"/><circle cx="545.1" cy="1470.4" r="5.6" fill="url(#hk)"/>
<circle cx="559.9" cy="1443.7" r="9.7" fill="#231f20"/><circle cx="557" cy="1440.8" r="5.6" fill="url(#hk)"/>
<circle cx="571.9" cy="1425" r="9.7" fill="#231f20"/><circle cx="569" cy="1422.1" r="5.6" fill="url(#hk)"/>
<circle cx="583.8" cy="1396.7" r="9.7" fill="#231f20"/><circle cx="580.9" cy="1393.8" r="5.6" fill="url(#hk)"/>
<circle cx="595.7" cy="1384.7" r="9.7" fill="#231f20"/><circle cx="592.8" cy="1381.8" r="5.6" fill="url(#hk)"/>
<circle cx="619.6" cy="1358.5" r="9.7" fill="#231f20"/><circle cx="616.7" cy="1355.6" r="5.6" fill="url(#hk)"/>
<circle cx="631.5" cy="1343.8" r="9.7" fill="#231f20"/><circle cx="628.6" cy="1340.9" r="5.6" fill="url(#hk)"/>
<circle cx="643.4" cy="1333.9" r="9.7" fill="#231f20"/><circle cx="640.5" cy="1331" r="5.6" fill="url(#hk)"/>
<circle cx="655.4" cy="1338.7" r="9.7" fill="#231f20"/><circle cx="652.5" cy="1335.8" r="5.6" fill="url(#hk)"/>
<circle cx="667.6" cy="1321.7" r="9.7" fill="#231f20"/><circle cx="664.7" cy="1318.8" r="5.6" fill="url(#hk)"/>
<circle cx="679.9" cy="1312.5" r="9.7" fill="#231f20"/><circle cx="677" cy="1309.6" r="5.6" fill="url(#hk)"/>
<circle cx="698" cy="1312.5" r="9.7" fill="#231f20"/><circle cx="695.1" cy="1309.6" r="5.6" fill="url(#hk)"/>
<circle cx="727.8" cy="1313.8" r="9.7" fill="#231f20"/><circle cx="724.9" cy="1310.9" r="5.6" fill="url(#hk)"/>
<circle cx="757.8" cy="1292.9" r="9.7" fill="#231f20"/><circle cx="754.9" cy="1290" r="5.6" fill="url(#hk)"/>
<circle cx="787.9" cy="1288.6" r="9.7" fill="#231f20"/><circle cx="785" cy="1285.7" r="5.6" fill="url(#hk)"/>
<circle cx="818" cy="1304.6" r="9.7" fill="#231f20"/><circle cx="815.1" cy="1301.7" r="5.6" fill="url(#hk)"/>
<circle cx="847.8" cy="1284" r="9.7" fill="#231f20"/><circle cx="844.9" cy="1281.1" r="5.6" fill="url(#hk)"/>
<circle cx="878" cy="1297.8" r="9.7" fill="#231f20"/><circle cx="875.1" cy="1294.9" r="5.6" fill="url(#hk)"/>
<circle cx="908.1" cy="1285.1" r="9.7" fill="#231f20"/><circle cx="905.2" cy="1282.2" r="5.6" fill="url(#hk)"/>
<circle cx="968" cy="1265.2" r="9.7" fill="#231f20"/><circle cx="965.1" cy="1262.3" r="5.6" fill="url(#hk)"/>
<circle cx="1027.9" cy="1261" r="9.7" fill="#231f20"/><circle cx="1025" cy="1258.1" r="5.6" fill="url(#hk)"/>
<circle cx="1087.8" cy="1264.5" r="9.7" fill="#231f20"/><circle cx="1084.9" cy="1261.6" r="5.6" fill="url(#hk)"/>
<circle cx="1147.7" cy="1257.8" r="9.7" fill="#231f20"/><circle cx="1144.8" cy="1254.9" r="5.6" fill="url(#hk)"/>
<circle cx="428.7" cy="1552.1" r="9.7" fill="#e8262b"/><circle cx="425.8" cy="1549.2" r="5.8" fill="url(#hr)"/>
<circle cx="458.4" cy="1552.1" r="9.7" fill="#e8262b"/><circle cx="455.5" cy="1549.2" r="5.8" fill="url(#hr)"/>
<circle cx="488.4" cy="1554.5" r="9.7" fill="#e8262b"/><circle cx="485.5" cy="1551.6" r="5.8" fill="url(#hr)"/>
<circle cx="518.3" cy="1556.9" r="9.7" fill="#e8262b"/><circle cx="515.4" cy="1554" r="5.8" fill="url(#hr)"/>
<circle cx="548" cy="1543.2" r="9.7" fill="#e8262b"/><circle cx="545.1" cy="1540.3" r="5.8" fill="url(#hr)"/>
<circle cx="577.7" cy="1526.5" r="9.7" fill="#e8262b"/><circle cx="574.8" cy="1523.6" r="5.8" fill="url(#hr)"/>
<circle cx="607.6" cy="1509.5" r="9.7" fill="#e8262b"/><circle cx="604.7" cy="1506.6" r="5.8" fill="url(#hr)"/>
<circle cx="637.6" cy="1502.7" r="9.7" fill="#e8262b"/><circle cx="634.7" cy="1499.8" r="5.8" fill="url(#hr)"/>
<circle cx="667.6" cy="1498.6" r="9.7" fill="#e8262b"/><circle cx="664.7" cy="1495.7" r="5.8" fill="url(#hr)"/>
<circle cx="727.8" cy="1486.2" r="9.7" fill="#e8262b"/><circle cx="724.9" cy="1483.3" r="5.8" fill="url(#hr)"/>
<circle cx="787.9" cy="1482.9" r="9.7" fill="#e8262b"/><circle cx="785" cy="1480" r="5.8" fill="url(#hr)"/>
<circle cx="847.8" cy="1477.6" r="9.7" fill="#e8262b"/><circle cx="844.9" cy="1474.7" r="5.8" fill="url(#hr)"/>
<circle cx="908.1" cy="1479.7" r="9.7" fill="#e8262b"/><circle cx="905.2" cy="1476.8" r="5.8" fill="url(#hr)"/>
<circle cx="1027.9" cy="1477.2" r="9.7" fill="#e8262b"/><circle cx="1025" cy="1474.3" r="5.8" fill="url(#hr)"/>
<circle cx="1147.7" cy="1478.3" r="9.7" fill="#e8262b"/><circle cx="1144.8" cy="1475.4" r="5.8" fill="url(#hr)"/>
</svg>
</body></html>
